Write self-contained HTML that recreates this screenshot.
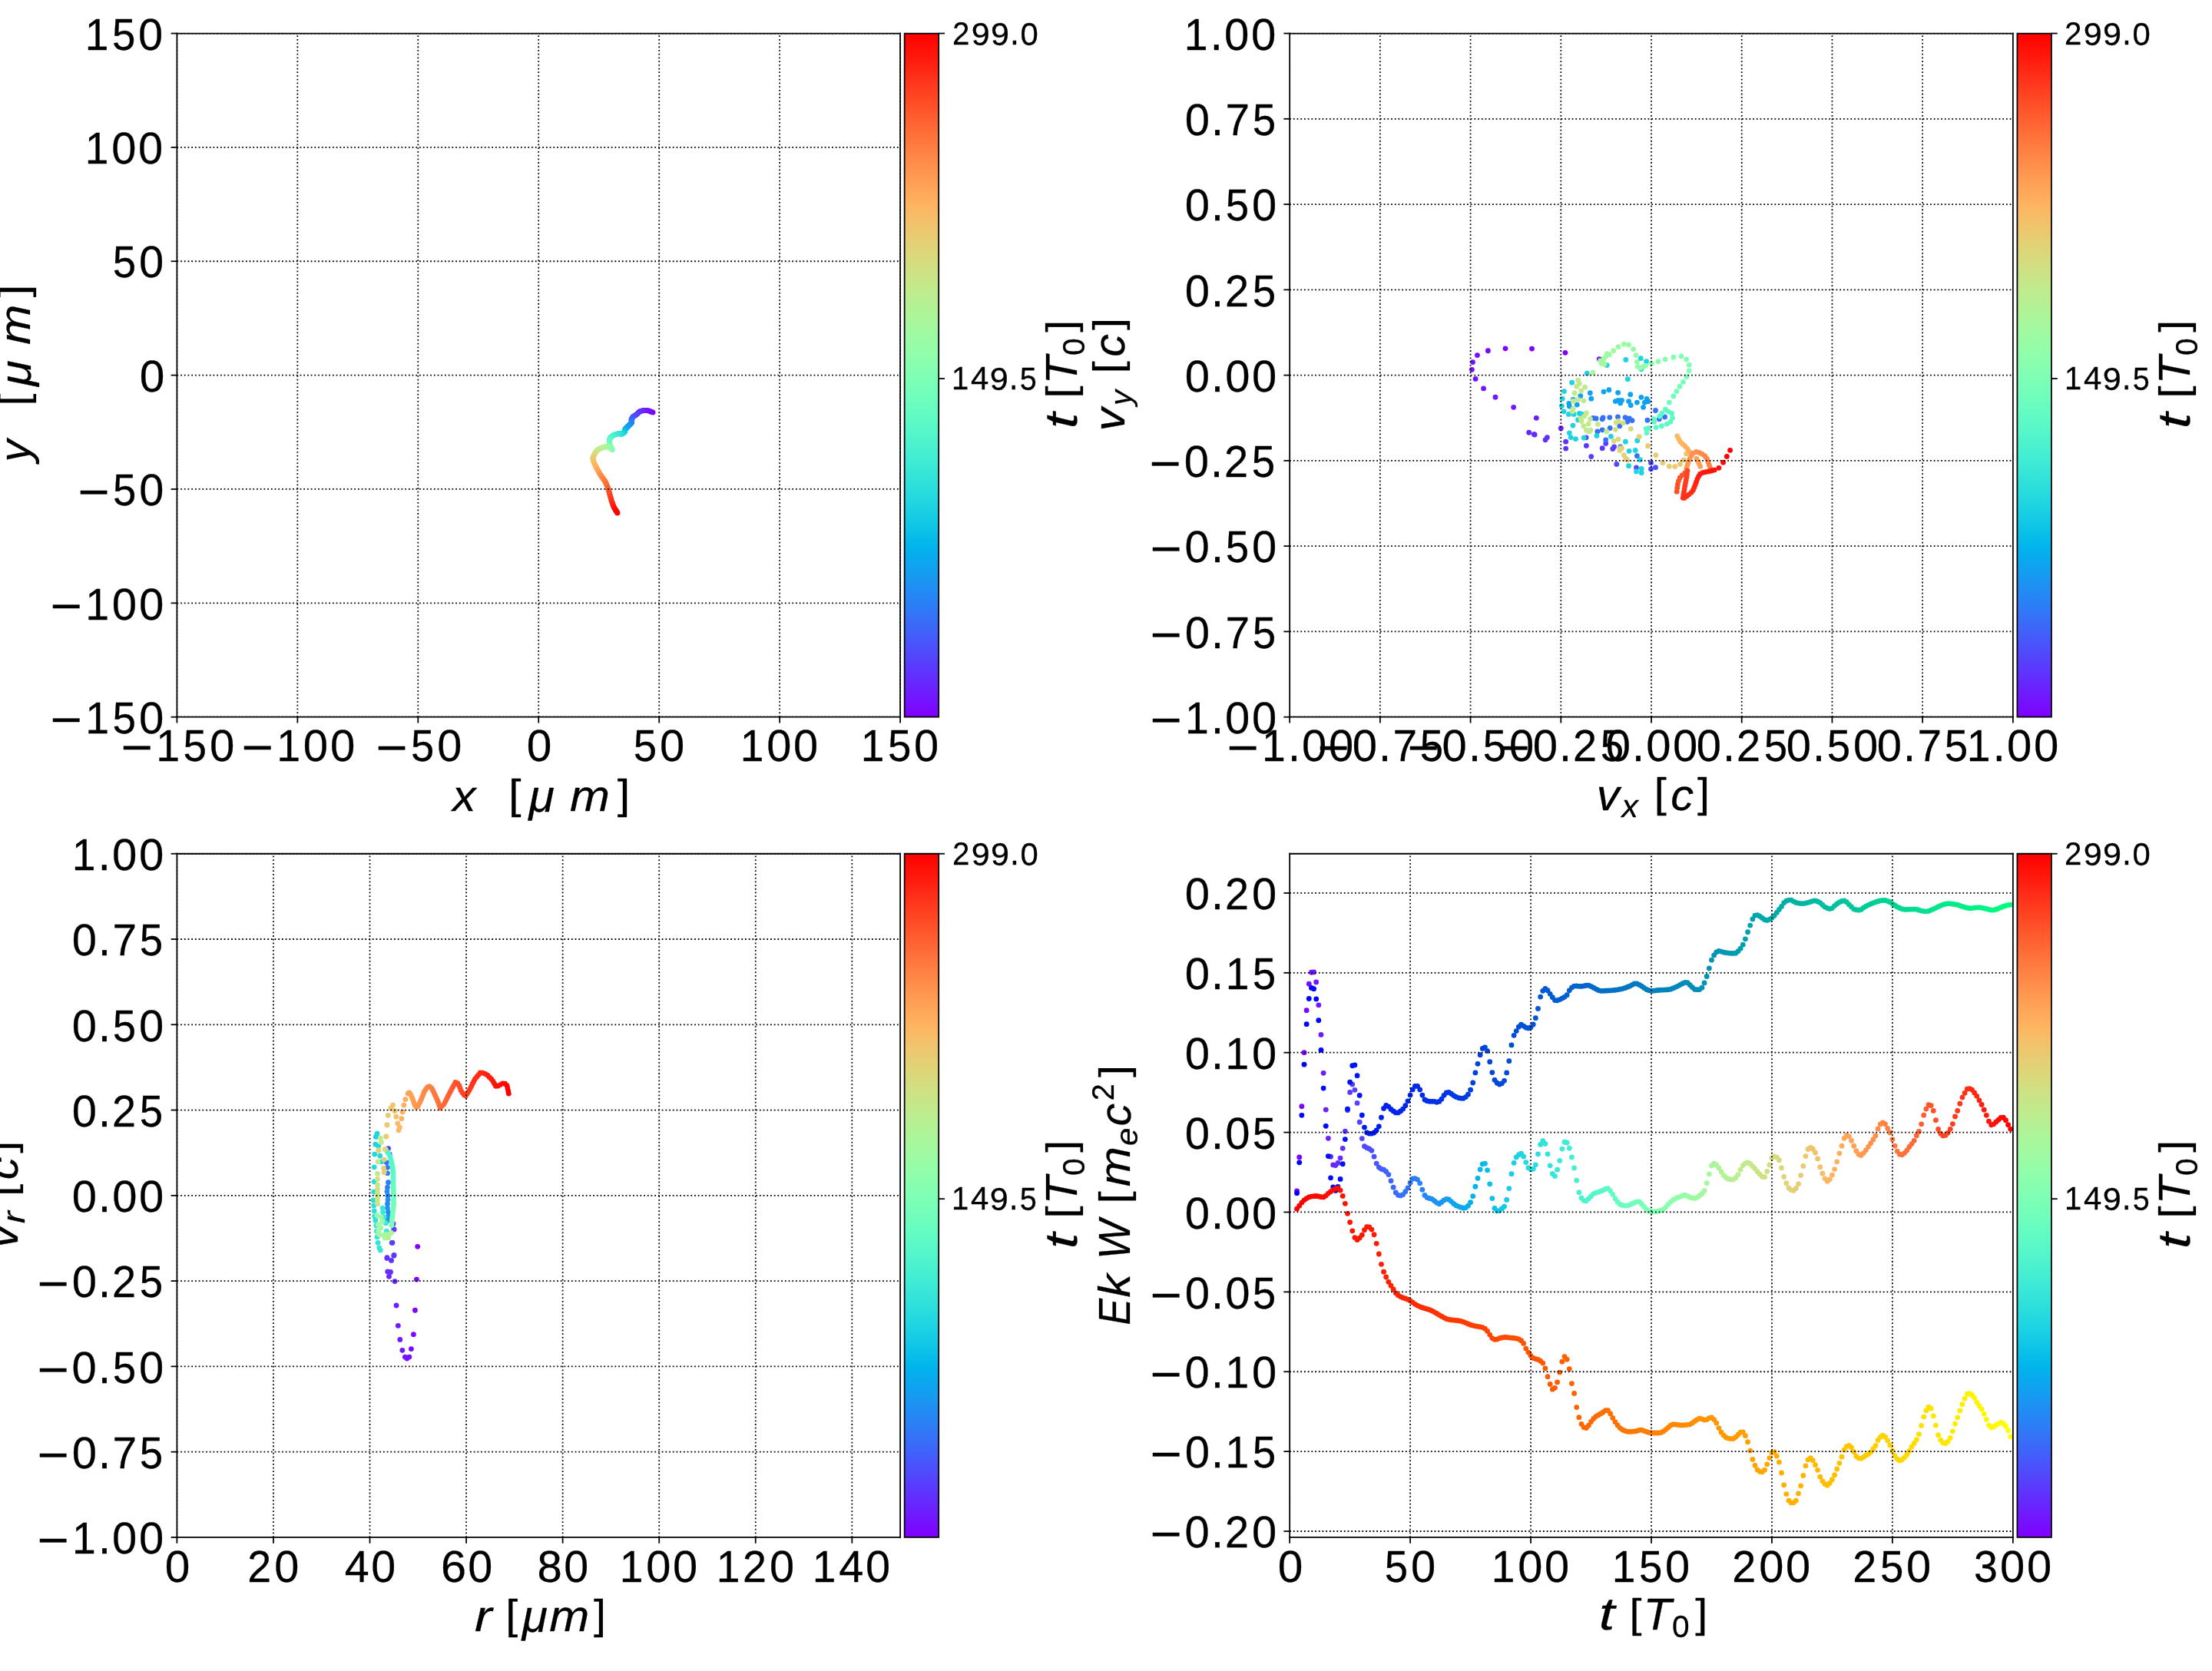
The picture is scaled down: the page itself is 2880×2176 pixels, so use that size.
<!DOCTYPE html>
<html><head><meta charset="utf-8"><title>plot</title><style>html,body{margin:0;padding:0;background:#fff;overflow:hidden}svg{display:block}</style></head><body>
<svg width="2880" height="2176" viewBox="0 0 1296 979.2">
<defs>
<style type="text/css">*{stroke-linejoin: round; stroke-linecap: butt}</style>
<linearGradient id="cbg" x1="0" y1="0" x2="0" y2="1"><stop offset="0" stop-color="#ff0000"/><stop offset="0.0312" stop-color="#ff160b"/><stop offset="0.0625" stop-color="#ff2f18"/><stop offset="0.0938" stop-color="#ff4724"/><stop offset="0.125" stop-color="#ff5f30"/><stop offset="0.1562" stop-color="#ff763d"/><stop offset="0.1875" stop-color="#ff8c49"/><stop offset="0.2188" stop-color="#ffa055"/><stop offset="0.25" stop-color="#ffb360"/><stop offset="0.2812" stop-color="#f0c46c"/><stop offset="0.3125" stop-color="#e0d377"/><stop offset="0.3438" stop-color="#d0e082"/><stop offset="0.375" stop-color="#c0eb8d"/><stop offset="0.4062" stop-color="#b0f397"/><stop offset="0.4375" stop-color="#a0faa1"/><stop offset="0.4688" stop-color="#90feab"/><stop offset="0.5" stop-color="#80ffb4"/><stop offset="0.5312" stop-color="#70febc"/><stop offset="0.5625" stop-color="#60fac5"/><stop offset="0.5938" stop-color="#50f4cc"/><stop offset="0.625" stop-color="#40ecd4"/><stop offset="0.6562" stop-color="#30e1da"/><stop offset="0.6875" stop-color="#20d5e1"/><stop offset="0.7188" stop-color="#10c6e6"/><stop offset="0.75" stop-color="#00b5eb"/><stop offset="0.7812" stop-color="#10a2f0"/><stop offset="0.8125" stop-color="#208ef4"/><stop offset="0.8438" stop-color="#3079f7"/><stop offset="0.875" stop-color="#4062fa"/><stop offset="0.9062" stop-color="#504afc"/><stop offset="0.9375" stop-color="#6032fe"/><stop offset="0.9688" stop-color="#7019ff"/><stop offset="1" stop-color="#8000ff"/></linearGradient></defs>
<g id="figure_1">
<g id="patch_1">
<path d="M 0 979.2 
L 1296 979.2 
L 1296 0 
L 0 0 
z
" style="fill: #ffffff"/>
</g>
<g id="axes_1">
<g id="patch_2">
<path d="M 103.68 420.165818 
L 527.443826 420.165818 
L 527.443826 19.584 
L 103.68 19.584 
z
" style="fill: #ffffff"/>
</g><g transform="scale(0.45)"><circle cx="850.1" cy="537.1" r="3.4" fill="#8000ff"/><circle cx="849.09" cy="536.69" r="3.4" fill="#8000ff"/><circle cx="848.07" cy="536.29" r="3.4" fill="#7e03ff"/><circle cx="847.06" cy="535.88" r="3.4" fill="#7c06ff"/><circle cx="846.05" cy="535.48" r="3.4" fill="#7a09ff"/><circle cx="845.03" cy="535.07" r="3.4" fill="#780dff"/><circle cx="844.02" cy="534.69" r="3.4" fill="#7610ff"/><circle cx="843.01" cy="534.63" r="3.4" fill="#7413ff"/><circle cx="841.99" cy="534.56" r="3.4" fill="#7216ff"/><circle cx="840.98" cy="534.49" r="3.4" fill="#7216ff"/><circle cx="839.96" cy="534.42" r="3.4" fill="#7019ff"/><circle cx="838.95" cy="534.36" r="3.4" fill="#6e1cff"/><circle cx="837.95" cy="534.34" r="3.4" fill="#6c1fff"/><circle cx="837.04" cy="534.61" r="3.4" fill="#6a22fe"/><circle cx="836.13" cy="534.88" r="3.4" fill="#6826fe"/><circle cx="835.22" cy="535.15" r="3.4" fill="#6629fe"/><circle cx="834.31" cy="535.42" r="3.4" fill="#6629fe"/><circle cx="833.39" cy="535.69" r="3.4" fill="#642cfe"/><circle cx="832.56" cy="536.05" r="3.4" fill="#622ffe"/><circle cx="831.97" cy="536.65" r="3.4" fill="#6032fe"/><circle cx="831.38" cy="537.26" r="3.4" fill="#5e35fe"/><circle cx="830.78" cy="537.87" r="3.4" fill="#5c38fd"/><circle cx="830.19" cy="538.48" r="3.4" fill="#5a3bfd"/><circle cx="829.6" cy="539.09" r="3.4" fill="#5a3bfd"/><circle cx="828.94" cy="539.66" r="3.4" fill="#583efd"/><circle cx="828.13" cy="540.17" r="3.4" fill="#5641fd"/><circle cx="827.32" cy="540.68" r="3.4" fill="#5444fd"/><circle cx="826.51" cy="541.18" r="3.4" fill="#5247fc"/><circle cx="825.7" cy="541.69" r="3.4" fill="#504afc"/><circle cx="824.89" cy="542.2" r="3.4" fill="#4e4dfc"/><circle cx="824.29" cy="542.66" r="3.4" fill="#4c50fc"/><circle cx="824.02" cy="543.07" r="3.4" fill="#4c50fc"/><circle cx="823.75" cy="543.47" r="3.4" fill="#4a53fb"/><circle cx="823.48" cy="543.88" r="3.4" fill="#4856fb"/><circle cx="823.21" cy="544.28" r="3.4" fill="#4659fb"/><circle cx="822.94" cy="544.69" r="3.4" fill="#445cfb"/><circle cx="822.67" cy="545.09" r="3.4" fill="#425ffa"/><circle cx="822.4" cy="545.5" r="3.4" fill="#4062fa"/><circle cx="822.13" cy="545.91" r="3.4" fill="#4062fa"/><circle cx="822.04" cy="546.35" r="3.4" fill="#3e65fa"/><circle cx="822.1" cy="546.82" r="3.4" fill="#3c68f9"/><circle cx="822.17" cy="547.29" r="3.4" fill="#396bf9"/><circle cx="822.24" cy="547.76" r="3.4" fill="#386df9"/><circle cx="822.31" cy="548.24" r="3.4" fill="#3670f8"/><circle cx="822.37" cy="548.71" r="3.4" fill="#3473f8"/><circle cx="822.44" cy="549.18" r="3.4" fill="#3473f8"/><circle cx="822.51" cy="549.66" r="3.4" fill="#3176f8"/><circle cx="822.58" cy="550.13" r="3.4" fill="#3079f7"/><circle cx="822.34" cy="550.55" r="3.4" fill="#2e7bf7"/><circle cx="821.94" cy="550.95" r="3.4" fill="#2c7ef7"/><circle cx="821.53" cy="551.35" r="3.4" fill="#2981f6"/><circle cx="821.12" cy="551.74" r="3.4" fill="#2884f6"/><circle cx="820.72" cy="552.14" r="3.4" fill="#2686f5"/><circle cx="820.31" cy="552.54" r="3.4" fill="#2686f5"/><circle cx="819.91" cy="552.94" r="3.4" fill="#2489f5"/><circle cx="819.5" cy="553.33" r="3.4" fill="#218cf4"/><circle cx="819.1" cy="553.73" r="3.4" fill="#208ef4"/><circle cx="818.69" cy="554.13" r="3.4" fill="#1e91f3"/><circle cx="818.29" cy="554.52" r="3.4" fill="#1c93f3"/><circle cx="817.88" cy="554.92" r="3.4" fill="#1996f3"/><circle cx="817.56" cy="555.24" r="3.4" fill="#1996f3"/><circle cx="817.25" cy="555.55" r="3.4" fill="#1898f2"/><circle cx="816.95" cy="555.85" r="3.4" fill="#169bf2"/><circle cx="816.64" cy="556.16" r="3.4" fill="#149df1"/><circle cx="816.34" cy="556.46" r="3.4" fill="#11a0f1"/><circle cx="816.04" cy="556.76" r="3.4" fill="#10a2f0"/><circle cx="815.73" cy="557.07" r="3.4" fill="#0ea5ef"/><circle cx="815.43" cy="557.37" r="3.4" fill="#0ca7ef"/><circle cx="815.12" cy="557.68" r="3.4" fill="#0ca7ef"/><circle cx="814.82" cy="557.98" r="3.4" fill="#09a9ee"/><circle cx="814.52" cy="558.28" r="3.4" fill="#08acee"/><circle cx="814.21" cy="558.59" r="3.4" fill="#06aeed"/><circle cx="814.1" cy="558.94" r="3.4" fill="#04b0ed"/><circle cx="814" cy="559.3" r="3.4" fill="#01b3ec"/><circle cx="813.9" cy="559.65" r="3.4" fill="#00b5eb"/><circle cx="813.8" cy="560" r="3.4" fill="#00b5eb"/><circle cx="813.7" cy="560.36" r="3.4" fill="#02b7eb"/><circle cx="813.6" cy="560.71" r="3.4" fill="#04b9ea"/><circle cx="813.49" cy="561.07" r="3.4" fill="#07bbea"/><circle cx="813.39" cy="561.42" r="3.4" fill="#08bee9"/><circle cx="813.29" cy="561.78" r="3.4" fill="#0ac0e8"/><circle cx="813.19" cy="562.13" r="3.4" fill="#0dc2e8"/><circle cx="813.09" cy="562.49" r="3.4" fill="#0dc2e8"/><circle cx="812.96" cy="562.82" r="3.4" fill="#0fc4e7"/><circle cx="812.66" cy="563.03" r="3.4" fill="#10c6e6"/><circle cx="812.36" cy="563.23" r="3.4" fill="#12c8e6"/><circle cx="812.05" cy="563.43" r="3.4" fill="#14cae5"/><circle cx="811.75" cy="563.64" r="3.4" fill="#17cbe4"/><circle cx="811.44" cy="563.84" r="3.4" fill="#18cde4"/><circle cx="811.14" cy="564.04" r="3.4" fill="#1acfe3"/><circle cx="810.84" cy="564.24" r="3.4" fill="#1acfe3"/><circle cx="810.53" cy="564.45" r="3.4" fill="#1dd1e2"/><circle cx="810.23" cy="564.65" r="3.4" fill="#1fd3e1"/><circle cx="809.92" cy="564.85" r="3.4" fill="#20d5e1"/><circle cx="809.62" cy="565.05" r="3.4" fill="#22d6e0"/><circle cx="809.27" cy="565.18" r="3.4" fill="#24d8df"/><circle cx="808.79" cy="565.11" r="3.4" fill="#27dade"/><circle cx="808.32" cy="565.05" r="3.4" fill="#27dade"/><circle cx="807.85" cy="564.98" r="3.4" fill="#28dbde"/><circle cx="807.38" cy="564.91" r="3.4" fill="#2adddd"/><circle cx="806.9" cy="564.84" r="3.4" fill="#2ddedc"/><circle cx="806.43" cy="564.78" r="3.4" fill="#2fe0db"/><circle cx="805.96" cy="564.71" r="3.4" fill="#30e1da"/><circle cx="805.48" cy="564.64" r="3.4" fill="#32e3da"/><circle cx="804.93" cy="564.68" r="3.4" fill="#34e4d9"/><circle cx="804.25" cy="564.88" r="3.4" fill="#34e4d9"/><circle cx="803.58" cy="565.09" r="3.4" fill="#37e6d8"/><circle cx="802.9" cy="565.29" r="3.4" fill="#38e7d7"/><circle cx="802.23" cy="565.49" r="3.4" fill="#3ae8d6"/><circle cx="801.55" cy="565.69" r="3.4" fill="#3dead5"/><circle cx="800.88" cy="565.9" r="3.4" fill="#3febd5"/><circle cx="800.2" cy="566.1" r="3.4" fill="#40ecd4"/><circle cx="799.52" cy="566.3" r="3.4" fill="#40ecd4"/><circle cx="798.92" cy="566.61" r="3.4" fill="#42edd3"/><circle cx="798.4" cy="567.02" r="3.4" fill="#44eed2"/><circle cx="797.87" cy="567.42" r="3.4" fill="#46efd1"/><circle cx="797.34" cy="567.83" r="3.4" fill="#48f1d0"/><circle cx="796.81" cy="568.23" r="3.4" fill="#4af2cf"/><circle cx="796.28" cy="568.64" r="3.4" fill="#4df3ce"/><circle cx="795.75" cy="569.04" r="3.4" fill="#4df3ce"/><circle cx="795.22" cy="569.45" r="3.4" fill="#4ef3cd"/><circle cx="794.69" cy="569.85" r="3.4" fill="#50f4cc"/><circle cx="794.41" cy="570.3" r="3.4" fill="#52f5cb"/><circle cx="794.28" cy="570.78" r="3.4" fill="#54f6cb"/><circle cx="794.14" cy="571.25" r="3.4" fill="#56f7ca"/><circle cx="794.01" cy="571.72" r="3.4" fill="#58f8c9"/><circle cx="793.87" cy="572.19" r="3.4" fill="#5af8c8"/><circle cx="793.74" cy="572.67" r="3.4" fill="#5af8c8"/><circle cx="793.6" cy="573.14" r="3.4" fill="#5df9c7"/><circle cx="793.47" cy="573.61" r="3.4" fill="#5efac6"/><circle cx="793.33" cy="574.09" r="3.4" fill="#60fac5"/><circle cx="793.35" cy="574.66" r="3.4" fill="#62fbc4"/><circle cx="793.42" cy="575.27" r="3.4" fill="#64fbc3"/><circle cx="793.49" cy="575.88" r="3.4" fill="#66fcc2"/><circle cx="793.55" cy="576.49" r="3.4" fill="#66fcc2"/><circle cx="793.62" cy="577.09" r="3.4" fill="#68fcc1"/><circle cx="793.69" cy="577.7" r="3.4" fill="#6afdc0"/><circle cx="793.76" cy="578.31" r="3.4" fill="#6dfdbf"/><circle cx="793.82" cy="578.92" r="3.4" fill="#6efebe"/><circle cx="793.89" cy="579.53" r="3.4" fill="#70febc"/><circle cx="794.24" cy="580.22" r="3.4" fill="#72febb"/><circle cx="794.63" cy="580.93" r="3.4" fill="#72febb"/><circle cx="795.02" cy="581.64" r="3.4" fill="#74feba"/><circle cx="795.41" cy="582.35" r="3.4" fill="#76ffb9"/><circle cx="795.8" cy="583.06" r="3.4" fill="#78ffb8"/><circle cx="796.18" cy="583.77" r="3.4" fill="#7affb7"/><circle cx="796.59" cy="584.38" r="3.4" fill="#7dffb6"/><circle cx="796.99" cy="584.99" r="3.4" fill="#7effb5"/><circle cx="797.4" cy="585.6" r="3.4" fill="#80ffb4"/><circle cx="797.01" cy="585.26" r="3.4" fill="#80ffb4"/><circle cx="796.61" cy="584.92" r="3.4" fill="#82ffb3"/><circle cx="796.22" cy="584.59" r="3.4" fill="#84ffb2"/><circle cx="795.82" cy="584.25" r="3.4" fill="#86ffb0"/><circle cx="795.43" cy="583.91" r="3.4" fill="#88ffaf"/><circle cx="795.04" cy="583.57" r="3.4" fill="#8bfeae"/><circle cx="794.64" cy="583.24" r="3.4" fill="#8cfead"/><circle cx="794.25" cy="582.9" r="3.4" fill="#8cfead"/><circle cx="793.85" cy="582.58" r="3.4" fill="#8efeac"/><circle cx="793.45" cy="582.45" r="3.4" fill="#90feab"/><circle cx="793.04" cy="582.31" r="3.4" fill="#92fda9"/><circle cx="792.64" cy="582.18" r="3.4" fill="#94fda8"/><circle cx="792.23" cy="582.04" r="3.4" fill="#96fca7"/><circle cx="791.82" cy="581.91" r="3.4" fill="#99fca6"/><circle cx="791.42" cy="581.77" r="3.4" fill="#9bfba5"/><circle cx="791.01" cy="581.64" r="3.4" fill="#9bfba5"/><circle cx="790.61" cy="581.5" r="3.4" fill="#9cfba4"/><circle cx="790.15" cy="581.44" r="3.4" fill="#9efaa2"/><circle cx="789.55" cy="581.59" r="3.4" fill="#a0faa1"/><circle cx="788.94" cy="581.74" r="3.4" fill="#a2f9a0"/><circle cx="788.33" cy="581.89" r="3.4" fill="#a4f89f"/><circle cx="787.72" cy="582.04" r="3.4" fill="#a6f89d"/><circle cx="787.11" cy="582.2" r="3.4" fill="#a6f89d"/><circle cx="786.51" cy="582.35" r="3.4" fill="#a8f79c"/><circle cx="785.9" cy="582.5" r="3.4" fill="#abf69b"/><circle cx="785.29" cy="582.65" r="3.4" fill="#acf59a"/><circle cx="784.68" cy="582.8" r="3.4" fill="#aef498"/><circle cx="784.07" cy="582.96" r="3.4" fill="#b0f397"/><circle cx="783.46" cy="583.11" r="3.4" fill="#b2f396"/><circle cx="782.86" cy="583.34" r="3.4" fill="#b2f396"/><circle cx="782.25" cy="583.67" r="3.4" fill="#b4f295"/><circle cx="781.64" cy="584.01" r="3.4" fill="#b6f193"/><circle cx="781.03" cy="584.35" r="3.4" fill="#b9ef92"/><circle cx="780.42" cy="584.69" r="3.4" fill="#bbee91"/><circle cx="779.82" cy="585.02" r="3.4" fill="#bced8f"/><circle cx="779.21" cy="585.36" r="3.4" fill="#beec8e"/><circle cx="778.6" cy="585.7" r="3.4" fill="#c0eb8d"/><circle cx="777.99" cy="586.04" r="3.4" fill="#c0eb8d"/><circle cx="777.49" cy="586.48" r="3.4" fill="#c2ea8c"/><circle cx="777.08" cy="587.02" r="3.4" fill="#c4e88a"/><circle cx="776.68" cy="587.56" r="3.4" fill="#c6e789"/><circle cx="776.27" cy="588.1" r="3.4" fill="#c8e688"/><circle cx="775.87" cy="588.64" r="3.4" fill="#cbe486"/><circle cx="775.46" cy="589.18" r="3.4" fill="#cce385"/><circle cx="775.06" cy="589.72" r="3.4" fill="#cce385"/><circle cx="774.65" cy="590.26" r="3.4" fill="#cee184"/><circle cx="774.25" cy="590.81" r="3.4" fill="#d0e082"/><circle cx="773.97" cy="591.32" r="3.4" fill="#d2de81"/><circle cx="773.77" cy="591.82" r="3.4" fill="#d4dd80"/><circle cx="773.56" cy="592.32" r="3.4" fill="#d6db7e"/><circle cx="773.36" cy="592.81" r="3.4" fill="#d9da7d"/><circle cx="773.16" cy="593.31" r="3.4" fill="#dbd87b"/><circle cx="772.96" cy="593.81" r="3.4" fill="#dbd87b"/><circle cx="772.75" cy="594.31" r="3.4" fill="#dcd67a"/><circle cx="772.55" cy="594.81" r="3.4" fill="#ded579"/><circle cx="772.35" cy="595.31" r="3.4" fill="#e0d377"/><circle cx="772.15" cy="595.8" r="3.4" fill="#e2d176"/><circle cx="771.94" cy="596.3" r="3.4" fill="#e4cf74"/><circle cx="771.74" cy="596.8" r="3.4" fill="#e6cd73"/><circle cx="771.86" cy="597.44" r="3.4" fill="#e6cd73"/><circle cx="772.06" cy="598.12" r="3.4" fill="#e8cb72"/><circle cx="772.27" cy="598.79" r="3.4" fill="#ebca70"/><circle cx="772.47" cy="599.47" r="3.4" fill="#ecc86f"/><circle cx="772.67" cy="600.14" r="3.4" fill="#eec66d"/><circle cx="772.88" cy="600.82" r="3.4" fill="#f0c46c"/><circle cx="773.08" cy="601.49" r="3.4" fill="#f2c26b"/><circle cx="773.28" cy="602.17" r="3.4" fill="#f2c26b"/><circle cx="773.48" cy="602.85" r="3.4" fill="#f4c069"/><circle cx="773.87" cy="603.65" r="3.4" fill="#f6be68"/><circle cx="774.28" cy="604.46" r="3.4" fill="#f9bb66"/><circle cx="774.68" cy="605.27" r="3.4" fill="#fbb965"/><circle cx="775.09" cy="606.08" r="3.4" fill="#fcb763"/><circle cx="775.49" cy="606.89" r="3.4" fill="#feb562"/><circle cx="775.9" cy="607.7" r="3.4" fill="#ffb360"/><circle cx="776.31" cy="608.51" r="3.4" fill="#ffb360"/><circle cx="776.71" cy="609.32" r="3.4" fill="#ffb05f"/><circle cx="777.12" cy="610.13" r="3.4" fill="#ffae5e"/><circle cx="777.52" cy="610.84" r="3.4" fill="#ffac5c"/><circle cx="777.93" cy="611.55" r="3.4" fill="#ffa95b"/><circle cx="778.33" cy="612.26" r="3.4" fill="#ffa759"/><circle cx="778.74" cy="612.97" r="3.4" fill="#ffa558"/><circle cx="779.14" cy="613.68" r="3.4" fill="#ffa558"/><circle cx="779.55" cy="614.39" r="3.4" fill="#ffa256"/><circle cx="779.95" cy="615.09" r="3.4" fill="#ffa055"/><circle cx="780.36" cy="615.8" r="3.4" fill="#ff9d53"/><circle cx="780.76" cy="616.51" r="3.4" fill="#ff9b52"/><circle cx="781.17" cy="617.22" r="3.4" fill="#ff9850"/><circle cx="781.58" cy="617.93" r="3.4" fill="#ff964f"/><circle cx="782" cy="618.64" r="3.4" fill="#ff964f"/><circle cx="782.51" cy="619.35" r="3.4" fill="#ff934d"/><circle cx="783.01" cy="620.06" r="3.4" fill="#ff914c"/><circle cx="783.52" cy="620.77" r="3.4" fill="#ff8e4a"/><circle cx="784.03" cy="621.48" r="3.4" fill="#ff8c49"/><circle cx="784.54" cy="622.19" r="3.4" fill="#ff8947"/><circle cx="785.04" cy="622.9" r="3.4" fill="#ff8646"/><circle cx="785.55" cy="623.61" r="3.4" fill="#ff8444"/><circle cx="786.06" cy="624.32" r="3.4" fill="#ff8444"/><circle cx="786.56" cy="625.03" r="3.4" fill="#ff8143"/><circle cx="787.07" cy="625.74" r="3.4" fill="#ff7e41"/><circle cx="787.58" cy="626.45" r="3.4" fill="#ff7b40"/><circle cx="788.05" cy="627.24" r="3.4" fill="#ff793e"/><circle cx="788.45" cy="628.17" r="3.4" fill="#ff763d"/><circle cx="788.86" cy="629.11" r="3.4" fill="#ff733b"/><circle cx="789.26" cy="630.04" r="3.4" fill="#ff733b"/><circle cx="789.67" cy="630.98" r="3.4" fill="#ff703a"/><circle cx="790.07" cy="631.91" r="3.4" fill="#ff6d38"/><circle cx="790.48" cy="632.84" r="3.4" fill="#ff6b37"/><circle cx="790.88" cy="633.78" r="3.4" fill="#ff6835"/><circle cx="791.29" cy="634.71" r="3.4" fill="#ff6533"/><circle cx="791.63" cy="635.65" r="3.4" fill="#ff6232"/><circle cx="791.9" cy="636.6" r="3.4" fill="#ff5f30"/><circle cx="792.17" cy="637.55" r="3.4" fill="#ff5f30"/><circle cx="792.44" cy="638.49" r="3.4" fill="#ff5c2f"/><circle cx="792.71" cy="639.44" r="3.4" fill="#ff592d"/><circle cx="792.98" cy="640.38" r="3.4" fill="#ff562c"/><circle cx="793.25" cy="641.33" r="3.4" fill="#ff532a"/><circle cx="793.52" cy="642.28" r="3.4" fill="#ff5029"/><circle cx="793.79" cy="643.22" r="3.4" fill="#ff4d27"/><circle cx="794.06" cy="644.17" r="3.4" fill="#ff4d27"/><circle cx="794.31" cy="645.11" r="3.4" fill="#ff4a26"/><circle cx="794.57" cy="646.06" r="3.4" fill="#ff4724"/><circle cx="794.83" cy="647.01" r="3.4" fill="#ff4422"/><circle cx="795.09" cy="647.95" r="3.4" fill="#ff4121"/><circle cx="795.35" cy="648.9" r="3.4" fill="#ff3e1f"/><circle cx="795.61" cy="649.84" r="3.4" fill="#ff3b1e"/><circle cx="795.87" cy="650.79" r="3.4" fill="#ff3b1e"/><circle cx="796.13" cy="651.74" r="3.4" fill="#ff381c"/><circle cx="796.44" cy="652.68" r="3.4" fill="#ff351b"/><circle cx="796.78" cy="653.63" r="3.4" fill="#ff3219"/><circle cx="797.12" cy="654.57" r="3.4" fill="#ff2f18"/><circle cx="797.46" cy="655.52" r="3.4" fill="#ff2c16"/><circle cx="797.79" cy="656.46" r="3.4" fill="#ff2914"/><circle cx="798.13" cy="657.41" r="3.4" fill="#ff2613"/><circle cx="798.47" cy="658.36" r="3.4" fill="#ff2613"/><circle cx="798.81" cy="659.3" r="3.4" fill="#ff2211"/><circle cx="799.15" cy="660.25" r="3.4" fill="#ff1f10"/><circle cx="799.54" cy="660.95" r="3.4" fill="#ff1c0e"/><circle cx="799.95" cy="661.6" r="3.4" fill="#ff190d"/><circle cx="800.35" cy="662.25" r="3.4" fill="#ff160b"/><circle cx="800.76" cy="662.9" r="3.4" fill="#ff1309"/><circle cx="801.16" cy="663.55" r="3.4" fill="#ff1309"/><circle cx="801.57" cy="664.2" r="3.4" fill="#ff1008"/><circle cx="801.97" cy="664.85" r="3.4" fill="#ff0d06"/><circle cx="802.38" cy="665.5" r="3.4" fill="#ff0905"/><circle cx="802.78" cy="666.15" r="3.4" fill="#ff0603"/><circle cx="803.19" cy="666.8" r="3.4" fill="#ff0302"/><circle cx="803.59" cy="667.45" r="3.4" fill="#ff0000"/><circle cx="804" cy="668.1" r="3.4" fill="#ff0000"/></g>
<g id="matplotlib.axis_1">
<g id="xtick_1">
<g id="line2d_1">
<path d="M 103.68 420.165818 
L 103.68 19.584 
" clip-path="url(#pd6aecbfa7d)" style="fill: none; stroke-dasharray: 0.8,1.32; stroke-dashoffset: 0; stroke: #000000; stroke-width: 0.8"/>
</g>
<g id="line2d_2">
<defs>
<path id="m1504cfccaf" d="M 0 0 
L 0 3.5 
" style="stroke: #000000; stroke-width: 0.8"/>
</defs>
<g>
<use xlink:href="#m1504cfccaf" x="103.68" y="420.165818" style="stroke: #000000; stroke-width: 0.8"/>
</g>
</g>
</g>
<g id="xtick_2">
<g id="line2d_3">
<path d="M 174.307304 420.165818 
L 174.307304 19.584 
" clip-path="url(#pd6aecbfa7d)" style="fill: none; stroke-dasharray: 0.8,1.32; stroke-dashoffset: 0; stroke: #000000; stroke-width: 0.8"/>
</g>
<g id="line2d_4">
<g>
<use xlink:href="#m1504cfccaf" x="174.307304" y="420.165818" style="stroke: #000000; stroke-width: 0.8"/>
</g>
</g>
</g>
<g id="xtick_3">
<g id="line2d_5">
<path d="M 244.934609 420.165818 
L 244.934609 19.584 
" clip-path="url(#pd6aecbfa7d)" style="fill: none; stroke-dasharray: 0.8,1.32; stroke-dashoffset: 0; stroke: #000000; stroke-width: 0.8"/>
</g>
<g id="line2d_6">
<g>
<use xlink:href="#m1504cfccaf" x="244.934609" y="420.165818" style="stroke: #000000; stroke-width: 0.8"/>
</g>
</g>
</g>
<g id="xtick_4">
<g id="line2d_7">
<path d="M 315.561913 420.165818 
L 315.561913 19.584 
" clip-path="url(#pd6aecbfa7d)" style="fill: none; stroke-dasharray: 0.8,1.32; stroke-dashoffset: 0; stroke: #000000; stroke-width: 0.8"/>
</g>
<g id="line2d_8">
<g>
<use xlink:href="#m1504cfccaf" x="315.561913" y="420.165818" style="stroke: #000000; stroke-width: 0.8"/>
</g>
</g>
</g>
<g id="xtick_5">
<g id="line2d_9">
<path d="M 386.189217 420.165818 
L 386.189217 19.584 
" clip-path="url(#pd6aecbfa7d)" style="fill: none; stroke-dasharray: 0.8,1.32; stroke-dashoffset: 0; stroke: #000000; stroke-width: 0.8"/>
</g>
<g id="line2d_10">
<g>
<use xlink:href="#m1504cfccaf" x="386.189217" y="420.165818" style="stroke: #000000; stroke-width: 0.8"/>
</g>
</g>
</g>
<g id="xtick_6">
<g id="line2d_11">
<path d="M 456.816522 420.165818 
L 456.816522 19.584 
" clip-path="url(#pd6aecbfa7d)" style="fill: none; stroke-dasharray: 0.8,1.32; stroke-dashoffset: 0; stroke: #000000; stroke-width: 0.8"/>
</g>
<g id="line2d_12">
<g>
<use xlink:href="#m1504cfccaf" x="456.816522" y="420.165818" style="stroke: #000000; stroke-width: 0.8"/>
</g>
</g>
</g>
<g id="xtick_7">
<g id="line2d_13">
<path d="M 527.443826 420.165818 
L 527.443826 19.584 
" clip-path="url(#pd6aecbfa7d)" style="fill: none; stroke-dasharray: 0.8,1.32; stroke-dashoffset: 0; stroke: #000000; stroke-width: 0.8"/>
</g>
<g id="line2d_14">
<g>
<use xlink:href="#m1504cfccaf" x="527.443826" y="420.165818" style="stroke: #000000; stroke-width: 0.8"/>
</g>
</g>
</g>
</g>
<g id="matplotlib.axis_2">
<g id="ytick_1">
<g id="line2d_15">
<path d="M 103.68 420.165818 
L 527.443826 420.165818 
" clip-path="url(#pd6aecbfa7d)" style="fill: none; stroke-dasharray: 0.8,1.32; stroke-dashoffset: 0; stroke: #000000; stroke-width: 0.8"/>
</g>
<g id="line2d_16">
<defs>
<path id="m5d545ce8f8" d="M 0 0 
L -3.5 0 
" style="stroke: #000000; stroke-width: 0.8"/>
</defs>
<g>
<use xlink:href="#m5d545ce8f8" x="103.68" y="420.165818" style="stroke: #000000; stroke-width: 0.8"/>
</g>
</g>
</g>
<g id="ytick_2">
<g id="line2d_17">
<path d="M 103.68 353.402182 
L 527.443826 353.402182 
" clip-path="url(#pd6aecbfa7d)" style="fill: none; stroke-dasharray: 0.8,1.32; stroke-dashoffset: 0; stroke: #000000; stroke-width: 0.8"/>
</g>
<g id="line2d_18">
<g>
<use xlink:href="#m5d545ce8f8" x="103.68" y="353.402182" style="stroke: #000000; stroke-width: 0.8"/>
</g>
</g>
</g>
<g id="ytick_3">
<g id="line2d_19">
<path d="M 103.68 286.638545 
L 527.443826 286.638545 
" clip-path="url(#pd6aecbfa7d)" style="fill: none; stroke-dasharray: 0.8,1.32; stroke-dashoffset: 0; stroke: #000000; stroke-width: 0.8"/>
</g>
<g id="line2d_20">
<g>
<use xlink:href="#m5d545ce8f8" x="103.68" y="286.638545" style="stroke: #000000; stroke-width: 0.8"/>
</g>
</g>
</g>
<g id="ytick_4">
<g id="line2d_21">
<path d="M 103.68 219.874909 
L 527.443826 219.874909 
" clip-path="url(#pd6aecbfa7d)" style="fill: none; stroke-dasharray: 0.8,1.32; stroke-dashoffset: 0; stroke: #000000; stroke-width: 0.8"/>
</g>
<g id="line2d_22">
<g>
<use xlink:href="#m5d545ce8f8" x="103.68" y="219.874909" style="stroke: #000000; stroke-width: 0.8"/>
</g>
</g>
</g>
<g id="ytick_5">
<g id="line2d_23">
<path d="M 103.68 153.111273 
L 527.443826 153.111273 
" clip-path="url(#pd6aecbfa7d)" style="fill: none; stroke-dasharray: 0.8,1.32; stroke-dashoffset: 0; stroke: #000000; stroke-width: 0.8"/>
</g>
<g id="line2d_24">
<g>
<use xlink:href="#m5d545ce8f8" x="103.68" y="153.111273" style="stroke: #000000; stroke-width: 0.8"/>
</g>
</g>
</g>
<g id="ytick_6">
<g id="line2d_25">
<path d="M 103.68 86.347636 
L 527.443826 86.347636 
" clip-path="url(#pd6aecbfa7d)" style="fill: none; stroke-dasharray: 0.8,1.32; stroke-dashoffset: 0; stroke: #000000; stroke-width: 0.8"/>
</g>
<g id="line2d_26">
<g>
<use xlink:href="#m5d545ce8f8" x="103.68" y="86.347636" style="stroke: #000000; stroke-width: 0.8"/>
</g>
</g>
</g>
<g id="ytick_7">
<g id="line2d_27">
<path d="M 103.68 19.584 
L 527.443826 19.584 
" clip-path="url(#pd6aecbfa7d)" style="fill: none; stroke-dasharray: 0.8,1.32; stroke-dashoffset: 0; stroke: #000000; stroke-width: 0.8"/>
</g>
<g id="line2d_28">
<g>
<use xlink:href="#m5d545ce8f8" x="103.68" y="19.584" style="stroke: #000000; stroke-width: 0.8"/>
</g>
</g>
</g>
</g>
<g id="patch_3">
<path d="M 103.68 420.165818 
L 103.68 19.584 
" style="fill: none; stroke: #000000; stroke-width: 0.8; stroke-linejoin: miter; stroke-linecap: square"/>
</g>
<g id="patch_4">
<path d="M 527.443826 420.165818 
L 527.443826 19.584 
" style="fill: none; stroke: #000000; stroke-width: 0.8; stroke-linejoin: miter; stroke-linecap: square"/>
</g>
<g id="patch_5">
<path d="M 103.68 420.165818 
L 527.443826 420.165818 
" style="fill: none; stroke: #000000; stroke-width: 0.8; stroke-linejoin: miter; stroke-linecap: square"/>
</g>
<g id="patch_6">
<path d="M 103.68 19.584 
L 527.443826 19.584 
" style="fill: none; stroke: #000000; stroke-width: 0.8; stroke-linejoin: miter; stroke-linecap: square"/>
</g>
</g>
<g id="axes_2">
<g id="patch_7">
<path d="M 755.624348 420.165818 
L 1179.388174 420.165818 
L 1179.388174 19.584 
L 755.624348 19.584 
z
" style="fill: #ffffff"/>
</g><g transform="scale(0.45)"><circle cx="2037.92" cy="459.29" r="3.4" fill="#8000ff"/><circle cx="1994.52" cy="454.05" r="3.4" fill="#8000ff"/><circle cx="1959.98" cy="453.87" r="3.4" fill="#7e03ff"/><circle cx="1937.38" cy="456.76" r="3.4" fill="#7c06ff"/><circle cx="1923.45" cy="462.55" r="3.4" fill="#7a09ff"/><circle cx="1917.49" cy="471.59" r="3.4" fill="#780dff"/><circle cx="1916.4" cy="481.36" r="3.4" fill="#7610ff"/><circle cx="1921.1" cy="493.47" r="3.4" fill="#7610ff"/><circle cx="1931.59" cy="505.95" r="3.4" fill="#7413ff"/><circle cx="1946.96" cy="517.16" r="3.4" fill="#7216ff"/><circle cx="1970.65" cy="530.36" r="3.4" fill="#7019ff"/><circle cx="2000.31" cy="544.29" r="3.4" fill="#6e1cff"/><circle cx="2032.31" cy="557.67" r="3.4" fill="#6c1fff"/><circle cx="2082.22" cy="467.61" r="3.4" fill="#6c1fff"/><circle cx="1990.72" cy="563.27" r="3.4" fill="#6826fe"/><circle cx="1997.23" cy="565.62" r="3.4" fill="#6629fe"/><circle cx="1998.14" cy="565.99" r="3.4" fill="#642cfe"/><circle cx="2012.06" cy="572.86" r="3.4" fill="#642cfe"/><circle cx="2014.41" cy="569.6" r="3.4" fill="#622ffe"/><circle cx="2038.64" cy="575.21" r="3.4" fill="#6032fe"/><circle cx="2038.64" cy="584.07" r="3.4" fill="#6032fe"/><circle cx="2065.41" cy="580.45" r="3.4" fill="#5e35fe"/><circle cx="2065.05" cy="569.78" r="3.4" fill="#5c38fd"/><circle cx="2071.74" cy="594.56" r="3.4" fill="#5a3bfd"/><circle cx="2086.2" cy="583.71" r="3.4" fill="#5a3bfd"/><circle cx="2090.72" cy="577.38" r="3.4" fill="#583efd"/><circle cx="2099.76" cy="584.61" r="3.4" fill="#5641fd"/><circle cx="2101.57" cy="581.9" r="3.4" fill="#5641fd"/><circle cx="2104.83" cy="604.5" r="3.4" fill="#4e4dfc"/><circle cx="2130.51" cy="609.02" r="3.4" fill="#4e4dfc"/><circle cx="2149.49" cy="602.69" r="3.4" fill="#4e4dfc"/><circle cx="2149.49" cy="610.83" r="3.4" fill="#4e4dfc"/><circle cx="2155.46" cy="608.66" r="3.4" fill="#4e4dfc"/><circle cx="2074.45" cy="544.29" r="3.4" fill="#3473f8"/><circle cx="2078.07" cy="545.01" r="3.4" fill="#3473f8"/><circle cx="2086.2" cy="545.73" r="3.4" fill="#3473f8"/><circle cx="2087.11" cy="543.92" r="3.4" fill="#3473f8"/><circle cx="2095.79" cy="543.56" r="3.4" fill="#3473f8"/><circle cx="2106.46" cy="543.02" r="3.4" fill="#3473f8"/><circle cx="2116.04" cy="543.56" r="3.4" fill="#3473f8"/><circle cx="2118.75" cy="549.35" r="3.4" fill="#3473f8"/><circle cx="2121.46" cy="544.83" r="3.4" fill="#3473f8"/><circle cx="2125.08" cy="547.54" r="3.4" fill="#3473f8"/><circle cx="2108.81" cy="554.77" r="3.4" fill="#3473f8"/><circle cx="2096.15" cy="557.49" r="3.4" fill="#3473f8"/><circle cx="2086.2" cy="559.84" r="3.4" fill="#3473f8"/><circle cx="2079.87" cy="562.01" r="3.4" fill="#3473f8"/><circle cx="2090.72" cy="572.86" r="3.4" fill="#3473f8"/><circle cx="2144.97" cy="547.18" r="3.4" fill="#3473f8"/><circle cx="2160.34" cy="545.73" r="3.4" fill="#3473f8"/><circle cx="2167.58" cy="543.02" r="3.4" fill="#3473f8"/><circle cx="2155.46" cy="534.52" r="3.4" fill="#3473f8"/><circle cx="2131.41" cy="593.65" r="3.4" fill="#3473f8"/><circle cx="2109.71" cy="581.9" r="3.4" fill="#3473f8"/><circle cx="2103.38" cy="522.59" r="3.4" fill="#10a2f0"/><circle cx="2107" cy="521.32" r="3.4" fill="#10a2f0"/><circle cx="2109.71" cy="524.94" r="3.4" fill="#10a2f0"/><circle cx="2111.52" cy="521.32" r="3.4" fill="#10a2f0"/><circle cx="2120.56" cy="522.59" r="3.4" fill="#10a2f0"/><circle cx="2123.27" cy="527.65" r="3.4" fill="#10a2f0"/><circle cx="2131.41" cy="524.03" r="3.4" fill="#10a2f0"/><circle cx="2136.84" cy="517.34" r="3.4" fill="#10a2f0"/><circle cx="2139.55" cy="530.36" r="3.4" fill="#10a2f0"/><circle cx="2141.36" cy="524.03" r="3.4" fill="#10a2f0"/><circle cx="2144.07" cy="519.51" r="3.4" fill="#10a2f0"/><circle cx="2145.88" cy="522.77" r="3.4" fill="#10a2f0"/><circle cx="2122.73" cy="513.73" r="3.4" fill="#10a2f0"/><circle cx="2106.64" cy="511.37" r="3.4" fill="#10a2f0"/><circle cx="2094.88" cy="507.76" r="3.4" fill="#10a2f0"/><circle cx="2088.01" cy="510.11" r="3.4" fill="#10a2f0"/><circle cx="2070.29" cy="511.74" r="3.4" fill="#10a2f0"/><circle cx="2071.74" cy="519.15" r="3.4" fill="#10a2f0"/><circle cx="2057.81" cy="515.53" r="3.4" fill="#10a2f0"/><circle cx="2053.29" cy="527.11" r="3.4" fill="#10a2f0"/><circle cx="2048.23" cy="520.42" r="3.4" fill="#10a2f0"/><circle cx="2042.8" cy="525.3" r="3.4" fill="#10a2f0"/><circle cx="2043.35" cy="529.1" r="3.4" fill="#10a2f0"/><circle cx="2036.47" cy="509.57" r="3.4" fill="#1fd3e1"/><circle cx="2034.12" cy="519.15" r="3.4" fill="#1fd3e1"/><circle cx="2033.4" cy="528.55" r="3.4" fill="#1fd3e1"/><circle cx="2036.11" cy="535.79" r="3.4" fill="#1fd3e1"/><circle cx="2042.44" cy="539.4" r="3.4" fill="#1fd3e1"/><circle cx="2049.13" cy="539.4" r="3.4" fill="#1fd3e1"/><circle cx="2056.37" cy="538.5" r="3.4" fill="#1fd3e1"/><circle cx="2059.62" cy="539.4" r="3.4" fill="#1fd3e1"/><circle cx="2046.6" cy="498.17" r="3.4" fill="#1fd3e1"/><circle cx="2066.31" cy="486.06" r="3.4" fill="#1fd3e1"/><circle cx="2116.76" cy="468.52" r="3.4" fill="#1fd3e1"/><circle cx="2136.29" cy="466.71" r="3.4" fill="#1fd3e1"/><circle cx="2143.53" cy="470.69" r="3.4" fill="#1fd3e1"/><circle cx="2119.29" cy="493.65" r="3.4" fill="#1fd3e1"/><circle cx="2092.17" cy="475.57" r="3.4" fill="#1fd3e1"/><circle cx="2136.84" cy="480.63" r="3.4" fill="#1fd3e1"/><circle cx="2047.87" cy="554.05" r="3.4" fill="#1fd3e1"/><circle cx="2043.35" cy="563.82" r="3.4" fill="#1fd3e1"/><circle cx="2045.15" cy="569.6" r="3.4" fill="#1fd3e1"/><circle cx="2051.48" cy="571.59" r="3.4" fill="#1fd3e1"/><circle cx="2062.33" cy="570.14" r="3.4" fill="#1fd3e1"/><circle cx="2078.97" cy="567.43" r="3.4" fill="#1fd3e1"/><circle cx="2097.41" cy="568.34" r="3.4" fill="#1fd3e1"/><circle cx="2116.4" cy="575.21" r="3.4" fill="#1fd3e1"/><circle cx="2121.1" cy="587.32" r="3.4" fill="#1fd3e1"/><circle cx="2129.24" cy="586.42" r="3.4" fill="#1fd3e1"/><circle cx="2131.77" cy="573.76" r="3.4" fill="#1fd3e1"/><circle cx="2135.39" cy="598.72" r="3.4" fill="#1fd3e1"/><circle cx="2120.56" cy="606.67" r="3.4" fill="#1fd3e1"/><circle cx="2130.51" cy="613.91" r="3.4" fill="#1fd3e1"/><circle cx="2137.2" cy="610.29" r="3.4" fill="#1fd3e1"/><circle cx="2137.2" cy="615.71" r="3.4" fill="#1fd3e1"/><circle cx="2054.56" cy="546.64" r="3.4" fill="#1fd3e1"/><circle cx="2143.16" cy="558.39" r="3.4" fill="#5df9c7"/><circle cx="2144.07" cy="563.82" r="3.4" fill="#5df9c7"/><circle cx="2146.78" cy="557.49" r="3.4" fill="#5df9c7"/><circle cx="2153.11" cy="545.73" r="3.4" fill="#5df9c7"/><circle cx="2153.65" cy="549.35" r="3.4" fill="#5df9c7"/><circle cx="2156.18" cy="556.58" r="3.4" fill="#5df9c7"/><circle cx="2163.42" cy="554.77" r="3.4" fill="#5df9c7"/><circle cx="2170.29" cy="552.06" r="3.4" fill="#5df9c7"/><circle cx="2174.81" cy="549.35" r="3.4" fill="#5df9c7"/><circle cx="2177.52" cy="544.29" r="3.4" fill="#5df9c7"/><circle cx="2176.62" cy="538.5" r="3.4" fill="#5df9c7"/><circle cx="2172.1" cy="535.79" r="3.4" fill="#5df9c7"/><circle cx="2168.48" cy="533.07" r="3.4" fill="#5df9c7"/><circle cx="2163.96" cy="538.14" r="3.4" fill="#5df9c7"/><circle cx="2160.89" cy="542.12" r="3.4" fill="#5df9c7"/><circle cx="2173.36" cy="524.03" r="3.4" fill="#70febc"/><circle cx="2178.79" cy="515.9" r="3.4" fill="#72febb"/><circle cx="2182.95" cy="509.57" r="3.4" fill="#74feba"/><circle cx="2186.93" cy="503.24" r="3.4" fill="#76ffb9"/><circle cx="2191.45" cy="497.45" r="3.4" fill="#78ffb8"/><circle cx="2195.97" cy="490.58" r="3.4" fill="#7affb7"/><circle cx="2199.22" cy="482.8" r="3.4" fill="#7dffb6"/><circle cx="2199.22" cy="475.21" r="3.4" fill="#7effb5"/><circle cx="2195.61" cy="467.97" r="3.4" fill="#80ffb4"/><circle cx="2188.92" cy="464" r="3.4" fill="#82ffb3"/><circle cx="2178.79" cy="465.26" r="3.4" fill="#84ffb2"/><circle cx="2168.12" cy="467.97" r="3.4" fill="#86ffb0"/><circle cx="2158.9" cy="470.69" r="3.4" fill="#88ffaf"/><circle cx="2150.4" cy="473.4" r="3.4" fill="#8bfeae"/><circle cx="2142.62" cy="476.11" r="3.4" fill="#8efeac"/><circle cx="2139.55" cy="477.38" r="3.4" fill="#90feab"/><circle cx="2135.93" cy="479.19" r="3.4" fill="#92fda9"/><circle cx="2132.31" cy="477.38" r="3.4" fill="#92fda9"/><circle cx="2131.41" cy="471.23" r="3.4" fill="#94fda8"/><circle cx="2130.14" cy="462.55" r="3.4" fill="#96fca7"/><circle cx="2126.53" cy="454.77" r="3.4" fill="#96fca7"/><circle cx="2120.56" cy="448.99" r="3.4" fill="#99fca6"/><circle cx="2114.23" cy="448.08" r="3.4" fill="#9bfba5"/><circle cx="2107" cy="451.7" r="3.4" fill="#9bfba5"/><circle cx="2100.67" cy="456.76" r="3.4" fill="#9cfba4"/><circle cx="2095.24" cy="461.65" r="3.4" fill="#9efaa2"/><circle cx="2092.53" cy="460.74" r="3.4" fill="#9efaa2"/><circle cx="2090.72" cy="464.36" r="3.4" fill="#a0faa1"/><circle cx="2088.01" cy="467.07" r="3.4" fill="#a2f9a0"/><circle cx="2085.3" cy="473.4" r="3.4" fill="#a2f9a0"/><circle cx="2083.49" cy="469.78" r="3.4" fill="#a4f89f"/><circle cx="2087.11" cy="470.69" r="3.4" fill="#a6f89d"/><circle cx="2088.92" cy="474.3" r="3.4" fill="#a6f89d"/><circle cx="2073.91" cy="485.15" r="3.4" fill="#a8f79c"/><circle cx="2054.56" cy="495.1" r="3.4" fill="#c2ea8c"/><circle cx="2056.37" cy="499.62" r="3.4" fill="#c2ea8c"/><circle cx="2052.75" cy="503.24" r="3.4" fill="#c2ea8c"/><circle cx="2063.6" cy="504.14" r="3.4" fill="#c2ea8c"/><circle cx="2058.72" cy="508.66" r="3.4" fill="#c2ea8c"/><circle cx="2050.04" cy="511.92" r="3.4" fill="#c2ea8c"/><circle cx="2061.79" cy="521.86" r="3.4" fill="#c2ea8c"/><circle cx="2054.56" cy="520.42" r="3.4" fill="#c2ea8c"/><circle cx="2048.23" cy="522.22" r="3.4" fill="#c2ea8c"/><circle cx="2048.23" cy="532.17" r="3.4" fill="#c2ea8c"/><circle cx="2047.32" cy="535.79" r="3.4" fill="#c2ea8c"/><circle cx="2065.41" cy="537.96" r="3.4" fill="#c2ea8c"/><circle cx="2062.69" cy="542.12" r="3.4" fill="#c2ea8c"/><circle cx="2058.17" cy="544.83" r="3.4" fill="#c2ea8c"/><circle cx="2059.08" cy="548.44" r="3.4" fill="#c2ea8c"/><circle cx="2070.47" cy="545.73" r="3.4" fill="#c2ea8c"/><circle cx="2068.12" cy="552.06" r="3.4" fill="#c2ea8c"/><circle cx="2061.79" cy="554.77" r="3.4" fill="#c2ea8c"/><circle cx="2065.41" cy="560.2" r="3.4" fill="#c2ea8c"/><circle cx="2069.02" cy="562.01" r="3.4" fill="#c2ea8c"/><circle cx="2070.83" cy="560.2" r="3.4" fill="#c2ea8c"/><circle cx="2080.42" cy="552.42" r="3.4" fill="#c2ea8c"/><circle cx="2091.63" cy="562.01" r="3.4" fill="#c2ea8c"/><circle cx="2104.29" cy="550.25" r="3.4" fill="#d0e082"/><circle cx="2107" cy="548.44" r="3.4" fill="#d2de81"/><circle cx="2113.33" cy="550.8" r="3.4" fill="#d4dd80"/><circle cx="2103.38" cy="559.29" r="3.4" fill="#d6db7e"/><circle cx="2123.27" cy="558.39" r="3.4" fill="#d6db7e"/><circle cx="2107" cy="571.95" r="3.4" fill="#d9da7d"/><circle cx="2101.21" cy="574.3" r="3.4" fill="#dbd87b"/><circle cx="2109.71" cy="583.71" r="3.4" fill="#dcd67a"/><circle cx="2111.52" cy="583.71" r="3.4" fill="#dcd67a"/><circle cx="2108.81" cy="586.42" r="3.4" fill="#ded579"/><circle cx="2114.23" cy="592.75" r="3.4" fill="#e0d377"/><circle cx="2116.94" cy="597.27" r="3.4" fill="#e2d176"/><circle cx="2118.75" cy="599.08" r="3.4" fill="#e2d176"/><circle cx="2134.12" cy="568.7" r="3.4" fill="#e4cf74"/><circle cx="2145.52" cy="580.63" r="3.4" fill="#e6cd73"/><circle cx="2155.82" cy="592.75" r="3.4" fill="#e6cd73"/><circle cx="2164.86" cy="602.69" r="3.4" fill="#e8cb72"/><circle cx="2173.36" cy="607.22" r="3.4" fill="#ebca70"/><circle cx="2180.78" cy="607.58" r="3.4" fill="#ecc86f"/><circle cx="2187.47" cy="604.5" r="3.4" fill="#ecc86f"/><circle cx="2192.35" cy="599.08" r="3.4" fill="#eec66d"/><circle cx="2195.61" cy="590.94" r="3.4" fill="#f0c46c"/><circle cx="2183.76" cy="567.78" r="3.4" fill="#f9bb66"/><circle cx="2185.65" cy="571.55" r="3.4" fill="#fbb965"/><circle cx="2187.64" cy="575.27" r="3.4" fill="#fcb763"/><circle cx="2190.66" cy="578.15" r="3.4" fill="#feb562"/><circle cx="2193.81" cy="580.96" r="3.4" fill="#ffb360"/><circle cx="2196.64" cy="584.05" r="3.4" fill="#ffb05f"/><circle cx="2199.02" cy="587.53" r="3.4" fill="#ffae5e"/><circle cx="2208.9" cy="597.1" r="3.4" fill="#ffa558"/><circle cx="2210.58" cy="600.46" r="3.4" fill="#ffa256"/><circle cx="2212.16" cy="603.85" r="3.4" fill="#ffa055"/><circle cx="2213.69" cy="607.28" r="3.4" fill="#ffa055"/><circle cx="2195.73" cy="609.67" r="3.4" fill="#ff9b52"/><circle cx="2197.01" cy="605.53" r="3.4" fill="#ff9850"/><circle cx="2198.33" cy="601.4" r="3.4" fill="#ff9850"/><circle cx="2200" cy="597.39" r="3.4" fill="#ff964f"/><circle cx="2201.98" cy="593.57" r="3.4" fill="#ff934d"/><circle cx="2204.58" cy="590.1" r="3.4" fill="#ff914c"/><circle cx="2208.57" cy="588.48" r="3.4" fill="#ff914c"/><circle cx="2212.55" cy="589.49" r="3.4" fill="#ff8e4a"/><circle cx="2216.4" cy="591.47" r="3.4" fill="#ff8c49"/><circle cx="2219.95" cy="593.9" r="3.4" fill="#ff8947"/><circle cx="2222.47" cy="597.43" r="3.4" fill="#ff8646"/><circle cx="2223.93" cy="601.5" r="3.4" fill="#ff8646"/><circle cx="2225.37" cy="605.59" r="3.4" fill="#ff8444"/><circle cx="2226.85" cy="609.67" r="3.4" fill="#ff8143"/><circle cx="2196.93" cy="612.66" r="3.4" fill="#ff592d"/><circle cx="2193.66" cy="615.93" r="3.4" fill="#ff562c"/><circle cx="2190.08" cy="618.85" r="3.4" fill="#ff562c"/><circle cx="2187.19" cy="622.26" r="3.4" fill="#ff532a"/><circle cx="2185.42" cy="626.53" r="3.4" fill="#ff532a"/><circle cx="2184.39" cy="631.02" r="3.4" fill="#ff5029"/><circle cx="2183.68" cy="635.59" r="3.4" fill="#ff5029"/><circle cx="2183.17" cy="640.19" r="3.4" fill="#ff4d27"/><circle cx="2196.93" cy="613.86" r="3.4" fill="#ff4724"/><circle cx="2196.42" cy="617.7" r="3.4" fill="#ff4422"/><circle cx="2195.9" cy="621.55" r="3.4" fill="#ff4121"/><circle cx="2195.23" cy="625.37" r="3.4" fill="#ff4121"/><circle cx="2194.47" cy="629.17" r="3.4" fill="#ff3e1f"/><circle cx="2193.74" cy="632.98" r="3.4" fill="#ff3b1e"/><circle cx="2193.11" cy="636.81" r="3.4" fill="#ff3b1e"/><circle cx="2192.47" cy="640.63" r="3.4" fill="#ff381c"/><circle cx="2191.83" cy="644.46" r="3.4" fill="#ff351b"/><circle cx="2191.19" cy="648.29" r="3.4" fill="#ff351b"/><circle cx="2192.89" cy="648.4" r="3.4" fill="#ff3219"/><circle cx="2196.07" cy="646.18" r="3.4" fill="#ff2f18"/><circle cx="2199.12" cy="643.78" r="3.4" fill="#ff2f18"/><circle cx="2202.12" cy="641.33" r="3.4" fill="#ff2c16"/><circle cx="2204.33" cy="638.28" r="3.4" fill="#ff2914"/><circle cx="2205.86" cy="634.71" r="3.4" fill="#ff2914"/><circle cx="2207.33" cy="631.12" r="3.4" fill="#ff2613"/><circle cx="2208.56" cy="627.44" r="3.4" fill="#ff2211"/><circle cx="2209.91" cy="623.81" r="3.4" fill="#ff2211"/><circle cx="2211.64" cy="620.34" r="3.4" fill="#ff1f10"/><circle cx="2213.66" cy="617.16" r="3.4" fill="#ff1c0e"/><circle cx="2217.13" cy="615.43" r="3.4" fill="#ff1c0e"/><circle cx="2220.89" cy="614.6" r="3.4" fill="#ff190d"/><circle cx="2224.71" cy="613.95" r="3.4" fill="#ff160b"/><circle cx="2228.47" cy="613.01" r="3.4" fill="#ff160b"/><circle cx="2232.24" cy="612.06" r="3.4" fill="#ff1309"/><circle cx="2237.92" cy="609.37" r="3.4" fill="#ff1008"/><circle cx="2243.56" cy="602.2" r="3.4" fill="#ff0905"/><circle cx="2248.31" cy="594.4" r="3.4" fill="#ff0302"/><circle cx="2252.59" cy="586.33" r="3.4" fill="#ff0000"/></g>
<g id="matplotlib.axis_3">
<g id="xtick_8">
<g id="line2d_29">
<path d="M 755.624348 420.165818 
L 755.624348 19.584 
" clip-path="url(#p91a6668fea)" style="fill: none; stroke-dasharray: 0.8,1.32; stroke-dashoffset: 0; stroke: #000000; stroke-width: 0.8"/>
</g>
<g id="line2d_30">
<g>
<use xlink:href="#m1504cfccaf" x="755.624348" y="420.165818" style="stroke: #000000; stroke-width: 0.8"/>
</g>
</g>
</g>
<g id="xtick_9">
<g id="line2d_31">
<path d="M 808.594826 420.165818 
L 808.594826 19.584 
" clip-path="url(#p91a6668fea)" style="fill: none; stroke-dasharray: 0.8,1.32; stroke-dashoffset: 0; stroke: #000000; stroke-width: 0.8"/>
</g>
<g id="line2d_32">
<g>
<use xlink:href="#m1504cfccaf" x="808.594826" y="420.165818" style="stroke: #000000; stroke-width: 0.8"/>
</g>
</g>
</g>
<g id="xtick_10">
<g id="line2d_33">
<path d="M 861.565304 420.165818 
L 861.565304 19.584 
" clip-path="url(#p91a6668fea)" style="fill: none; stroke-dasharray: 0.8,1.32; stroke-dashoffset: 0; stroke: #000000; stroke-width: 0.8"/>
</g>
<g id="line2d_34">
<g>
<use xlink:href="#m1504cfccaf" x="861.565304" y="420.165818" style="stroke: #000000; stroke-width: 0.8"/>
</g>
</g>
</g>
<g id="xtick_11">
<g id="line2d_35">
<path d="M 914.535783 420.165818 
L 914.535783 19.584 
" clip-path="url(#p91a6668fea)" style="fill: none; stroke-dasharray: 0.8,1.32; stroke-dashoffset: 0; stroke: #000000; stroke-width: 0.8"/>
</g>
<g id="line2d_36">
<g>
<use xlink:href="#m1504cfccaf" x="914.535783" y="420.165818" style="stroke: #000000; stroke-width: 0.8"/>
</g>
</g>
</g>
<g id="xtick_12">
<g id="line2d_37">
<path d="M 967.506261 420.165818 
L 967.506261 19.584 
" clip-path="url(#p91a6668fea)" style="fill: none; stroke-dasharray: 0.8,1.32; stroke-dashoffset: 0; stroke: #000000; stroke-width: 0.8"/>
</g>
<g id="line2d_38">
<g>
<use xlink:href="#m1504cfccaf" x="967.506261" y="420.165818" style="stroke: #000000; stroke-width: 0.8"/>
</g>
</g>
</g>
<g id="xtick_13">
<g id="line2d_39">
<path d="M 1020.476739 420.165818 
L 1020.476739 19.584 
" clip-path="url(#p91a6668fea)" style="fill: none; stroke-dasharray: 0.8,1.32; stroke-dashoffset: 0; stroke: #000000; stroke-width: 0.8"/>
</g>
<g id="line2d_40">
<g>
<use xlink:href="#m1504cfccaf" x="1020.476739" y="420.165818" style="stroke: #000000; stroke-width: 0.8"/>
</g>
</g>
</g>
<g id="xtick_14">
<g id="line2d_41">
<path d="M 1073.447217 420.165818 
L 1073.447217 19.584 
" clip-path="url(#p91a6668fea)" style="fill: none; stroke-dasharray: 0.8,1.32; stroke-dashoffset: 0; stroke: #000000; stroke-width: 0.8"/>
</g>
<g id="line2d_42">
<g>
<use xlink:href="#m1504cfccaf" x="1073.447217" y="420.165818" style="stroke: #000000; stroke-width: 0.8"/>
</g>
</g>
</g>
<g id="xtick_15">
<g id="line2d_43">
<path d="M 1126.417696 420.165818 
L 1126.417696 19.584 
" clip-path="url(#p91a6668fea)" style="fill: none; stroke-dasharray: 0.8,1.32; stroke-dashoffset: 0; stroke: #000000; stroke-width: 0.8"/>
</g>
<g id="line2d_44">
<g>
<use xlink:href="#m1504cfccaf" x="1126.417696" y="420.165818" style="stroke: #000000; stroke-width: 0.8"/>
</g>
</g>
</g>
<g id="xtick_16">
<g id="line2d_45">
<path d="M 1179.388174 420.165818 
L 1179.388174 19.584 
" clip-path="url(#p91a6668fea)" style="fill: none; stroke-dasharray: 0.8,1.32; stroke-dashoffset: 0; stroke: #000000; stroke-width: 0.8"/>
</g>
<g id="line2d_46">
<g>
<use xlink:href="#m1504cfccaf" x="1179.388174" y="420.165818" style="stroke: #000000; stroke-width: 0.8"/>
</g>
</g>
</g>
</g>
<g id="matplotlib.axis_4">
<g id="ytick_8">
<g id="line2d_47">
<path d="M 755.624348 420.165818 
L 1179.388174 420.165818 
" clip-path="url(#p91a6668fea)" style="fill: none; stroke-dasharray: 0.8,1.32; stroke-dashoffset: 0; stroke: #000000; stroke-width: 0.8"/>
</g>
<g id="line2d_48">
<g>
<use xlink:href="#m5d545ce8f8" x="755.624348" y="420.165818" style="stroke: #000000; stroke-width: 0.8"/>
</g>
</g>
</g>
<g id="ytick_9">
<g id="line2d_49">
<path d="M 755.624348 370.093091 
L 1179.388174 370.093091 
" clip-path="url(#p91a6668fea)" style="fill: none; stroke-dasharray: 0.8,1.32; stroke-dashoffset: 0; stroke: #000000; stroke-width: 0.8"/>
</g>
<g id="line2d_50">
<g>
<use xlink:href="#m5d545ce8f8" x="755.624348" y="370.093091" style="stroke: #000000; stroke-width: 0.8"/>
</g>
</g>
</g>
<g id="ytick_10">
<g id="line2d_51">
<path d="M 755.624348 320.020364 
L 1179.388174 320.020364 
" clip-path="url(#p91a6668fea)" style="fill: none; stroke-dasharray: 0.8,1.32; stroke-dashoffset: 0; stroke: #000000; stroke-width: 0.8"/>
</g>
<g id="line2d_52">
<g>
<use xlink:href="#m5d545ce8f8" x="755.624348" y="320.020364" style="stroke: #000000; stroke-width: 0.8"/>
</g>
</g>
</g>
<g id="ytick_11">
<g id="line2d_53">
<path d="M 755.624348 269.947636 
L 1179.388174 269.947636 
" clip-path="url(#p91a6668fea)" style="fill: none; stroke-dasharray: 0.8,1.32; stroke-dashoffset: 0; stroke: #000000; stroke-width: 0.8"/>
</g>
<g id="line2d_54">
<g>
<use xlink:href="#m5d545ce8f8" x="755.624348" y="269.947636" style="stroke: #000000; stroke-width: 0.8"/>
</g>
</g>
</g>
<g id="ytick_12">
<g id="line2d_55">
<path d="M 755.624348 219.874909 
L 1179.388174 219.874909 
" clip-path="url(#p91a6668fea)" style="fill: none; stroke-dasharray: 0.8,1.32; stroke-dashoffset: 0; stroke: #000000; stroke-width: 0.8"/>
</g>
<g id="line2d_56">
<g>
<use xlink:href="#m5d545ce8f8" x="755.624348" y="219.874909" style="stroke: #000000; stroke-width: 0.8"/>
</g>
</g>
</g>
<g id="ytick_13">
<g id="line2d_57">
<path d="M 755.624348 169.802182 
L 1179.388174 169.802182 
" clip-path="url(#p91a6668fea)" style="fill: none; stroke-dasharray: 0.8,1.32; stroke-dashoffset: 0; stroke: #000000; stroke-width: 0.8"/>
</g>
<g id="line2d_58">
<g>
<use xlink:href="#m5d545ce8f8" x="755.624348" y="169.802182" style="stroke: #000000; stroke-width: 0.8"/>
</g>
</g>
</g>
<g id="ytick_14">
<g id="line2d_59">
<path d="M 755.624348 119.729455 
L 1179.388174 119.729455 
" clip-path="url(#p91a6668fea)" style="fill: none; stroke-dasharray: 0.8,1.32; stroke-dashoffset: 0; stroke: #000000; stroke-width: 0.8"/>
</g>
<g id="line2d_60">
<g>
<use xlink:href="#m5d545ce8f8" x="755.624348" y="119.729455" style="stroke: #000000; stroke-width: 0.8"/>
</g>
</g>
</g>
<g id="ytick_15">
<g id="line2d_61">
<path d="M 755.624348 69.656727 
L 1179.388174 69.656727 
" clip-path="url(#p91a6668fea)" style="fill: none; stroke-dasharray: 0.8,1.32; stroke-dashoffset: 0; stroke: #000000; stroke-width: 0.8"/>
</g>
<g id="line2d_62">
<g>
<use xlink:href="#m5d545ce8f8" x="755.624348" y="69.656727" style="stroke: #000000; stroke-width: 0.8"/>
</g>
</g>
</g>
<g id="ytick_16">
<g id="line2d_63">
<path d="M 755.624348 19.584 
L 1179.388174 19.584 
" clip-path="url(#p91a6668fea)" style="fill: none; stroke-dasharray: 0.8,1.32; stroke-dashoffset: 0; stroke: #000000; stroke-width: 0.8"/>
</g>
<g id="line2d_64">
<g>
<use xlink:href="#m5d545ce8f8" x="755.624348" y="19.584" style="stroke: #000000; stroke-width: 0.8"/>
</g>
</g>
</g>
</g>
<g id="patch_8">
<path d="M 755.624348 420.165818 
L 755.624348 19.584 
" style="fill: none; stroke: #000000; stroke-width: 0.8; stroke-linejoin: miter; stroke-linecap: square"/>
</g>
<g id="patch_9">
<path d="M 1179.388174 420.165818 
L 1179.388174 19.584 
" style="fill: none; stroke: #000000; stroke-width: 0.8; stroke-linejoin: miter; stroke-linecap: square"/>
</g>
<g id="patch_10">
<path d="M 755.624348 420.165818 
L 1179.388174 420.165818 
" style="fill: none; stroke: #000000; stroke-width: 0.8; stroke-linejoin: miter; stroke-linecap: square"/>
</g>
<g id="patch_11">
<path d="M 755.624348 19.584 
L 1179.388174 19.584 
" style="fill: none; stroke: #000000; stroke-width: 0.8; stroke-linejoin: miter; stroke-linecap: square"/>
</g>
</g>
<g id="axes_3">
<g id="patch_12">
<path d="M 103.68 900.864 
L 527.443826 900.864 
L 527.443826 500.282182 
L 103.68 500.282182 
z
" style="fill: #ffffff"/>
</g><g transform="scale(0.45)"><circle cx="543.69" cy="1623.33" r="3.4" fill="#8000ff"/><circle cx="542.43" cy="1666.05" r="3.4" fill="#8000ff"/><circle cx="540.42" cy="1706.27" r="3.4" fill="#7e03ff"/><circle cx="538.41" cy="1737.68" r="3.4" fill="#7c06ff"/><circle cx="535.4" cy="1756.53" r="3.4" fill="#7a09ff"/><circle cx="532.88" cy="1767.08" r="3.4" fill="#780dff"/><circle cx="529.87" cy="1769.1" r="3.4" fill="#7610ff"/><circle cx="527.35" cy="1767.08" r="3.4" fill="#7413ff"/><circle cx="523.84" cy="1758.29" r="3.4" fill="#7216ff"/><circle cx="520.82" cy="1744.47" r="3.4" fill="#7019ff"/><circle cx="518.31" cy="1726.37" r="3.4" fill="#6e1cff"/><circle cx="516.04" cy="1699.98" r="3.4" fill="#6c1fff"/><circle cx="514.03" cy="1668.57" r="3.4" fill="#6a22fe"/><circle cx="506.49" cy="1662.28" r="3.4" fill="#6826fe"/><circle cx="504.73" cy="1656" r="3.4" fill="#642cfe"/><circle cx="508.5" cy="1656.5" r="3.4" fill="#622ffe"/><circle cx="509.51" cy="1641.42" r="3.4" fill="#6032fe"/><circle cx="503.98" cy="1638.41" r="3.4" fill="#5e35fe"/><circle cx="505.55" cy="1495.55" r="3.4" fill="#5e35fe"/><circle cx="507.16" cy="1503.09" r="3.4" fill="#5e35fe"/><circle cx="510.94" cy="1618.35" r="3.4" fill="#5e35fe"/><circle cx="513.09" cy="1601.12" r="3.4" fill="#5e35fe"/><circle cx="512.01" cy="1593.58" r="3.4" fill="#5e35fe"/><circle cx="513.09" cy="1634.51" r="3.4" fill="#5e35fe"/><circle cx="503.93" cy="1637.74" r="3.4" fill="#5e35fe"/><circle cx="512.78" cy="1635.14" r="3.4" fill="#5a3bfd"/><circle cx="510.26" cy="1618.3" r="3.4" fill="#583efd"/><circle cx="512.78" cy="1600.71" r="3.4" fill="#5641fd"/><circle cx="511.52" cy="1593.67" r="3.4" fill="#5247fc"/><circle cx="503.39" cy="1513.86" r="3.4" fill="#3473f8"/><circle cx="504.47" cy="1520.33" r="3.4" fill="#3176f8"/><circle cx="504.47" cy="1527.87" r="3.4" fill="#3079f7"/><circle cx="505.55" cy="1539.72" r="3.4" fill="#2e7bf7"/><circle cx="504.47" cy="1546.18" r="3.4" fill="#2c7ef7"/><circle cx="505.01" cy="1556.95" r="3.4" fill="#2981f6"/><circle cx="504.47" cy="1567.72" r="3.4" fill="#2884f6"/><circle cx="505.55" cy="1578.5" r="3.4" fill="#2686f5"/><circle cx="505.01" cy="1589.27" r="3.4" fill="#2489f5"/><circle cx="502.32" cy="1592.5" r="3.4" fill="#218cf4"/><circle cx="503.93" cy="1551.57" r="3.4" fill="#208ef4"/><circle cx="505.01" cy="1562.34" r="3.4" fill="#1e91f3"/><circle cx="504.47" cy="1573.11" r="3.4" fill="#1c93f3"/><circle cx="505.55" cy="1583.88" r="3.4" fill="#1996f3"/><circle cx="491.01" cy="1476.16" r="3.4" fill="#1fd3e1"/><circle cx="489.39" cy="1480.47" r="3.4" fill="#1fd3e1"/><circle cx="488.85" cy="1490.16" r="3.4" fill="#20d5e1"/><circle cx="492.62" cy="1492.32" r="3.4" fill="#22d6e0"/><circle cx="487.77" cy="1503.09" r="3.4" fill="#22d6e0"/><circle cx="494.78" cy="1505.24" r="3.4" fill="#24d8df"/><circle cx="496.93" cy="1512.78" r="3.4" fill="#27dade"/><circle cx="487.24" cy="1519.79" r="3.4" fill="#27dade"/><circle cx="487.24" cy="1538.64" r="3.4" fill="#28dbde"/><circle cx="486.7" cy="1552.1" r="3.4" fill="#28dbde"/><circle cx="486.16" cy="1562.88" r="3.4" fill="#2adddd"/><circle cx="486.7" cy="1569.88" r="3.4" fill="#2ddedc"/><circle cx="487.24" cy="1576.88" r="3.4" fill="#2ddedc"/><circle cx="487.77" cy="1583.88" r="3.4" fill="#2fe0db"/><circle cx="488.85" cy="1589.27" r="3.4" fill="#2fe0db"/><circle cx="489.93" cy="1595.73" r="3.4" fill="#30e1da"/><circle cx="490.47" cy="1603.27" r="3.4" fill="#32e3da"/><circle cx="491.01" cy="1610.81" r="3.4" fill="#32e3da"/><circle cx="492.08" cy="1618.35" r="3.4" fill="#34e4d9"/><circle cx="493.7" cy="1624.82" r="3.4" fill="#37e6d8"/><circle cx="495.32" cy="1628.05" r="3.4" fill="#37e6d8"/><circle cx="498.01" cy="1573.11" r="3.4" fill="#38e7d7"/><circle cx="498.55" cy="1578.5" r="3.4" fill="#38e7d7"/><circle cx="500.16" cy="1584.96" r="3.4" fill="#3ae8d6"/><circle cx="502.32" cy="1592.5" r="3.4" fill="#3dead5"/><circle cx="503.39" cy="1603.27" r="3.4" fill="#3dead5"/><circle cx="502.32" cy="1496.63" r="3.4" fill="#4df3ce"/><circle cx="504.17" cy="1499.59" r="3.4" fill="#4ef3cd"/><circle cx="506.02" cy="1502.55" r="3.4" fill="#50f4cc"/><circle cx="507.78" cy="1505.55" r="3.4" fill="#52f5cb"/><circle cx="508.63" cy="1508.93" r="3.4" fill="#52f5cb"/><circle cx="509.47" cy="1512.32" r="3.4" fill="#54f6cb"/><circle cx="510.32" cy="1515.71" r="3.4" fill="#56f7ca"/><circle cx="510.87" cy="1519.15" r="3.4" fill="#58f8c9"/><circle cx="511.38" cy="1522.61" r="3.4" fill="#5af8c8"/><circle cx="511.9" cy="1526.06" r="3.4" fill="#5df9c7"/><circle cx="512.01" cy="1529.54" r="3.4" fill="#5efac6"/><circle cx="512.01" cy="1533.03" r="3.4" fill="#60fac5"/><circle cx="512.01" cy="1536.52" r="3.4" fill="#60fac5"/><circle cx="512.01" cy="1540.02" r="3.4" fill="#62fbc4"/><circle cx="512.03" cy="1543.51" r="3.4" fill="#64fbc3"/><circle cx="512.17" cy="1546.99" r="3.4" fill="#66fcc2"/><circle cx="512.3" cy="1550.48" r="3.4" fill="#68fcc1"/><circle cx="512.44" cy="1553.97" r="3.4" fill="#6afdc0"/><circle cx="512.55" cy="1557.46" r="3.4" fill="#6dfdbf"/><circle cx="512.55" cy="1560.95" r="3.4" fill="#6efebe"/><circle cx="512.55" cy="1564.44" r="3.4" fill="#70febc"/><circle cx="512.53" cy="1567.93" r="3.4" fill="#70febc"/><circle cx="512.18" cy="1571.41" r="3.4" fill="#72febb"/><circle cx="511.84" cy="1574.88" r="3.4" fill="#74feba"/><circle cx="511.49" cy="1578.36" r="3.4" fill="#76ffb9"/><circle cx="511.1" cy="1581.83" r="3.4" fill="#78ffb8"/><circle cx="510.72" cy="1585.3" r="3.4" fill="#7affb7"/><circle cx="510.36" cy="1588.77" r="3.4" fill="#7dffb6"/><circle cx="510.11" cy="1592.25" r="3.4" fill="#7effb5"/><circle cx="509.86" cy="1595.73" r="3.4" fill="#80ffb4"/><circle cx="491.01" cy="1582.81" r="3.4" fill="#94fda8"/><circle cx="496.39" cy="1584.96" r="3.4" fill="#96fca7"/><circle cx="497.47" cy="1591.42" r="3.4" fill="#99fca6"/><circle cx="492.08" cy="1594.65" r="3.4" fill="#9cfba4"/><circle cx="495.85" cy="1598.96" r="3.4" fill="#9efaa2"/><circle cx="492.62" cy="1603.27" r="3.4" fill="#a0faa1"/><circle cx="493.7" cy="1607.58" r="3.4" fill="#a2f9a0"/><circle cx="499.09" cy="1608.66" r="3.4" fill="#a6f89d"/><circle cx="501.24" cy="1611.89" r="3.4" fill="#a8f79c"/><circle cx="502.32" cy="1607.58" r="3.4" fill="#abf69b"/><circle cx="506.63" cy="1607.58" r="3.4" fill="#aef498"/><circle cx="509.32" cy="1605.43" r="3.4" fill="#b0f397"/><circle cx="505.55" cy="1611.89" r="3.4" fill="#b2f396"/><circle cx="495.32" cy="1482.08" r="3.4" fill="#bced8f"/><circle cx="496.39" cy="1487.47" r="3.4" fill="#beec8e"/><circle cx="492.62" cy="1498.24" r="3.4" fill="#c0eb8d"/><circle cx="492.08" cy="1512.78" r="3.4" fill="#c2ea8c"/><circle cx="491.54" cy="1528.4" r="3.4" fill="#c4e88a"/><circle cx="491.54" cy="1542.95" r="3.4" fill="#c6e789"/><circle cx="491.54" cy="1553.72" r="3.4" fill="#c8e688"/><circle cx="491.54" cy="1562.34" r="3.4" fill="#cbe486"/><circle cx="491.54" cy="1567.72" r="3.4" fill="#cce385"/><circle cx="491.54" cy="1535.41" r="3.4" fill="#cee184"/><circle cx="491.54" cy="1548.33" r="3.4" fill="#d0e082"/><circle cx="491.54" cy="1558.03" r="3.4" fill="#d0e082"/><circle cx="503.93" cy="1464.85" r="3.4" fill="#d6db7e"/><circle cx="502.86" cy="1479.93" r="3.4" fill="#dbd87b"/><circle cx="501.24" cy="1496.63" r="3.4" fill="#dcd67a"/><circle cx="493.16" cy="1497.7" r="3.4" fill="#e0d377"/><circle cx="500.16" cy="1510.09" r="3.4" fill="#e4cf74"/><circle cx="502.72" cy="1480.08" r="3.4" fill="#e6cd73"/><circle cx="499.62" cy="1521.4" r="3.4" fill="#e8cb72"/><circle cx="503.98" cy="1465" r="3.4" fill="#e8cb72"/><circle cx="500.16" cy="1526.79" r="3.4" fill="#ebca70"/><circle cx="505.24" cy="1452.43" r="3.4" fill="#ebca70"/><circle cx="509.01" cy="1442.88" r="3.4" fill="#eec66d"/><circle cx="511.52" cy="1439.11" r="3.4" fill="#f0c46c"/><circle cx="514.03" cy="1446.65" r="3.4" fill="#f2c26b"/><circle cx="515.79" cy="1454.19" r="3.4" fill="#f4c069"/><circle cx="517.8" cy="1462.99" r="3.4" fill="#f9bb66"/><circle cx="520.32" cy="1468.01" r="3.4" fill="#fbb965"/><circle cx="519.06" cy="1471.78" r="3.4" fill="#fcb763"/><circle cx="522.83" cy="1456.71" r="3.4" fill="#ffb360"/><circle cx="524.09" cy="1447.91" r="3.4" fill="#ffb05f"/><circle cx="525.85" cy="1439.11" r="3.4" fill="#ffae5e"/><circle cx="527.86" cy="1431.57" r="3.4" fill="#ffac5c"/><circle cx="531.12" cy="1424.03" r="3.4" fill="#ffa759"/><circle cx="532.88" cy="1422.78" r="3.4" fill="#ffa558"/><circle cx="534.86" cy="1425.74" r="3.4" fill="#ffa256"/><circle cx="536.36" cy="1428.95" r="3.4" fill="#ffa055"/><circle cx="537.68" cy="1432.25" r="3.4" fill="#ffa055"/><circle cx="538.84" cy="1435.62" r="3.4" fill="#ff9d53"/><circle cx="539.96" cy="1438.99" r="3.4" fill="#ff9b52"/><circle cx="541.91" cy="1441.86" r="3.4" fill="#ff9850"/><circle cx="543.88" cy="1441" r="3.4" fill="#ff964f"/><circle cx="545.47" cy="1437.81" r="3.4" fill="#ff934d"/><circle cx="547.06" cy="1434.63" r="3.4" fill="#ff934d"/><circle cx="548.54" cy="1431.39" r="3.4" fill="#ff914c"/><circle cx="549.86" cy="1428.09" r="3.4" fill="#ff8e4a"/><circle cx="551.18" cy="1424.79" r="3.4" fill="#ff8c49"/><circle cx="552.5" cy="1421.48" r="3.4" fill="#ff8947"/><circle cx="554.39" cy="1418.51" r="3.4" fill="#ff8646"/><circle cx="556.61" cy="1415.73" r="3.4" fill="#ff8646"/><circle cx="559.11" cy="1414.71" r="3.4" fill="#ff8444"/><circle cx="561.94" cy="1416.8" r="3.4" fill="#ff8143"/><circle cx="563.53" cy="1419.98" r="3.4" fill="#ff7e41"/><circle cx="565.12" cy="1423.17" r="3.4" fill="#ff7b40"/><circle cx="566.61" cy="1426.4" r="3.4" fill="#ff793e"/><circle cx="568.05" cy="1429.65" r="3.4" fill="#ff793e"/><circle cx="569.5" cy="1432.9" r="3.4" fill="#ff763d"/><circle cx="570.86" cy="1436.19" r="3.4" fill="#ff733b"/><circle cx="571.99" cy="1439.56" r="3.4" fill="#ff703a"/><circle cx="573.14" cy="1442.84" r="3.4" fill="#ff6d38"/><circle cx="575.65" cy="1440.32" r="3.4" fill="#ff6b37"/><circle cx="578.15" cy="1437.8" r="3.4" fill="#ff6b37"/><circle cx="579.74" cy="1434.61" r="3.4" fill="#ff6835"/><circle cx="581.33" cy="1431.43" r="3.4" fill="#ff6533"/><circle cx="582.92" cy="1428.25" r="3.4" fill="#ff6232"/><circle cx="584.52" cy="1425.06" r="3.4" fill="#ff5f30"/><circle cx="586.14" cy="1421.9" r="3.4" fill="#ff5c2f"/><circle cx="587.84" cy="1418.77" r="3.4" fill="#ff5c2f"/><circle cx="589.55" cy="1415.65" r="3.4" fill="#ff592d"/><circle cx="591.25" cy="1412.53" r="3.4" fill="#ff562c"/><circle cx="592.95" cy="1409.4" r="3.4" fill="#ff532a"/><circle cx="595.74" cy="1410.65" r="3.4" fill="#ff5029"/><circle cx="597.7" cy="1413.41" r="3.4" fill="#ff4d27"/><circle cx="598.95" cy="1416.74" r="3.4" fill="#ff4d27"/><circle cx="600.2" cy="1420.07" r="3.4" fill="#ff4a26"/><circle cx="602" cy="1423.09" r="3.4" fill="#ff4724"/><circle cx="604.22" cy="1425.87" r="3.4" fill="#ff4422"/><circle cx="606.37" cy="1426.9" r="3.4" fill="#ff4121"/><circle cx="608.34" cy="1423.94" r="3.4" fill="#ff3e1f"/><circle cx="610.32" cy="1420.98" r="3.4" fill="#ff3e1f"/><circle cx="612" cy="1417.85" r="3.4" fill="#ff3b1e"/><circle cx="613.59" cy="1414.67" r="3.4" fill="#ff381c"/><circle cx="615.18" cy="1411.48" r="3.4" fill="#ff351b"/><circle cx="616.77" cy="1408.3" r="3.4" fill="#ff3219"/><circle cx="618.38" cy="1405.13" r="3.4" fill="#ff2f18"/><circle cx="620.7" cy="1402.43" r="3.4" fill="#ff2f18"/><circle cx="623.01" cy="1399.72" r="3.4" fill="#ff2c16"/><circle cx="625.33" cy="1397.02" r="3.4" fill="#ff2914"/><circle cx="628.45" cy="1397.25" r="3.4" fill="#ff2613"/><circle cx="631.83" cy="1398.37" r="3.4" fill="#ff2211"/><circle cx="634.75" cy="1400.24" r="3.4" fill="#ff1f10"/><circle cx="637.26" cy="1402.76" r="3.4" fill="#ff1f10"/><circle cx="639.78" cy="1405.27" r="3.4" fill="#ff1c0e"/><circle cx="641.9" cy="1408.1" r="3.4" fill="#ff190d"/><circle cx="643.66" cy="1411.18" r="3.4" fill="#ff160b"/><circle cx="645.43" cy="1414.27" r="3.4" fill="#ff1309"/><circle cx="648.17" cy="1414.14" r="3.4" fill="#ff1008"/><circle cx="651.35" cy="1412.55" r="3.4" fill="#ff1008"/><circle cx="654.53" cy="1410.96" r="3.4" fill="#ff0d06"/><circle cx="657.6" cy="1411.26" r="3.4" fill="#ff0905"/><circle cx="660.02" cy="1413.61" r="3.4" fill="#ff0603"/><circle cx="660.88" cy="1417.06" r="3.4" fill="#ff0302"/><circle cx="661.61" cy="1420.54" r="3.4" fill="#ff0000"/><circle cx="662.31" cy="1424.03" r="3.4" fill="#ff0000"/></g>
<g id="matplotlib.axis_5">
<g id="xtick_17">
<g id="line2d_65">
<path d="M 103.68 900.864 
L 103.68 500.282182 
" clip-path="url(#pbb51925d36)" style="fill: none; stroke-dasharray: 0.8,1.32; stroke-dashoffset: 0; stroke: #000000; stroke-width: 0.8"/>
</g>
<g id="line2d_66">
<g>
<use xlink:href="#m1504cfccaf" x="103.68" y="900.864" style="stroke: #000000; stroke-width: 0.8"/>
</g>
</g>
</g>
<g id="xtick_18">
<g id="line2d_67">
<path d="M 160.181843 900.864 
L 160.181843 500.282182 
" clip-path="url(#pbb51925d36)" style="fill: none; stroke-dasharray: 0.8,1.32; stroke-dashoffset: 0; stroke: #000000; stroke-width: 0.8"/>
</g>
<g id="line2d_68">
<g>
<use xlink:href="#m1504cfccaf" x="160.181843" y="900.864" style="stroke: #000000; stroke-width: 0.8"/>
</g>
</g>
</g>
<g id="xtick_19">
<g id="line2d_69">
<path d="M 216.683687 900.864 
L 216.683687 500.282182 
" clip-path="url(#pbb51925d36)" style="fill: none; stroke-dasharray: 0.8,1.32; stroke-dashoffset: 0; stroke: #000000; stroke-width: 0.8"/>
</g>
<g id="line2d_70">
<g>
<use xlink:href="#m1504cfccaf" x="216.683687" y="900.864" style="stroke: #000000; stroke-width: 0.8"/>
</g>
</g>
</g>
<g id="xtick_20">
<g id="line2d_71">
<path d="M 273.18553 900.864 
L 273.18553 500.282182 
" clip-path="url(#pbb51925d36)" style="fill: none; stroke-dasharray: 0.8,1.32; stroke-dashoffset: 0; stroke: #000000; stroke-width: 0.8"/>
</g>
<g id="line2d_72">
<g>
<use xlink:href="#m1504cfccaf" x="273.18553" y="900.864" style="stroke: #000000; stroke-width: 0.8"/>
</g>
</g>
</g>
<g id="xtick_21">
<g id="line2d_73">
<path d="M 329.687374 900.864 
L 329.687374 500.282182 
" clip-path="url(#pbb51925d36)" style="fill: none; stroke-dasharray: 0.8,1.32; stroke-dashoffset: 0; stroke: #000000; stroke-width: 0.8"/>
</g>
<g id="line2d_74">
<g>
<use xlink:href="#m1504cfccaf" x="329.687374" y="900.864" style="stroke: #000000; stroke-width: 0.8"/>
</g>
</g>
</g>
<g id="xtick_22">
<g id="line2d_75">
<path d="M 386.189217 900.864 
L 386.189217 500.282182 
" clip-path="url(#pbb51925d36)" style="fill: none; stroke-dasharray: 0.8,1.32; stroke-dashoffset: 0; stroke: #000000; stroke-width: 0.8"/>
</g>
<g id="line2d_76">
<g>
<use xlink:href="#m1504cfccaf" x="386.189217" y="900.864" style="stroke: #000000; stroke-width: 0.8"/>
</g>
</g>
</g>
<g id="xtick_23">
<g id="line2d_77">
<path d="M 442.691061 900.864 
L 442.691061 500.282182 
" clip-path="url(#pbb51925d36)" style="fill: none; stroke-dasharray: 0.8,1.32; stroke-dashoffset: 0; stroke: #000000; stroke-width: 0.8"/>
</g>
<g id="line2d_78">
<g>
<use xlink:href="#m1504cfccaf" x="442.691061" y="900.864" style="stroke: #000000; stroke-width: 0.8"/>
</g>
</g>
</g>
<g id="xtick_24">
<g id="line2d_79">
<path d="M 499.192904 900.864 
L 499.192904 500.282182 
" clip-path="url(#pbb51925d36)" style="fill: none; stroke-dasharray: 0.8,1.32; stroke-dashoffset: 0; stroke: #000000; stroke-width: 0.8"/>
</g>
<g id="line2d_80">
<g>
<use xlink:href="#m1504cfccaf" x="499.192904" y="900.864" style="stroke: #000000; stroke-width: 0.8"/>
</g>
</g>
</g>
</g>
<g id="matplotlib.axis_6">
<g id="ytick_17">
<g id="line2d_81">
<path d="M 103.68 900.864 
L 527.443826 900.864 
" clip-path="url(#pbb51925d36)" style="fill: none; stroke-dasharray: 0.8,1.32; stroke-dashoffset: 0; stroke: #000000; stroke-width: 0.8"/>
</g>
<g id="line2d_82">
<g>
<use xlink:href="#m5d545ce8f8" x="103.68" y="900.864" style="stroke: #000000; stroke-width: 0.8"/>
</g>
</g>
</g>
<g id="ytick_18">
<g id="line2d_83">
<path d="M 103.68 850.791273 
L 527.443826 850.791273 
" clip-path="url(#pbb51925d36)" style="fill: none; stroke-dasharray: 0.8,1.32; stroke-dashoffset: 0; stroke: #000000; stroke-width: 0.8"/>
</g>
<g id="line2d_84">
<g>
<use xlink:href="#m5d545ce8f8" x="103.68" y="850.791273" style="stroke: #000000; stroke-width: 0.8"/>
</g>
</g>
</g>
<g id="ytick_19">
<g id="line2d_85">
<path d="M 103.68 800.718545 
L 527.443826 800.718545 
" clip-path="url(#pbb51925d36)" style="fill: none; stroke-dasharray: 0.8,1.32; stroke-dashoffset: 0; stroke: #000000; stroke-width: 0.8"/>
</g>
<g id="line2d_86">
<g>
<use xlink:href="#m5d545ce8f8" x="103.68" y="800.718545" style="stroke: #000000; stroke-width: 0.8"/>
</g>
</g>
</g>
<g id="ytick_20">
<g id="line2d_87">
<path d="M 103.68 750.645818 
L 527.443826 750.645818 
" clip-path="url(#pbb51925d36)" style="fill: none; stroke-dasharray: 0.8,1.32; stroke-dashoffset: 0; stroke: #000000; stroke-width: 0.8"/>
</g>
<g id="line2d_88">
<g>
<use xlink:href="#m5d545ce8f8" x="103.68" y="750.645818" style="stroke: #000000; stroke-width: 0.8"/>
</g>
</g>
</g>
<g id="ytick_21">
<g id="line2d_89">
<path d="M 103.68 700.573091 
L 527.443826 700.573091 
" clip-path="url(#pbb51925d36)" style="fill: none; stroke-dasharray: 0.8,1.32; stroke-dashoffset: 0; stroke: #000000; stroke-width: 0.8"/>
</g>
<g id="line2d_90">
<g>
<use xlink:href="#m5d545ce8f8" x="103.68" y="700.573091" style="stroke: #000000; stroke-width: 0.8"/>
</g>
</g>
</g>
<g id="ytick_22">
<g id="line2d_91">
<path d="M 103.68 650.500364 
L 527.443826 650.500364 
" clip-path="url(#pbb51925d36)" style="fill: none; stroke-dasharray: 0.8,1.32; stroke-dashoffset: 0; stroke: #000000; stroke-width: 0.8"/>
</g>
<g id="line2d_92">
<g>
<use xlink:href="#m5d545ce8f8" x="103.68" y="650.500364" style="stroke: #000000; stroke-width: 0.8"/>
</g>
</g>
</g>
<g id="ytick_23">
<g id="line2d_93">
<path d="M 103.68 600.427636 
L 527.443826 600.427636 
" clip-path="url(#pbb51925d36)" style="fill: none; stroke-dasharray: 0.8,1.32; stroke-dashoffset: 0; stroke: #000000; stroke-width: 0.8"/>
</g>
<g id="line2d_94">
<g>
<use xlink:href="#m5d545ce8f8" x="103.68" y="600.427636" style="stroke: #000000; stroke-width: 0.8"/>
</g>
</g>
</g>
<g id="ytick_24">
<g id="line2d_95">
<path d="M 103.68 550.354909 
L 527.443826 550.354909 
" clip-path="url(#pbb51925d36)" style="fill: none; stroke-dasharray: 0.8,1.32; stroke-dashoffset: 0; stroke: #000000; stroke-width: 0.8"/>
</g>
<g id="line2d_96">
<g>
<use xlink:href="#m5d545ce8f8" x="103.68" y="550.354909" style="stroke: #000000; stroke-width: 0.8"/>
</g>
</g>
</g>
<g id="ytick_25">
<g id="line2d_97">
<path d="M 103.68 500.282182 
L 527.443826 500.282182 
" clip-path="url(#pbb51925d36)" style="fill: none; stroke-dasharray: 0.8,1.32; stroke-dashoffset: 0; stroke: #000000; stroke-width: 0.8"/>
</g>
<g id="line2d_98">
<g>
<use xlink:href="#m5d545ce8f8" x="103.68" y="500.282182" style="stroke: #000000; stroke-width: 0.8"/>
</g>
</g>
</g>
</g>
<g id="patch_13">
<path d="M 103.68 900.864 
L 103.68 500.282182 
" style="fill: none; stroke: #000000; stroke-width: 0.8; stroke-linejoin: miter; stroke-linecap: square"/>
</g>
<g id="patch_14">
<path d="M 527.443826 900.864 
L 527.443826 500.282182 
" style="fill: none; stroke: #000000; stroke-width: 0.8; stroke-linejoin: miter; stroke-linecap: square"/>
</g>
<g id="patch_15">
<path d="M 103.68 900.864 
L 527.443826 900.864 
" style="fill: none; stroke: #000000; stroke-width: 0.8; stroke-linejoin: miter; stroke-linecap: square"/>
</g>
<g id="patch_16">
<path d="M 103.68 500.282182 
L 527.443826 500.282182 
" style="fill: none; stroke: #000000; stroke-width: 0.8; stroke-linejoin: miter; stroke-linecap: square"/>
</g>
</g>
<g id="axes_4">
<g id="patch_17">
<path d="M 755.624348 900.864 
L 1179.388174 900.864 
L 1179.388174 500.282182 
L 755.624348 500.282182 
z
" style="fill: #ffffff"/>
</g><g transform="scale(0.45)"><circle cx="1688.58" cy="1550.79" r="3.4" fill="#8000ff"/><circle cx="1691.72" cy="1506.89" r="3.4" fill="#8000ff"/><circle cx="1694.86" cy="1440.71" r="3.4" fill="#7e03ff"/><circle cx="1698" cy="1370.64" r="3.4" fill="#7c06ff"/><circle cx="1701.14" cy="1315.65" r="3.4" fill="#7a09ff"/><circle cx="1704.28" cy="1281.17" r="3.4" fill="#780dff"/><circle cx="1707.42" cy="1266.25" r="3.4" fill="#7610ff"/><circle cx="1710.56" cy="1265.91" r="3.4" fill="#7413ff"/><circle cx="1713.69" cy="1278.88" r="3.4" fill="#7216ff"/><circle cx="1716.83" cy="1308.8" r="3.4" fill="#7216ff"/><circle cx="1719.97" cy="1347.45" r="3.4" fill="#7019ff"/><circle cx="1723.11" cy="1397.31" r="3.4" fill="#6e1cff"/><circle cx="1726.25" cy="1445.09" r="3.4" fill="#6c1fff"/><circle cx="1729.39" cy="1482.28" r="3.4" fill="#6a22fe"/><circle cx="1732.53" cy="1506.18" r="3.4" fill="#6826fe"/><circle cx="1735.67" cy="1516.9" r="3.4" fill="#6629fe"/><circle cx="1738.81" cy="1517.54" r="3.4" fill="#6629fe"/><circle cx="1741.95" cy="1514.49" r="3.4" fill="#642cfe"/><circle cx="1745.08" cy="1508.05" r="3.4" fill="#622ffe"/><circle cx="1748.22" cy="1495.37" r="3.4" fill="#6032fe"/><circle cx="1751.36" cy="1473.14" r="3.4" fill="#5e35fe"/><circle cx="1754.5" cy="1445.72" r="3.4" fill="#5c38fd"/><circle cx="1757.64" cy="1422.45" r="3.4" fill="#5a3bfd"/><circle cx="1760.78" cy="1412.08" r="3.4" fill="#5a3bfd"/><circle cx="1763.92" cy="1419.33" r="3.4" fill="#583efd"/><circle cx="1767.06" cy="1436.4" r="3.4" fill="#5641fd"/><circle cx="1770.2" cy="1461.24" r="3.4" fill="#5444fd"/><circle cx="1773.33" cy="1482.56" r="3.4" fill="#5247fc"/><circle cx="1776.47" cy="1492.72" r="3.4" fill="#504afc"/><circle cx="1779.61" cy="1494.71" r="3.4" fill="#4e4dfc"/><circle cx="1782.75" cy="1496" r="3.4" fill="#4c50fc"/><circle cx="1785.89" cy="1498.28" r="3.4" fill="#4c50fc"/><circle cx="1789.03" cy="1506.18" r="3.4" fill="#4a53fb"/><circle cx="1792.17" cy="1515.12" r="3.4" fill="#4856fb"/><circle cx="1795.31" cy="1520.07" r="3.4" fill="#4659fb"/><circle cx="1798.45" cy="1522.3" r="3.4" fill="#445cfb"/><circle cx="1801.59" cy="1523.27" r="3.4" fill="#425ffa"/><circle cx="1804.72" cy="1525.61" r="3.4" fill="#4062fa"/><circle cx="1807.86" cy="1529.53" r="3.4" fill="#4062fa"/><circle cx="1811" cy="1537.72" r="3.4" fill="#3e65fa"/><circle cx="1814.14" cy="1546.15" r="3.4" fill="#3c68f9"/><circle cx="1817.28" cy="1552.92" r="3.4" fill="#396bf9"/><circle cx="1820.42" cy="1556.3" r="3.4" fill="#386df9"/><circle cx="1823.56" cy="1556.93" r="3.4" fill="#3670f8"/><circle cx="1826.7" cy="1555.62" r="3.4" fill="#3473f8"/><circle cx="1829.84" cy="1551.68" r="3.4" fill="#3473f8"/><circle cx="1832.98" cy="1546.9" r="3.4" fill="#3176f8"/><circle cx="1836.11" cy="1540.25" r="3.4" fill="#3079f7"/><circle cx="1839.25" cy="1534.99" r="3.4" fill="#2e7bf7"/><circle cx="1842.39" cy="1534.54" r="3.4" fill="#2c7ef7"/><circle cx="1845.53" cy="1536.09" r="3.4" fill="#2981f6"/><circle cx="1848.67" cy="1540.87" r="3.4" fill="#2884f6"/><circle cx="1851.81" cy="1549.18" r="3.4" fill="#2686f5"/><circle cx="1854.95" cy="1556.46" r="3.4" fill="#2686f5"/><circle cx="1858.09" cy="1559.57" r="3.4" fill="#2489f5"/><circle cx="1861.23" cy="1560.48" r="3.4" fill="#218cf4"/><circle cx="1864.37" cy="1561.37" r="3.4" fill="#208ef4"/><circle cx="1867.5" cy="1563.74" r="3.4" fill="#1e91f3"/><circle cx="1870.64" cy="1566.21" r="3.4" fill="#1c93f3"/><circle cx="1873.78" cy="1567.65" r="3.4" fill="#1996f3"/><circle cx="1876.92" cy="1565.48" r="3.4" fill="#1996f3"/><circle cx="1880.06" cy="1562.94" r="3.4" fill="#1898f2"/><circle cx="1883.2" cy="1561.44" r="3.4" fill="#169bf2"/><circle cx="1886.34" cy="1562" r="3.4" fill="#149df1"/><circle cx="1889.48" cy="1564.59" r="3.4" fill="#11a0f1"/><circle cx="1892.62" cy="1567.39" r="3.4" fill="#10a2f0"/><circle cx="1895.76" cy="1569.71" r="3.4" fill="#0ea5ef"/><circle cx="1898.89" cy="1571.08" r="3.4" fill="#0ca7ef"/><circle cx="1902.03" cy="1572.14" r="3.4" fill="#0ca7ef"/><circle cx="1905.17" cy="1573.14" r="3.4" fill="#09a9ee"/><circle cx="1908.31" cy="1572.67" r="3.4" fill="#08acee"/><circle cx="1911.45" cy="1570.22" r="3.4" fill="#06aeed"/><circle cx="1914.59" cy="1565.72" r="3.4" fill="#04b0ed"/><circle cx="1917.73" cy="1557.7" r="3.4" fill="#01b3ec"/><circle cx="1920.87" cy="1545.24" r="3.4" fill="#00b5eb"/><circle cx="1924.01" cy="1534.28" r="3.4" fill="#00b5eb"/><circle cx="1927.15" cy="1522.98" r="3.4" fill="#02b7eb"/><circle cx="1930.28" cy="1515.86" r="3.4" fill="#04b9ea"/><circle cx="1933.42" cy="1515.13" r="3.4" fill="#07bbea"/><circle cx="1936.56" cy="1523.8" r="3.4" fill="#08bee9"/><circle cx="1939.7" cy="1541.84" r="3.4" fill="#0ac0e8"/><circle cx="1942.84" cy="1560.56" r="3.4" fill="#0dc2e8"/><circle cx="1945.98" cy="1573.35" r="3.4" fill="#0dc2e8"/><circle cx="1949.12" cy="1576.85" r="3.4" fill="#0fc4e7"/><circle cx="1952.26" cy="1576.56" r="3.4" fill="#10c6e6"/><circle cx="1955.4" cy="1573.95" r="3.4" fill="#12c8e6"/><circle cx="1958.54" cy="1571.21" r="3.4" fill="#14cae5"/><circle cx="1961.67" cy="1562.41" r="3.4" fill="#17cbe4"/><circle cx="1964.81" cy="1547.61" r="3.4" fill="#18cde4"/><circle cx="1967.95" cy="1528.67" r="3.4" fill="#1acfe3"/><circle cx="1971.09" cy="1514.35" r="3.4" fill="#1acfe3"/><circle cx="1974.23" cy="1506.99" r="3.4" fill="#1dd1e2"/><circle cx="1977.37" cy="1503.69" r="3.4" fill="#1fd3e1"/><circle cx="1980.51" cy="1502.23" r="3.4" fill="#20d5e1"/><circle cx="1983.65" cy="1506.06" r="3.4" fill="#22d6e0"/><circle cx="1986.79" cy="1513.56" r="3.4" fill="#24d8df"/><circle cx="1989.93" cy="1520.67" r="3.4" fill="#27dade"/><circle cx="1993.06" cy="1522.96" r="3.4" fill="#27dade"/><circle cx="1996.2" cy="1522.34" r="3.4" fill="#28dbde"/><circle cx="1999.34" cy="1516.86" r="3.4" fill="#2adddd"/><circle cx="2002.48" cy="1502.85" r="3.4" fill="#2ddedc"/><circle cx="2005.62" cy="1490.46" r="3.4" fill="#2fe0db"/><circle cx="2008.76" cy="1485.67" r="3.4" fill="#30e1da"/><circle cx="2011.9" cy="1489.49" r="3.4" fill="#32e3da"/><circle cx="2015.04" cy="1502.85" r="3.4" fill="#34e4d9"/><circle cx="2018.18" cy="1517.86" r="3.4" fill="#34e4d9"/><circle cx="2021.32" cy="1528.48" r="3.4" fill="#37e6d8"/><circle cx="2024.45" cy="1531.62" r="3.4" fill="#38e7d7"/><circle cx="2027.59" cy="1523.21" r="3.4" fill="#3ae8d6"/><circle cx="2030.73" cy="1511.44" r="3.4" fill="#3dead5"/><circle cx="2033.87" cy="1496.07" r="3.4" fill="#3febd5"/><circle cx="2037.01" cy="1487.26" r="3.4" fill="#40ecd4"/><circle cx="2040.15" cy="1487.98" r="3.4" fill="#40ecd4"/><circle cx="2043.29" cy="1495.18" r="3.4" fill="#42edd3"/><circle cx="2046.43" cy="1506.95" r="3.4" fill="#44eed2"/><circle cx="2049.57" cy="1520.93" r="3.4" fill="#46efd1"/><circle cx="2052.71" cy="1537.13" r="3.4" fill="#48f1d0"/><circle cx="2055.84" cy="1552.68" r="3.4" fill="#4af2cf"/><circle cx="2058.98" cy="1559.99" r="3.4" fill="#4df3ce"/><circle cx="2062.12" cy="1563.37" r="3.4" fill="#4df3ce"/><circle cx="2065.26" cy="1563.78" r="3.4" fill="#4ef3cd"/><circle cx="2068.4" cy="1560.95" r="3.4" fill="#50f4cc"/><circle cx="2071.54" cy="1557.68" r="3.4" fill="#52f5cb"/><circle cx="2074.68" cy="1554.59" r="3.4" fill="#54f6cb"/><circle cx="2077.82" cy="1553.34" r="3.4" fill="#56f7ca"/><circle cx="2080.96" cy="1552.42" r="3.4" fill="#58f8c9"/><circle cx="2084.1" cy="1551.22" r="3.4" fill="#5af8c8"/><circle cx="2087.23" cy="1549.88" r="3.4" fill="#5af8c8"/><circle cx="2090.37" cy="1548.1" r="3.4" fill="#5df9c7"/><circle cx="2093.51" cy="1547.58" r="3.4" fill="#5efac6"/><circle cx="2096.65" cy="1550.91" r="3.4" fill="#60fac5"/><circle cx="2099.79" cy="1555.41" r="3.4" fill="#62fbc4"/><circle cx="2102.93" cy="1560.78" r="3.4" fill="#64fbc3"/><circle cx="2106.07" cy="1564.96" r="3.4" fill="#66fcc2"/><circle cx="2109.21" cy="1568.28" r="3.4" fill="#66fcc2"/><circle cx="2112.35" cy="1569.44" r="3.4" fill="#68fcc1"/><circle cx="2115.49" cy="1570.03" r="3.4" fill="#6afdc0"/><circle cx="2118.62" cy="1570.1" r="3.4" fill="#6dfdbf"/><circle cx="2121.76" cy="1569.09" r="3.4" fill="#6efebe"/><circle cx="2124.9" cy="1567.52" r="3.4" fill="#70febc"/><circle cx="2128.04" cy="1566.2" r="3.4" fill="#72febb"/><circle cx="2131.18" cy="1564.96" r="3.4" fill="#72febb"/><circle cx="2134.32" cy="1564.81" r="3.4" fill="#74feba"/><circle cx="2137.46" cy="1568" r="3.4" fill="#76ffb9"/><circle cx="2140.6" cy="1571.48" r="3.4" fill="#78ffb8"/><circle cx="2143.74" cy="1574.88" r="3.4" fill="#7affb7"/><circle cx="2146.87" cy="1576.71" r="3.4" fill="#7dffb6"/><circle cx="2150.01" cy="1577.74" r="3.4" fill="#7effb5"/><circle cx="2153.15" cy="1577.8" r="3.4" fill="#80ffb4"/><circle cx="2156.29" cy="1577.52" r="3.4" fill="#80ffb4"/><circle cx="2159.43" cy="1577.07" r="3.4" fill="#82ffb3"/><circle cx="2162.57" cy="1576.18" r="3.4" fill="#84ffb2"/><circle cx="2165.71" cy="1574.78" r="3.4" fill="#86ffb0"/><circle cx="2168.85" cy="1571.87" r="3.4" fill="#88ffaf"/><circle cx="2171.99" cy="1568.28" r="3.4" fill="#8bfeae"/><circle cx="2175.13" cy="1565.34" r="3.4" fill="#8cfead"/><circle cx="2178.26" cy="1562.68" r="3.4" fill="#8cfead"/><circle cx="2181.4" cy="1560.82" r="3.4" fill="#8efeac"/><circle cx="2184.54" cy="1559.47" r="3.4" fill="#90feab"/><circle cx="2187.68" cy="1558.29" r="3.4" fill="#92fda9"/><circle cx="2190.82" cy="1557" r="3.4" fill="#94fda8"/><circle cx="2193.96" cy="1556.26" r="3.4" fill="#96fca7"/><circle cx="2197.1" cy="1557.5" r="3.4" fill="#99fca6"/><circle cx="2200.24" cy="1559.36" r="3.4" fill="#9bfba5"/><circle cx="2203.38" cy="1560.11" r="3.4" fill="#9bfba5"/><circle cx="2206.52" cy="1560.39" r="3.4" fill="#9cfba4"/><circle cx="2209.65" cy="1559.18" r="3.4" fill="#9efaa2"/><circle cx="2212.79" cy="1556.92" r="3.4" fill="#a0faa1"/><circle cx="2215.93" cy="1554.5" r="3.4" fill="#a2f9a0"/><circle cx="2219.07" cy="1550.74" r="3.4" fill="#a4f89f"/><circle cx="2222.21" cy="1540.67" r="3.4" fill="#a6f89d"/><circle cx="2225.35" cy="1528.82" r="3.4" fill="#a6f89d"/><circle cx="2228.49" cy="1517.93" r="3.4" fill="#a8f79c"/><circle cx="2231.63" cy="1514.9" r="3.4" fill="#abf69b"/><circle cx="2234.77" cy="1517.07" r="3.4" fill="#acf59a"/><circle cx="2237.91" cy="1520.93" r="3.4" fill="#aef498"/><circle cx="2241.04" cy="1525.82" r="3.4" fill="#b0f397"/><circle cx="2244.18" cy="1530.57" r="3.4" fill="#b2f396"/><circle cx="2247.32" cy="1533.53" r="3.4" fill="#b2f396"/><circle cx="2250.46" cy="1535.26" r="3.4" fill="#b4f295"/><circle cx="2253.6" cy="1535.88" r="3.4" fill="#b6f193"/><circle cx="2256.74" cy="1536.07" r="3.4" fill="#b9ef92"/><circle cx="2259.88" cy="1533.72" r="3.4" fill="#bbee91"/><circle cx="2263.02" cy="1529.53" r="3.4" fill="#bced8f"/><circle cx="2266.16" cy="1523.21" r="3.4" fill="#beec8e"/><circle cx="2269.3" cy="1517.56" r="3.4" fill="#c0eb8d"/><circle cx="2272.43" cy="1514.9" r="3.4" fill="#c0eb8d"/><circle cx="2275.57" cy="1513.86" r="3.4" fill="#c2ea8c"/><circle cx="2278.71" cy="1515.49" r="3.4" fill="#c4e88a"/><circle cx="2281.85" cy="1518.75" r="3.4" fill="#c6e789"/><circle cx="2284.99" cy="1522" r="3.4" fill="#c8e688"/><circle cx="2288.13" cy="1525.63" r="3.4" fill="#cbe486"/><circle cx="2291.27" cy="1529.06" r="3.4" fill="#cce385"/><circle cx="2294.41" cy="1532.43" r="3.4" fill="#cce385"/><circle cx="2297.55" cy="1532.66" r="3.4" fill="#cee184"/><circle cx="2300.69" cy="1525.39" r="3.4" fill="#d0e082"/><circle cx="2303.82" cy="1516.81" r="3.4" fill="#d2de81"/><circle cx="2306.96" cy="1508.27" r="3.4" fill="#d4dd80"/><circle cx="2310.1" cy="1505.79" r="3.4" fill="#d6db7e"/><circle cx="2313.24" cy="1507.06" r="3.4" fill="#d9da7d"/><circle cx="2316.38" cy="1510.75" r="3.4" fill="#dbd87b"/><circle cx="2319.52" cy="1520.93" r="3.4" fill="#dbd87b"/><circle cx="2322.66" cy="1532.49" r="3.4" fill="#dcd67a"/><circle cx="2325.8" cy="1540.67" r="3.4" fill="#ded579"/><circle cx="2328.94" cy="1546.97" r="3.4" fill="#e0d377"/><circle cx="2332.08" cy="1549.59" r="3.4" fill="#e2d176"/><circle cx="2335.21" cy="1550.33" r="3.4" fill="#e4cf74"/><circle cx="2338.35" cy="1547.28" r="3.4" fill="#e6cd73"/><circle cx="2341.49" cy="1541.65" r="3.4" fill="#e6cd73"/><circle cx="2344.63" cy="1530.59" r="3.4" fill="#e8cb72"/><circle cx="2347.77" cy="1518.43" r="3.4" fill="#ebca70"/><circle cx="2350.91" cy="1505.55" r="3.4" fill="#ecc86f"/><circle cx="2354.05" cy="1496.48" r="3.4" fill="#eec66d"/><circle cx="2357.19" cy="1494.36" r="3.4" fill="#f0c46c"/><circle cx="2360.33" cy="1496.26" r="3.4" fill="#f2c26b"/><circle cx="2363.47" cy="1500.98" r="3.4" fill="#f2c26b"/><circle cx="2366.6" cy="1508.98" r="3.4" fill="#f4c069"/><circle cx="2369.74" cy="1519.68" r="3.4" fill="#f6be68"/><circle cx="2372.88" cy="1528.13" r="3.4" fill="#f9bb66"/><circle cx="2376.02" cy="1534.85" r="3.4" fill="#fbb965"/><circle cx="2379.16" cy="1538.33" r="3.4" fill="#fcb763"/><circle cx="2382.3" cy="1535.78" r="3.4" fill="#feb562"/><circle cx="2385.44" cy="1530.12" r="3.4" fill="#ffb360"/><circle cx="2388.58" cy="1522.59" r="3.4" fill="#ffb360"/><circle cx="2391.72" cy="1512.82" r="3.4" fill="#ffb05f"/><circle cx="2394.86" cy="1501.81" r="3.4" fill="#ffae5e"/><circle cx="2397.99" cy="1492.19" r="3.4" fill="#ffac5c"/><circle cx="2401.13" cy="1482.28" r="3.4" fill="#ffa95b"/><circle cx="2404.27" cy="1478.42" r="3.4" fill="#ffa759"/><circle cx="2407.41" cy="1479.9" r="3.4" fill="#ffa558"/><circle cx="2410.55" cy="1485.4" r="3.4" fill="#ffa558"/><circle cx="2413.69" cy="1492.26" r="3.4" fill="#ffa256"/><circle cx="2416.83" cy="1498.75" r="3.4" fill="#ffa055"/><circle cx="2419.97" cy="1503.24" r="3.4" fill="#ff9d53"/><circle cx="2423.11" cy="1504.5" r="3.4" fill="#ff9b52"/><circle cx="2426.25" cy="1501.56" r="3.4" fill="#ff9850"/><circle cx="2429.38" cy="1497.8" r="3.4" fill="#ff964f"/><circle cx="2432.52" cy="1493.33" r="3.4" fill="#ff964f"/><circle cx="2435.66" cy="1488.74" r="3.4" fill="#ff934d"/><circle cx="2438.8" cy="1484.02" r="3.4" fill="#ff914c"/><circle cx="2441.94" cy="1478.96" r="3.4" fill="#ff8e4a"/><circle cx="2445.08" cy="1470.03" r="3.4" fill="#ff8c49"/><circle cx="2448.22" cy="1463.89" r="3.4" fill="#ff8947"/><circle cx="2451.36" cy="1461.95" r="3.4" fill="#ff8646"/><circle cx="2454.5" cy="1463.75" r="3.4" fill="#ff8444"/><circle cx="2457.64" cy="1469.48" r="3.4" fill="#ff8444"/><circle cx="2460.77" cy="1475.02" r="3.4" fill="#ff8143"/><circle cx="2463.91" cy="1483.77" r="3.4" fill="#ff7e41"/><circle cx="2467.05" cy="1492.15" r="3.4" fill="#ff7b40"/><circle cx="2470.19" cy="1499.2" r="3.4" fill="#ff793e"/><circle cx="2473.33" cy="1503.14" r="3.4" fill="#ff763d"/><circle cx="2476.47" cy="1503.84" r="3.4" fill="#ff733b"/><circle cx="2479.61" cy="1501.62" r="3.4" fill="#ff733b"/><circle cx="2482.75" cy="1498.18" r="3.4" fill="#ff703a"/><circle cx="2485.89" cy="1493.51" r="3.4" fill="#ff6d38"/><circle cx="2489.02" cy="1489.56" r="3.4" fill="#ff6b37"/><circle cx="2492.16" cy="1485.29" r="3.4" fill="#ff6835"/><circle cx="2495.3" cy="1478.75" r="3.4" fill="#ff6533"/><circle cx="2498.44" cy="1473.45" r="3.4" fill="#ff6232"/><circle cx="2501.58" cy="1463.87" r="3.4" fill="#ff5f30"/><circle cx="2504.72" cy="1452.16" r="3.4" fill="#ff5f30"/><circle cx="2507.86" cy="1444.06" r="3.4" fill="#ff5c2f"/><circle cx="2511" cy="1438.73" r="3.4" fill="#ff592d"/><circle cx="2514.14" cy="1439.7" r="3.4" fill="#ff562c"/><circle cx="2517.28" cy="1446.43" r="3.4" fill="#ff532a"/><circle cx="2520.41" cy="1458.67" r="3.4" fill="#ff5029"/><circle cx="2523.55" cy="1470.48" r="3.4" fill="#ff4d27"/><circle cx="2526.69" cy="1476.26" r="3.4" fill="#ff4d27"/><circle cx="2529.83" cy="1479.11" r="3.4" fill="#ff4a26"/><circle cx="2532.97" cy="1478.41" r="3.4" fill="#ff4724"/><circle cx="2536.11" cy="1475.29" r="3.4" fill="#ff4422"/><circle cx="2539.25" cy="1470.37" r="3.4" fill="#ff4121"/><circle cx="2542.39" cy="1463.57" r="3.4" fill="#ff3e1f"/><circle cx="2545.53" cy="1453.88" r="3.4" fill="#ff3b1e"/><circle cx="2548.67" cy="1446.51" r="3.4" fill="#ff3b1e"/><circle cx="2551.8" cy="1437.26" r="3.4" fill="#ff381c"/><circle cx="2554.94" cy="1429.1" r="3.4" fill="#ff351b"/><circle cx="2558.08" cy="1423.43" r="3.4" fill="#ff3219"/><circle cx="2561.22" cy="1418.17" r="3.4" fill="#ff2f18"/><circle cx="2564.36" cy="1417.56" r="3.4" fill="#ff2c16"/><circle cx="2567.5" cy="1419.11" r="3.4" fill="#ff2914"/><circle cx="2570.64" cy="1422.98" r="3.4" fill="#ff2613"/><circle cx="2573.78" cy="1427.34" r="3.4" fill="#ff2613"/><circle cx="2576.92" cy="1432.86" r="3.4" fill="#ff2211"/><circle cx="2580.06" cy="1438.49" r="3.4" fill="#ff1f10"/><circle cx="2583.19" cy="1445.13" r="3.4" fill="#ff1c0e"/><circle cx="2586.33" cy="1452.35" r="3.4" fill="#ff190d"/><circle cx="2589.47" cy="1460.16" r="3.4" fill="#ff160b"/><circle cx="2592.61" cy="1464.82" r="3.4" fill="#ff1309"/><circle cx="2595.75" cy="1463.84" r="3.4" fill="#ff1309"/><circle cx="2598.89" cy="1460.88" r="3.4" fill="#ff1008"/><circle cx="2602.03" cy="1458.27" r="3.4" fill="#ff0d06"/><circle cx="2605.17" cy="1455.38" r="3.4" fill="#ff0905"/><circle cx="2608.31" cy="1455.27" r="3.4" fill="#ff0603"/><circle cx="2611.45" cy="1458.63" r="3.4" fill="#ff0302"/><circle cx="2614.58" cy="1464.72" r="3.4" fill="#ff0000"/><circle cx="2617.72" cy="1470.31" r="3.4" fill="#ff0000"/><circle cx="1688.58" cy="1553.64" r="3.4" fill="#0000ff"/><circle cx="1691.72" cy="1513.78" r="3.4" fill="#0000ff"/><circle cx="1694.86" cy="1452.37" r="3.4" fill="#0001fe"/><circle cx="1698" cy="1386.13" r="3.4" fill="#0002fe"/><circle cx="1701.14" cy="1333.69" r="3.4" fill="#0003fe"/><circle cx="1704.28" cy="1300.49" r="3.4" fill="#0004fd"/><circle cx="1707.42" cy="1286.42" r="3.4" fill="#0005fc"/><circle cx="1710.56" cy="1287.72" r="3.4" fill="#0006fc"/><circle cx="1713.69" cy="1300.88" r="3.4" fill="#0007fc"/><circle cx="1716.83" cy="1328.75" r="3.4" fill="#0007fc"/><circle cx="1719.97" cy="1367.39" r="3.4" fill="#0008fb"/><circle cx="1723.11" cy="1417.05" r="3.4" fill="#0009fa"/><circle cx="1726.25" cy="1466.29" r="3.4" fill="#000afa"/><circle cx="1729.39" cy="1505.55" r="3.4" fill="#000bfa"/><circle cx="1732.53" cy="1533.81" r="3.4" fill="#000cf9"/><circle cx="1735.67" cy="1545.95" r="3.4" fill="#000df8"/><circle cx="1738.81" cy="1550.38" r="3.4" fill="#000df8"/><circle cx="1741.95" cy="1545.46" r="3.4" fill="#000ef8"/><circle cx="1745.08" cy="1535.47" r="3.4" fill="#000ff8"/><circle cx="1748.22" cy="1515.73" r="3.4" fill="#0010f7"/><circle cx="1751.36" cy="1483.53" r="3.4" fill="#0011f6"/><circle cx="1754.5" cy="1444.06" r="3.4" fill="#0012f6"/><circle cx="1757.64" cy="1409.15" r="3.4" fill="#0013f6"/><circle cx="1760.78" cy="1387.75" r="3.4" fill="#0013f6"/><circle cx="1763.92" cy="1386.93" r="3.4" fill="#0014f5"/><circle cx="1767.06" cy="1400.67" r="3.4" fill="#0015f4"/><circle cx="1770.2" cy="1426.45" r="3.4" fill="#0016f4"/><circle cx="1773.33" cy="1452.26" r="3.4" fill="#0017f4"/><circle cx="1776.47" cy="1468.05" r="3.4" fill="#0018f3"/><circle cx="1779.61" cy="1474.79" r="3.4" fill="#0019f2"/><circle cx="1782.75" cy="1476.08" r="3.4" fill="#001af2"/><circle cx="1785.89" cy="1476.09" r="3.4" fill="#001af2"/><circle cx="1789.03" cy="1475.01" r="3.4" fill="#001bf2"/><circle cx="1792.17" cy="1471.89" r="3.4" fill="#001cf1"/><circle cx="1795.31" cy="1466.8" r="3.4" fill="#001df0"/><circle cx="1798.45" cy="1455.24" r="3.4" fill="#001ef0"/><circle cx="1801.59" cy="1443.45" r="3.4" fill="#001ff0"/><circle cx="1804.72" cy="1439.33" r="3.4" fill="#0020ef"/><circle cx="1807.86" cy="1441.07" r="3.4" fill="#0020ef"/><circle cx="1811" cy="1444.44" r="3.4" fill="#0021ee"/><circle cx="1814.14" cy="1446.91" r="3.4" fill="#0022ee"/><circle cx="1817.28" cy="1448.92" r="3.4" fill="#0023ee"/><circle cx="1820.42" cy="1448.95" r="3.4" fill="#0024ed"/><circle cx="1823.56" cy="1446.96" r="3.4" fill="#0025ec"/><circle cx="1826.7" cy="1444.06" r="3.4" fill="#0026ec"/><circle cx="1829.84" cy="1439.73" r="3.4" fill="#0026ec"/><circle cx="1832.98" cy="1433.87" r="3.4" fill="#0027ec"/><circle cx="1836.11" cy="1426.08" r="3.4" fill="#0028eb"/><circle cx="1839.25" cy="1418.92" r="3.4" fill="#0029eb"/><circle cx="1842.39" cy="1414.38" r="3.4" fill="#002aea"/><circle cx="1845.53" cy="1414.41" r="3.4" fill="#002bea"/><circle cx="1848.67" cy="1418.92" r="3.4" fill="#002ce9"/><circle cx="1851.81" cy="1426.12" r="3.4" fill="#002de8"/><circle cx="1854.95" cy="1432.01" r="3.4" fill="#002de8"/><circle cx="1858.09" cy="1433.63" r="3.4" fill="#002ee8"/><circle cx="1861.23" cy="1434.29" r="3.4" fill="#002fe8"/><circle cx="1864.37" cy="1434.29" r="3.4" fill="#0030e7"/><circle cx="1867.5" cy="1434.29" r="3.4" fill="#0031e6"/><circle cx="1870.64" cy="1435.37" r="3.4" fill="#0032e6"/><circle cx="1873.78" cy="1434.46" r="3.4" fill="#0033e6"/><circle cx="1876.92" cy="1431.25" r="3.4" fill="#0033e6"/><circle cx="1880.06" cy="1426.28" r="3.4" fill="#0034e5"/><circle cx="1883.2" cy="1422.97" r="3.4" fill="#0035e4"/><circle cx="1886.34" cy="1422.47" r="3.4" fill="#0036e4"/><circle cx="1889.48" cy="1424.24" r="3.4" fill="#0037e3"/><circle cx="1892.62" cy="1426.57" r="3.4" fill="#0038e3"/><circle cx="1895.76" cy="1428.4" r="3.4" fill="#0039e2"/><circle cx="1898.89" cy="1429.58" r="3.4" fill="#003ae2"/><circle cx="1902.03" cy="1430.14" r="3.4" fill="#003ae2"/><circle cx="1905.17" cy="1430.32" r="3.4" fill="#003be2"/><circle cx="1908.31" cy="1428.55" r="3.4" fill="#003ce1"/><circle cx="1911.45" cy="1425.2" r="3.4" fill="#003de0"/><circle cx="1914.59" cy="1419.16" r="3.4" fill="#003ee0"/><circle cx="1917.73" cy="1409.98" r="3.4" fill="#003fe0"/><circle cx="1920.87" cy="1396.89" r="3.4" fill="#0040df"/><circle cx="1924.01" cy="1385.36" r="3.4" fill="#0040df"/><circle cx="1927.15" cy="1373.68" r="3.4" fill="#0041de"/><circle cx="1930.28" cy="1365.4" r="3.4" fill="#0042de"/><circle cx="1933.42" cy="1363.78" r="3.4" fill="#0043de"/><circle cx="1936.56" cy="1368.61" r="3.4" fill="#0044dd"/><circle cx="1939.7" cy="1382.71" r="3.4" fill="#0045dc"/><circle cx="1942.84" cy="1396.59" r="3.4" fill="#0046dc"/><circle cx="1945.98" cy="1406.36" r="3.4" fill="#0046dc"/><circle cx="1949.12" cy="1410.25" r="3.4" fill="#0047dc"/><circle cx="1952.26" cy="1412.04" r="3.4" fill="#0048db"/><circle cx="1955.4" cy="1410.83" r="3.4" fill="#0049db"/><circle cx="1958.54" cy="1407.28" r="3.4" fill="#004ada"/><circle cx="1961.67" cy="1396.89" r="3.4" fill="#004bda"/><circle cx="1964.81" cy="1381.63" r="3.4" fill="#004cd9"/><circle cx="1967.95" cy="1360.95" r="3.4" fill="#004dd8"/><circle cx="1971.09" cy="1348.28" r="3.4" fill="#004dd8"/><circle cx="1974.23" cy="1342.53" r="3.4" fill="#004ed8"/><circle cx="1977.37" cy="1337.2" r="3.4" fill="#004fd8"/><circle cx="1980.51" cy="1334.15" r="3.4" fill="#0050d7"/><circle cx="1983.65" cy="1336.04" r="3.4" fill="#0051d6"/><circle cx="1986.79" cy="1338.19" r="3.4" fill="#0052d6"/><circle cx="1989.93" cy="1338.9" r="3.4" fill="#0053d6"/><circle cx="1993.06" cy="1337.75" r="3.4" fill="#0053d6"/><circle cx="1996.2" cy="1333.98" r="3.4" fill="#0054d5"/><circle cx="1999.34" cy="1325.65" r="3.4" fill="#0055d4"/><circle cx="2002.48" cy="1313.43" r="3.4" fill="#0056d4"/><circle cx="2005.62" cy="1298.06" r="3.4" fill="#0057d3"/><circle cx="2008.76" cy="1290.3" r="3.4" fill="#0058d3"/><circle cx="2011.9" cy="1287.44" r="3.4" fill="#0059d2"/><circle cx="2015.04" cy="1289.69" r="3.4" fill="#005ad2"/><circle cx="2018.18" cy="1294.29" r="3.4" fill="#005ad2"/><circle cx="2021.32" cy="1298.7" r="3.4" fill="#005bd2"/><circle cx="2024.45" cy="1302.53" r="3.4" fill="#005cd1"/><circle cx="2027.59" cy="1302.73" r="3.4" fill="#005dd0"/><circle cx="2030.73" cy="1301.53" r="3.4" fill="#005ed0"/><circle cx="2033.87" cy="1300.05" r="3.4" fill="#005fd0"/><circle cx="2037.01" cy="1298.28" r="3.4" fill="#0060cf"/><circle cx="2040.15" cy="1295.71" r="3.4" fill="#0060cf"/><circle cx="2043.29" cy="1289.84" r="3.4" fill="#0061ce"/><circle cx="2046.43" cy="1286.03" r="3.4" fill="#0062ce"/><circle cx="2049.57" cy="1284.08" r="3.4" fill="#0063ce"/><circle cx="2052.71" cy="1283.98" r="3.4" fill="#0064cd"/><circle cx="2055.84" cy="1284.36" r="3.4" fill="#0065cc"/><circle cx="2058.98" cy="1284.45" r="3.4" fill="#0066cc"/><circle cx="2062.12" cy="1283.91" r="3.4" fill="#0066cc"/><circle cx="2065.26" cy="1283.24" r="3.4" fill="#0067cc"/><circle cx="2068.4" cy="1283.14" r="3.4" fill="#0068cb"/><circle cx="2071.54" cy="1284.47" r="3.4" fill="#0069cb"/><circle cx="2074.68" cy="1286.16" r="3.4" fill="#006aca"/><circle cx="2077.82" cy="1287.79" r="3.4" fill="#006bca"/><circle cx="2080.96" cy="1289.45" r="3.4" fill="#006cc9"/><circle cx="2084.1" cy="1290.3" r="3.4" fill="#006dc8"/><circle cx="2087.23" cy="1290.28" r="3.4" fill="#006dc8"/><circle cx="2090.37" cy="1290.17" r="3.4" fill="#006ec8"/><circle cx="2093.51" cy="1290.01" r="3.4" fill="#006fc8"/><circle cx="2096.65" cy="1289.81" r="3.4" fill="#0070c7"/><circle cx="2099.79" cy="1289.59" r="3.4" fill="#0071c6"/><circle cx="2102.93" cy="1289.25" r="3.4" fill="#0072c6"/><circle cx="2106.07" cy="1288.78" r="3.4" fill="#0073c6"/><circle cx="2109.21" cy="1288.21" r="3.4" fill="#0073c6"/><circle cx="2112.35" cy="1287.54" r="3.4" fill="#0074c5"/><circle cx="2115.49" cy="1286.67" r="3.4" fill="#0075c4"/><circle cx="2118.62" cy="1285.45" r="3.4" fill="#0076c4"/><circle cx="2121.76" cy="1284.13" r="3.4" fill="#0077c3"/><circle cx="2124.9" cy="1282.57" r="3.4" fill="#0078c3"/><circle cx="2128.04" cy="1281.02" r="3.4" fill="#0079c2"/><circle cx="2131.18" cy="1280.99" r="3.4" fill="#0079c2"/><circle cx="2134.32" cy="1282.44" r="3.4" fill="#007ac2"/><circle cx="2137.46" cy="1284.23" r="3.4" fill="#007bc2"/><circle cx="2140.6" cy="1286.5" r="3.4" fill="#007cc1"/><circle cx="2143.74" cy="1288.52" r="3.4" fill="#007dc0"/><circle cx="2146.87" cy="1289.72" r="3.4" fill="#007ec0"/><circle cx="2150.01" cy="1290.31" r="3.4" fill="#007fc0"/><circle cx="2153.15" cy="1290.14" r="3.4" fill="#0080bf"/><circle cx="2156.29" cy="1289.76" r="3.4" fill="#0080bf"/><circle cx="2159.43" cy="1289.38" r="3.4" fill="#0081be"/><circle cx="2162.57" cy="1289.16" r="3.4" fill="#0082be"/><circle cx="2165.71" cy="1289.03" r="3.4" fill="#0083be"/><circle cx="2168.85" cy="1288.91" r="3.4" fill="#0084bd"/><circle cx="2171.99" cy="1288.7" r="3.4" fill="#0085bc"/><circle cx="2175.13" cy="1288.14" r="3.4" fill="#0086bc"/><circle cx="2178.26" cy="1286.96" r="3.4" fill="#0086bc"/><circle cx="2181.4" cy="1285.53" r="3.4" fill="#0087bc"/><circle cx="2184.54" cy="1284.03" r="3.4" fill="#0088bb"/><circle cx="2187.68" cy="1282.3" r="3.4" fill="#0089bb"/><circle cx="2190.82" cy="1280.77" r="3.4" fill="#008aba"/><circle cx="2193.96" cy="1279.35" r="3.4" fill="#008bba"/><circle cx="2197.1" cy="1279.67" r="3.4" fill="#008cb9"/><circle cx="2200.24" cy="1282.7" r="3.4" fill="#008db8"/><circle cx="2203.38" cy="1285.7" r="3.4" fill="#008db8"/><circle cx="2206.52" cy="1288.43" r="3.4" fill="#008eb8"/><circle cx="2209.65" cy="1288.65" r="3.4" fill="#008fb8"/><circle cx="2212.79" cy="1288.56" r="3.4" fill="#0090b7"/><circle cx="2215.93" cy="1286.21" r="3.4" fill="#0091b6"/><circle cx="2219.07" cy="1279.92" r="3.4" fill="#0092b6"/><circle cx="2222.21" cy="1271.51" r="3.4" fill="#0093b6"/><circle cx="2225.35" cy="1261.02" r="3.4" fill="#0093b6"/><circle cx="2228.49" cy="1250.22" r="3.4" fill="#0094b5"/><circle cx="2231.63" cy="1243.95" r="3.4" fill="#0095b4"/><circle cx="2234.77" cy="1239.81" r="3.4" fill="#0096b4"/><circle cx="2237.91" cy="1238.39" r="3.4" fill="#0097b3"/><circle cx="2241.04" cy="1239.07" r="3.4" fill="#0098b3"/><circle cx="2244.18" cy="1240.1" r="3.4" fill="#0099b2"/><circle cx="2247.32" cy="1240.72" r="3.4" fill="#0099b2"/><circle cx="2250.46" cy="1241.05" r="3.4" fill="#009ab2"/><circle cx="2253.6" cy="1241.3" r="3.4" fill="#009bb2"/><circle cx="2256.74" cy="1241.46" r="3.4" fill="#009cb1"/><circle cx="2259.88" cy="1241.15" r="3.4" fill="#009db0"/><circle cx="2263.02" cy="1238.65" r="3.4" fill="#009eb0"/><circle cx="2266.16" cy="1235.22" r="3.4" fill="#009fb0"/><circle cx="2269.3" cy="1230.21" r="3.4" fill="#00a0af"/><circle cx="2272.43" cy="1222.81" r="3.4" fill="#00a0af"/><circle cx="2275.57" cy="1213.76" r="3.4" fill="#00a1ae"/><circle cx="2278.71" cy="1205.1" r="3.4" fill="#00a2ae"/><circle cx="2281.85" cy="1196.95" r="3.4" fill="#00a3ae"/><circle cx="2284.99" cy="1192.21" r="3.4" fill="#00a4ad"/><circle cx="2288.13" cy="1191.62" r="3.4" fill="#00a5ac"/><circle cx="2291.27" cy="1193.26" r="3.4" fill="#00a6ac"/><circle cx="2294.41" cy="1195.4" r="3.4" fill="#00a6ac"/><circle cx="2297.55" cy="1197.67" r="3.4" fill="#00a7ac"/><circle cx="2300.69" cy="1198.44" r="3.4" fill="#00a8ab"/><circle cx="2303.82" cy="1197.33" r="3.4" fill="#00a9ab"/><circle cx="2306.96" cy="1195.36" r="3.4" fill="#00aaaa"/><circle cx="2310.1" cy="1192.44" r="3.4" fill="#00abaa"/><circle cx="2313.24" cy="1188.45" r="3.4" fill="#00aca9"/><circle cx="2316.38" cy="1184.52" r="3.4" fill="#00ada8"/><circle cx="2319.52" cy="1180.4" r="3.4" fill="#00ada8"/><circle cx="2322.66" cy="1175.65" r="3.4" fill="#00aea8"/><circle cx="2325.8" cy="1173.16" r="3.4" fill="#00afa8"/><circle cx="2328.94" cy="1172.09" r="3.4" fill="#00b0a7"/><circle cx="2332.08" cy="1172.11" r="3.4" fill="#00b1a6"/><circle cx="2335.21" cy="1173.84" r="3.4" fill="#00b2a6"/><circle cx="2338.35" cy="1175.42" r="3.4" fill="#00b3a6"/><circle cx="2341.49" cy="1176.1" r="3.4" fill="#00b3a6"/><circle cx="2344.63" cy="1176.57" r="3.4" fill="#00b4a5"/><circle cx="2347.77" cy="1176.61" r="3.4" fill="#00b5a4"/><circle cx="2350.91" cy="1176.09" r="3.4" fill="#00b6a4"/><circle cx="2354.05" cy="1175.35" r="3.4" fill="#00b7a3"/><circle cx="2357.19" cy="1174.43" r="3.4" fill="#00b8a3"/><circle cx="2360.33" cy="1173.32" r="3.4" fill="#00b9a2"/><circle cx="2363.47" cy="1172.96" r="3.4" fill="#00b9a2"/><circle cx="2366.6" cy="1173.95" r="3.4" fill="#00baa2"/><circle cx="2369.74" cy="1175.6" r="3.4" fill="#00bba2"/><circle cx="2372.88" cy="1178.41" r="3.4" fill="#00bca1"/><circle cx="2376.02" cy="1181.03" r="3.4" fill="#00bda0"/><circle cx="2379.16" cy="1182.53" r="3.4" fill="#00bea0"/><circle cx="2382.3" cy="1183.46" r="3.4" fill="#00bfa0"/><circle cx="2385.44" cy="1182.6" r="3.4" fill="#00c09f"/><circle cx="2388.58" cy="1179.57" r="3.4" fill="#00c09f"/><circle cx="2391.72" cy="1177" r="3.4" fill="#00c19e"/><circle cx="2394.86" cy="1174.78" r="3.4" fill="#00c29e"/><circle cx="2397.99" cy="1173.48" r="3.4" fill="#00c39e"/><circle cx="2401.13" cy="1172.92" r="3.4" fill="#00c49d"/><circle cx="2404.27" cy="1174.63" r="3.4" fill="#00c59c"/><circle cx="2407.41" cy="1177.88" r="3.4" fill="#00c69c"/><circle cx="2410.55" cy="1180.88" r="3.4" fill="#00c69c"/><circle cx="2413.69" cy="1183.78" r="3.4" fill="#00c79c"/><circle cx="2416.83" cy="1184.77" r="3.4" fill="#00c89b"/><circle cx="2419.97" cy="1185.17" r="3.4" fill="#00c99b"/><circle cx="2423.11" cy="1184.38" r="3.4" fill="#00ca9a"/><circle cx="2426.25" cy="1182.1" r="3.4" fill="#00cb9a"/><circle cx="2429.38" cy="1180.08" r="3.4" fill="#00cc99"/><circle cx="2432.52" cy="1178.55" r="3.4" fill="#00cc99"/><circle cx="2435.66" cy="1177.15" r="3.4" fill="#00cd98"/><circle cx="2438.8" cy="1175.88" r="3.4" fill="#00ce98"/><circle cx="2441.94" cy="1174.71" r="3.4" fill="#00cf98"/><circle cx="2445.08" cy="1173.76" r="3.4" fill="#00d097"/><circle cx="2448.22" cy="1172.94" r="3.4" fill="#00d196"/><circle cx="2451.36" cy="1172.37" r="3.4" fill="#00d296"/><circle cx="2454.5" cy="1172.48" r="3.4" fill="#00d396"/><circle cx="2457.64" cy="1173.33" r="3.4" fill="#00d396"/><circle cx="2460.77" cy="1174.67" r="3.4" fill="#00d495"/><circle cx="2463.91" cy="1176.85" r="3.4" fill="#00d594"/><circle cx="2467.05" cy="1178.92" r="3.4" fill="#00d694"/><circle cx="2470.19" cy="1180.92" r="3.4" fill="#00d793"/><circle cx="2473.33" cy="1182.39" r="3.4" fill="#00d893"/><circle cx="2476.47" cy="1183.63" r="3.4" fill="#00d992"/><circle cx="2479.61" cy="1184.33" r="3.4" fill="#00d992"/><circle cx="2482.75" cy="1184.31" r="3.4" fill="#00da92"/><circle cx="2485.89" cy="1184.19" r="3.4" fill="#00db92"/><circle cx="2489.02" cy="1184.04" r="3.4" fill="#00dc91"/><circle cx="2492.16" cy="1183.95" r="3.4" fill="#00dd90"/><circle cx="2495.3" cy="1184.18" r="3.4" fill="#00de90"/><circle cx="2498.44" cy="1185.2" r="3.4" fill="#00df90"/><circle cx="2501.58" cy="1186.07" r="3.4" fill="#00e08f"/><circle cx="2504.72" cy="1186.59" r="3.4" fill="#00e08f"/><circle cx="2507.86" cy="1186.84" r="3.4" fill="#00e18e"/><circle cx="2511" cy="1186.3" r="3.4" fill="#00e28e"/><circle cx="2514.14" cy="1185.1" r="3.4" fill="#00e38e"/><circle cx="2517.28" cy="1183.84" r="3.4" fill="#00e48d"/><circle cx="2520.41" cy="1182.29" r="3.4" fill="#00e58c"/><circle cx="2523.55" cy="1180.66" r="3.4" fill="#00e68c"/><circle cx="2526.69" cy="1179.34" r="3.4" fill="#00e68c"/><circle cx="2529.83" cy="1178.08" r="3.4" fill="#00e78c"/><circle cx="2532.97" cy="1177.04" r="3.4" fill="#00e88b"/><circle cx="2536.11" cy="1176.67" r="3.4" fill="#00e98b"/><circle cx="2539.25" cy="1176.82" r="3.4" fill="#00ea8a"/><circle cx="2542.39" cy="1177.18" r="3.4" fill="#00eb8a"/><circle cx="2545.53" cy="1177.65" r="3.4" fill="#00ec89"/><circle cx="2548.67" cy="1178.26" r="3.4" fill="#00ec89"/><circle cx="2551.8" cy="1179.31" r="3.4" fill="#00ed88"/><circle cx="2554.94" cy="1180.47" r="3.4" fill="#00ee88"/><circle cx="2558.08" cy="1181.36" r="3.4" fill="#00ef88"/><circle cx="2561.22" cy="1182.19" r="3.4" fill="#00f087"/><circle cx="2564.36" cy="1182.67" r="3.4" fill="#00f186"/><circle cx="2567.5" cy="1182.56" r="3.4" fill="#00f286"/><circle cx="2570.64" cy="1182.19" r="3.4" fill="#00f386"/><circle cx="2573.78" cy="1181.8" r="3.4" fill="#00f386"/><circle cx="2576.92" cy="1181.65" r="3.4" fill="#00f485"/><circle cx="2580.06" cy="1182.03" r="3.4" fill="#00f584"/><circle cx="2583.19" cy="1182.78" r="3.4" fill="#00f684"/><circle cx="2586.33" cy="1183.52" r="3.4" fill="#00f784"/><circle cx="2589.47" cy="1184.3" r="3.4" fill="#00f883"/><circle cx="2592.61" cy="1185.02" r="3.4" fill="#00f982"/><circle cx="2595.75" cy="1185.08" r="3.4" fill="#00f982"/><circle cx="2598.89" cy="1184.16" r="3.4" fill="#00fa82"/><circle cx="2602.03" cy="1182.91" r="3.4" fill="#00fb82"/><circle cx="2605.17" cy="1181.72" r="3.4" fill="#00fc81"/><circle cx="2608.31" cy="1180.41" r="3.4" fill="#00fd80"/><circle cx="2611.45" cy="1179.41" r="3.4" fill="#00fe80"/><circle cx="2614.58" cy="1178.65" r="3.4" fill="#00ff80"/><circle cx="2617.72" cy="1178.08" r="3.4" fill="#00ff80"/><circle cx="1688.58" cy="1574.14" r="3.4" fill="#ff0000"/><circle cx="1691.72" cy="1570.17" r="3.4" fill="#ff0000"/><circle cx="1694.86" cy="1566.1" r="3.4" fill="#ff0100"/><circle cx="1698" cy="1562.86" r="3.4" fill="#ff0200"/><circle cx="1701.14" cy="1560.58" r="3.4" fill="#ff0300"/><circle cx="1704.28" cy="1558.89" r="3.4" fill="#ff0400"/><circle cx="1707.42" cy="1558.1" r="3.4" fill="#ff0500"/><circle cx="1710.56" cy="1557.65" r="3.4" fill="#ff0600"/><circle cx="1713.69" cy="1557.5" r="3.4" fill="#ff0700"/><circle cx="1716.83" cy="1557.94" r="3.4" fill="#ff0700"/><circle cx="1719.97" cy="1558.63" r="3.4" fill="#ff0800"/><circle cx="1723.11" cy="1558.93" r="3.4" fill="#ff0900"/><circle cx="1726.25" cy="1557.03" r="3.4" fill="#ff0a00"/><circle cx="1729.39" cy="1554.03" r="3.4" fill="#ff0b00"/><circle cx="1732.53" cy="1551.71" r="3.4" fill="#ff0c00"/><circle cx="1735.67" cy="1549.58" r="3.4" fill="#ff0d00"/><circle cx="1738.81" cy="1548.06" r="3.4" fill="#ff0d00"/><circle cx="1741.95" cy="1547.12" r="3.4" fill="#ff0e00"/><circle cx="1745.08" cy="1550.04" r="3.4" fill="#ff0f00"/><circle cx="1748.22" cy="1557.41" r="3.4" fill="#ff1000"/><circle cx="1751.36" cy="1567.37" r="3.4" fill="#ff1100"/><circle cx="1754.5" cy="1580.35" r="3.4" fill="#ff1200"/><circle cx="1757.64" cy="1591.57" r="3.4" fill="#ff1300"/><circle cx="1760.78" cy="1602.79" r="3.4" fill="#ff1300"/><circle cx="1763.92" cy="1611.55" r="3.4" fill="#ff1400"/><circle cx="1767.06" cy="1614.59" r="3.4" fill="#ff1500"/><circle cx="1770.2" cy="1612.07" r="3.4" fill="#ff1600"/><circle cx="1773.33" cy="1608.19" r="3.4" fill="#ff1700"/><circle cx="1776.47" cy="1601.75" r="3.4" fill="#ff1800"/><circle cx="1779.61" cy="1597.65" r="3.4" fill="#ff1900"/><circle cx="1782.75" cy="1598.01" r="3.4" fill="#ff1a00"/><circle cx="1785.89" cy="1601.12" r="3.4" fill="#ff1a00"/><circle cx="1789.03" cy="1607.74" r="3.4" fill="#ff1b00"/><circle cx="1792.17" cy="1619.36" r="3.4" fill="#ff1c00"/><circle cx="1795.31" cy="1633.01" r="3.4" fill="#ff1d00"/><circle cx="1798.45" cy="1646.31" r="3.4" fill="#ff1e00"/><circle cx="1801.59" cy="1656.21" r="3.4" fill="#ff1f00"/><circle cx="1804.72" cy="1663.02" r="3.4" fill="#ff2000"/><circle cx="1807.86" cy="1669.34" r="3.4" fill="#ff2000"/><circle cx="1811" cy="1674.2" r="3.4" fill="#ff2100"/><circle cx="1814.14" cy="1678.97" r="3.4" fill="#ff2200"/><circle cx="1817.28" cy="1683.86" r="3.4" fill="#ff2300"/><circle cx="1820.42" cy="1686.72" r="3.4" fill="#ff2400"/><circle cx="1823.56" cy="1688.54" r="3.4" fill="#ff2500"/><circle cx="1826.7" cy="1689.88" r="3.4" fill="#ff2600"/><circle cx="1829.84" cy="1690.94" r="3.4" fill="#ff2600"/><circle cx="1832.98" cy="1692.22" r="3.4" fill="#ff2700"/><circle cx="1836.11" cy="1693.79" r="3.4" fill="#ff2800"/><circle cx="1839.25" cy="1696.03" r="3.4" fill="#ff2900"/><circle cx="1842.39" cy="1698.37" r="3.4" fill="#ff2a00"/><circle cx="1845.53" cy="1700.12" r="3.4" fill="#ff2b00"/><circle cx="1848.67" cy="1701.59" r="3.4" fill="#ff2c00"/><circle cx="1851.81" cy="1702.76" r="3.4" fill="#ff2d00"/><circle cx="1854.95" cy="1703.7" r="3.4" fill="#ff2d00"/><circle cx="1858.09" cy="1704.69" r="3.4" fill="#ff2e00"/><circle cx="1861.23" cy="1705.69" r="3.4" fill="#ff2f00"/><circle cx="1864.37" cy="1706.88" r="3.4" fill="#ff3000"/><circle cx="1867.5" cy="1708.54" r="3.4" fill="#ff3100"/><circle cx="1870.64" cy="1710.47" r="3.4" fill="#ff3200"/><circle cx="1873.78" cy="1712.33" r="3.4" fill="#ff3300"/><circle cx="1876.92" cy="1714.19" r="3.4" fill="#ff3300"/><circle cx="1880.06" cy="1715.83" r="3.4" fill="#ff3400"/><circle cx="1883.2" cy="1717.39" r="3.4" fill="#ff3500"/><circle cx="1886.34" cy="1718.36" r="3.4" fill="#ff3600"/><circle cx="1889.48" cy="1718.76" r="3.4" fill="#ff3700"/><circle cx="1892.62" cy="1719.06" r="3.4" fill="#ff3800"/><circle cx="1895.76" cy="1719.39" r="3.4" fill="#ff3900"/><circle cx="1898.89" cy="1719.73" r="3.4" fill="#ff3a00"/><circle cx="1902.03" cy="1720.32" r="3.4" fill="#ff3a00"/><circle cx="1905.17" cy="1721.41" r="3.4" fill="#ff3b00"/><circle cx="1908.31" cy="1722.62" r="3.4" fill="#ff3c00"/><circle cx="1911.45" cy="1724.02" r="3.4" fill="#ff3d00"/><circle cx="1914.59" cy="1725.27" r="3.4" fill="#ff3e00"/><circle cx="1917.73" cy="1726.11" r="3.4" fill="#ff3f00"/><circle cx="1920.87" cy="1726.78" r="3.4" fill="#ff4000"/><circle cx="1924.01" cy="1727.35" r="3.4" fill="#ff4000"/><circle cx="1927.15" cy="1727.81" r="3.4" fill="#ff4100"/><circle cx="1930.28" cy="1728.57" r="3.4" fill="#ff4200"/><circle cx="1933.42" cy="1730.14" r="3.4" fill="#ff4300"/><circle cx="1936.56" cy="1733.38" r="3.4" fill="#ff4400"/><circle cx="1939.7" cy="1738.11" r="3.4" fill="#ff4500"/><circle cx="1942.84" cy="1742.62" r="3.4" fill="#ff4600"/><circle cx="1945.98" cy="1744.29" r="3.4" fill="#ff4600"/><circle cx="1949.12" cy="1744.08" r="3.4" fill="#ff4700"/><circle cx="1952.26" cy="1742.7" r="3.4" fill="#ff4800"/><circle cx="1955.4" cy="1741.88" r="3.4" fill="#ff4900"/><circle cx="1958.54" cy="1741.38" r="3.4" fill="#ff4a00"/><circle cx="1961.67" cy="1741.48" r="3.4" fill="#ff4b00"/><circle cx="1964.81" cy="1741.82" r="3.4" fill="#ff4c00"/><circle cx="1967.95" cy="1742.14" r="3.4" fill="#ff4d00"/><circle cx="1971.09" cy="1742.45" r="3.4" fill="#ff4d00"/><circle cx="1974.23" cy="1742.91" r="3.4" fill="#ff4e00"/><circle cx="1977.37" cy="1743.87" r="3.4" fill="#ff4f00"/><circle cx="1980.51" cy="1745.73" r="3.4" fill="#ff5000"/><circle cx="1983.65" cy="1749.47" r="3.4" fill="#ff5100"/><circle cx="1986.79" cy="1756.12" r="3.4" fill="#ff5200"/><circle cx="1989.93" cy="1761.03" r="3.4" fill="#ff5300"/><circle cx="1993.06" cy="1765.46" r="3.4" fill="#ff5300"/><circle cx="1996.2" cy="1768.49" r="3.4" fill="#ff5400"/><circle cx="1999.34" cy="1769.55" r="3.4" fill="#ff5500"/><circle cx="2002.48" cy="1770.46" r="3.4" fill="#ff5600"/><circle cx="2005.62" cy="1772.15" r="3.4" fill="#ff5700"/><circle cx="2008.76" cy="1775.05" r="3.4" fill="#ff5800"/><circle cx="2011.9" cy="1781.83" r="3.4" fill="#ff5900"/><circle cx="2015.04" cy="1792.68" r="3.4" fill="#ff5a00"/><circle cx="2018.18" cy="1802.51" r="3.4" fill="#ff5a00"/><circle cx="2021.32" cy="1809.2" r="3.4" fill="#ff5b00"/><circle cx="2024.45" cy="1807.37" r="3.4" fill="#ff5c00"/><circle cx="2027.59" cy="1799.93" r="3.4" fill="#ff5d00"/><circle cx="2030.73" cy="1787.07" r="3.4" fill="#ff5e00"/><circle cx="2033.87" cy="1773.15" r="3.4" fill="#ff5f00"/><circle cx="2037.01" cy="1766.59" r="3.4" fill="#ff6000"/><circle cx="2040.15" cy="1770.21" r="3.4" fill="#ff6000"/><circle cx="2043.29" cy="1782.77" r="3.4" fill="#ff6100"/><circle cx="2046.43" cy="1801.62" r="3.4" fill="#ff6200"/><circle cx="2049.57" cy="1814.48" r="3.4" fill="#ff6300"/><circle cx="2052.71" cy="1832.57" r="3.4" fill="#ff6400"/><circle cx="2055.84" cy="1845.68" r="3.4" fill="#ff6500"/><circle cx="2058.98" cy="1854.29" r="3.4" fill="#ff6600"/><circle cx="2062.12" cy="1858.56" r="3.4" fill="#ff6600"/><circle cx="2065.26" cy="1859.5" r="3.4" fill="#ff6700"/><circle cx="2068.4" cy="1856.2" r="3.4" fill="#ff6800"/><circle cx="2071.54" cy="1851.5" r="3.4" fill="#ff6900"/><circle cx="2074.68" cy="1847.41" r="3.4" fill="#ff6a00"/><circle cx="2077.82" cy="1844.6" r="3.4" fill="#ff6b00"/><circle cx="2080.96" cy="1842.73" r="3.4" fill="#ff6c00"/><circle cx="2084.1" cy="1840.93" r="3.4" fill="#ff6d00"/><circle cx="2087.23" cy="1838.98" r="3.4" fill="#ff6d00"/><circle cx="2090.37" cy="1836.63" r="3.4" fill="#ff6e00"/><circle cx="2093.51" cy="1836.76" r="3.4" fill="#ff6f00"/><circle cx="2096.65" cy="1840.9" r="3.4" fill="#ff7000"/><circle cx="2099.79" cy="1846.51" r="3.4" fill="#ff7100"/><circle cx="2102.93" cy="1851.7" r="3.4" fill="#ff7200"/><circle cx="2106.07" cy="1855.96" r="3.4" fill="#ff7300"/><circle cx="2109.21" cy="1859.53" r="3.4" fill="#ff7300"/><circle cx="2112.35" cy="1861.77" r="3.4" fill="#ff7400"/><circle cx="2115.49" cy="1863.22" r="3.4" fill="#ff7500"/><circle cx="2118.62" cy="1864.18" r="3.4" fill="#ff7600"/><circle cx="2121.76" cy="1864.34" r="3.4" fill="#ff7700"/><circle cx="2124.9" cy="1864.19" r="3.4" fill="#ff7800"/><circle cx="2128.04" cy="1863.91" r="3.4" fill="#ff7900"/><circle cx="2131.18" cy="1863.4" r="3.4" fill="#ff7900"/><circle cx="2134.32" cy="1862.36" r="3.4" fill="#ff7a00"/><circle cx="2137.46" cy="1862.22" r="3.4" fill="#ff7b00"/><circle cx="2140.6" cy="1863.34" r="3.4" fill="#ff7c00"/><circle cx="2143.74" cy="1864.43" r="3.4" fill="#ff7d00"/><circle cx="2146.87" cy="1865.44" r="3.4" fill="#ff7e00"/><circle cx="2150.01" cy="1866.02" r="3.4" fill="#ff7f00"/><circle cx="2153.15" cy="1866.02" r="3.4" fill="#ff8000"/><circle cx="2156.29" cy="1866.02" r="3.4" fill="#ff8000"/><circle cx="2159.43" cy="1866.02" r="3.4" fill="#ff8100"/><circle cx="2162.57" cy="1865.54" r="3.4" fill="#ff8200"/><circle cx="2165.71" cy="1863.91" r="3.4" fill="#ff8300"/><circle cx="2168.85" cy="1861.54" r="3.4" fill="#ff8400"/><circle cx="2171.99" cy="1858.89" r="3.4" fill="#ff8500"/><circle cx="2175.13" cy="1856.21" r="3.4" fill="#ff8600"/><circle cx="2178.26" cy="1854.8" r="3.4" fill="#ff8600"/><circle cx="2181.4" cy="1855.01" r="3.4" fill="#ff8700"/><circle cx="2184.54" cy="1855.43" r="3.4" fill="#ff8800"/><circle cx="2187.68" cy="1855.78" r="3.4" fill="#ff8900"/><circle cx="2190.82" cy="1855.82" r="3.4" fill="#ff8a00"/><circle cx="2193.96" cy="1855.64" r="3.4" fill="#ff8b00"/><circle cx="2197.1" cy="1855.29" r="3.4" fill="#ff8c00"/><circle cx="2200.24" cy="1854.8" r="3.4" fill="#ff8d00"/><circle cx="2203.38" cy="1853.07" r="3.4" fill="#ff8d00"/><circle cx="2206.52" cy="1850.63" r="3.4" fill="#ff8e00"/><circle cx="2209.65" cy="1848.6" r="3.4" fill="#ff8f00"/><circle cx="2212.79" cy="1847.17" r="3.4" fill="#ff9000"/><circle cx="2215.93" cy="1847.79" r="3.4" fill="#ff9100"/><circle cx="2219.07" cy="1849.08" r="3.4" fill="#ff9200"/><circle cx="2222.21" cy="1848.56" r="3.4" fill="#ff9300"/><circle cx="2225.35" cy="1846.67" r="3.4" fill="#ff9300"/><circle cx="2228.49" cy="1845.97" r="3.4" fill="#ff9400"/><circle cx="2231.63" cy="1848.53" r="3.4" fill="#ff9500"/><circle cx="2234.77" cy="1853.06" r="3.4" fill="#ff9600"/><circle cx="2237.91" cy="1859.56" r="3.4" fill="#ff9700"/><circle cx="2241.04" cy="1865.17" r="3.4" fill="#ff9800"/><circle cx="2244.18" cy="1869.1" r="3.4" fill="#ff9900"/><circle cx="2247.32" cy="1871.92" r="3.4" fill="#ff9900"/><circle cx="2250.46" cy="1873.06" r="3.4" fill="#ff9a00"/><circle cx="2253.6" cy="1873.61" r="3.4" fill="#ff9b00"/><circle cx="2256.74" cy="1873.46" r="3.4" fill="#ff9c00"/><circle cx="2259.88" cy="1871.32" r="3.4" fill="#ff9d00"/><circle cx="2263.02" cy="1868.26" r="3.4" fill="#ff9e00"/><circle cx="2266.16" cy="1865.2" r="3.4" fill="#ff9f00"/><circle cx="2269.3" cy="1865" r="3.4" fill="#ffa000"/><circle cx="2272.43" cy="1869.69" r="3.4" fill="#ffa000"/><circle cx="2275.57" cy="1877.66" r="3.4" fill="#ffa100"/><circle cx="2278.71" cy="1889.08" r="3.4" fill="#ffa200"/><circle cx="2281.85" cy="1900.41" r="3.4" fill="#ffa300"/><circle cx="2284.99" cy="1908.24" r="3.4" fill="#ffa400"/><circle cx="2288.13" cy="1913.92" r="3.4" fill="#ffa500"/><circle cx="2291.27" cy="1916.28" r="3.4" fill="#ffa600"/><circle cx="2294.41" cy="1916.74" r="3.4" fill="#ffa600"/><circle cx="2297.55" cy="1914.22" r="3.4" fill="#ffa700"/><circle cx="2300.69" cy="1906.8" r="3.4" fill="#ffa800"/><circle cx="2303.82" cy="1898.61" r="3.4" fill="#ffa900"/><circle cx="2306.96" cy="1891.71" r="3.4" fill="#ffaa00"/><circle cx="2310.1" cy="1890.62" r="3.4" fill="#ffab00"/><circle cx="2313.24" cy="1896.14" r="3.4" fill="#ffac00"/><circle cx="2316.38" cy="1904.04" r="3.4" fill="#ffad00"/><circle cx="2319.52" cy="1917.96" r="3.4" fill="#ffad00"/><circle cx="2322.66" cy="1933.87" r="3.4" fill="#ffae00"/><circle cx="2325.8" cy="1945.6" r="3.4" fill="#ffaf00"/><circle cx="2328.94" cy="1954.11" r="3.4" fill="#ffb000"/><circle cx="2332.08" cy="1956.91" r="3.4" fill="#ffb100"/><circle cx="2335.21" cy="1956.73" r="3.4" fill="#ffb200"/><circle cx="2338.35" cy="1954.11" r="3.4" fill="#ffb300"/><circle cx="2341.49" cy="1944.85" r="3.4" fill="#ffb300"/><circle cx="2344.63" cy="1934.79" r="3.4" fill="#ffb400"/><circle cx="2347.77" cy="1921.49" r="3.4" fill="#ffb500"/><circle cx="2350.91" cy="1908.82" r="3.4" fill="#ffb600"/><circle cx="2354.05" cy="1900.8" r="3.4" fill="#ffb700"/><circle cx="2357.19" cy="1898.66" r="3.4" fill="#ffb800"/><circle cx="2360.33" cy="1901.65" r="3.4" fill="#ffb900"/><circle cx="2363.47" cy="1907.72" r="3.4" fill="#ffb900"/><circle cx="2366.6" cy="1914.3" r="3.4" fill="#ffba00"/><circle cx="2369.74" cy="1923.16" r="3.4" fill="#ffbb00"/><circle cx="2372.88" cy="1928.8" r="3.4" fill="#ffbc00"/><circle cx="2376.02" cy="1932.5" r="3.4" fill="#ffbd00"/><circle cx="2379.16" cy="1934.14" r="3.4" fill="#ffbe00"/><circle cx="2382.3" cy="1931.34" r="3.4" fill="#ffbf00"/><circle cx="2385.44" cy="1926.64" r="3.4" fill="#ffc000"/><circle cx="2388.58" cy="1920.66" r="3.4" fill="#ffc000"/><circle cx="2391.72" cy="1912.98" r="3.4" fill="#ffc100"/><circle cx="2394.86" cy="1905.29" r="3.4" fill="#ffc200"/><circle cx="2397.99" cy="1897.21" r="3.4" fill="#ffc300"/><circle cx="2401.13" cy="1888.25" r="3.4" fill="#ffc400"/><circle cx="2404.27" cy="1883.72" r="3.4" fill="#ffc500"/><circle cx="2407.41" cy="1882.33" r="3.4" fill="#ffc600"/><circle cx="2410.55" cy="1885.02" r="3.4" fill="#ffc600"/><circle cx="2413.69" cy="1890.76" r="3.4" fill="#ffc700"/><circle cx="2416.83" cy="1896.46" r="3.4" fill="#ffc800"/><circle cx="2419.97" cy="1898.87" r="3.4" fill="#ffc900"/><circle cx="2423.11" cy="1899.32" r="3.4" fill="#ffca00"/><circle cx="2426.25" cy="1897.38" r="3.4" fill="#ffcb00"/><circle cx="2429.38" cy="1895.17" r="3.4" fill="#ffcc00"/><circle cx="2432.52" cy="1893.48" r="3.4" fill="#ffcc00"/><circle cx="2435.66" cy="1890.99" r="3.4" fill="#ffcd00"/><circle cx="2438.8" cy="1887.01" r="3.4" fill="#ffce00"/><circle cx="2441.94" cy="1882.44" r="3.4" fill="#ffcf00"/><circle cx="2445.08" cy="1875.58" r="3.4" fill="#ffd000"/><circle cx="2448.22" cy="1871.28" r="3.4" fill="#ffd100"/><circle cx="2451.36" cy="1869.17" r="3.4" fill="#ffd200"/><circle cx="2454.5" cy="1871.15" r="3.4" fill="#ffd300"/><circle cx="2457.64" cy="1875.96" r="3.4" fill="#ffd300"/><circle cx="2460.77" cy="1881.88" r="3.4" fill="#ffd400"/><circle cx="2463.91" cy="1888.82" r="3.4" fill="#ffd500"/><circle cx="2467.05" cy="1895.74" r="3.4" fill="#ffd600"/><circle cx="2470.19" cy="1900.03" r="3.4" fill="#ffd700"/><circle cx="2473.33" cy="1901.94" r="3.4" fill="#ffd800"/><circle cx="2476.47" cy="1900.74" r="3.4" fill="#ffd900"/><circle cx="2479.61" cy="1897.8" r="3.4" fill="#ffd900"/><circle cx="2482.75" cy="1894.23" r="3.4" fill="#ffda00"/><circle cx="2485.89" cy="1889.5" r="3.4" fill="#ffdb00"/><circle cx="2489.02" cy="1883.96" r="3.4" fill="#ffdc00"/><circle cx="2492.16" cy="1879.48" r="3.4" fill="#ffdd00"/><circle cx="2495.3" cy="1874.7" r="3.4" fill="#ffde00"/><circle cx="2498.44" cy="1867.53" r="3.4" fill="#ffdf00"/><circle cx="2501.58" cy="1856.47" r="3.4" fill="#ffe000"/><circle cx="2504.72" cy="1845.04" r="3.4" fill="#ffe000"/><circle cx="2507.86" cy="1836.94" r="3.4" fill="#ffe100"/><circle cx="2511" cy="1832.22" r="3.4" fill="#ffe200"/><circle cx="2514.14" cy="1834.22" r="3.4" fill="#ffe300"/><circle cx="2517.28" cy="1843.79" r="3.4" fill="#ffe400"/><circle cx="2520.41" cy="1856.04" r="3.4" fill="#ffe500"/><circle cx="2523.55" cy="1868.72" r="3.4" fill="#ffe600"/><circle cx="2526.69" cy="1875.15" r="3.4" fill="#ffe600"/><circle cx="2529.83" cy="1878.96" r="3.4" fill="#ffe700"/><circle cx="2532.97" cy="1879.63" r="3.4" fill="#ffe800"/><circle cx="2536.11" cy="1877.13" r="3.4" fill="#ffe900"/><circle cx="2539.25" cy="1872.32" r="3.4" fill="#ffea00"/><circle cx="2542.39" cy="1863.86" r="3.4" fill="#ffeb00"/><circle cx="2545.53" cy="1854.05" r="3.4" fill="#ffec00"/><circle cx="2548.67" cy="1845.87" r="3.4" fill="#ffec00"/><circle cx="2551.8" cy="1836.97" r="3.4" fill="#ffed00"/><circle cx="2554.94" cy="1828.77" r="3.4" fill="#ffee00"/><circle cx="2558.08" cy="1821.35" r="3.4" fill="#ffef00"/><circle cx="2561.22" cy="1815.24" r="3.4" fill="#fff000"/><circle cx="2564.36" cy="1814.7" r="3.4" fill="#fff100"/><circle cx="2567.5" cy="1816.66" r="3.4" fill="#fff200"/><circle cx="2570.64" cy="1820.4" r="3.4" fill="#fff300"/><circle cx="2573.78" cy="1826.07" r="3.4" fill="#fff300"/><circle cx="2576.92" cy="1830.74" r="3.4" fill="#fff400"/><circle cx="2580.06" cy="1835.06" r="3.4" fill="#fff500"/><circle cx="2583.19" cy="1841.35" r="3.4" fill="#fff600"/><circle cx="2586.33" cy="1848.47" r="3.4" fill="#fff700"/><circle cx="2589.47" cy="1856.06" r="3.4" fill="#fff800"/><circle cx="2592.61" cy="1858.75" r="3.4" fill="#fff900"/><circle cx="2595.75" cy="1857.9" r="3.4" fill="#fff900"/><circle cx="2598.89" cy="1855.67" r="3.4" fill="#fffa00"/><circle cx="2602.03" cy="1853.81" r="3.4" fill="#fffb00"/><circle cx="2605.17" cy="1852.38" r="3.4" fill="#fffc00"/><circle cx="2608.31" cy="1853.68" r="3.4" fill="#fffd00"/><circle cx="2611.45" cy="1857.23" r="3.4" fill="#fffe00"/><circle cx="2614.58" cy="1862.67" r="3.4" fill="#ffff00"/><circle cx="2617.72" cy="1870.86" r="3.4" fill="#ffff00"/></g>
<g id="matplotlib.axis_7">
<g id="xtick_25">
<g id="line2d_99">
<path d="M 755.624348 900.864 
L 755.624348 500.282182 
" clip-path="url(#p9573fd72ad)" style="fill: none; stroke-dasharray: 0.8,1.32; stroke-dashoffset: 0; stroke: #000000; stroke-width: 0.8"/>
</g>
<g id="line2d_100">
<g>
<use xlink:href="#m1504cfccaf" x="755.624348" y="900.864" style="stroke: #000000; stroke-width: 0.8"/>
</g>
</g>
</g>
<g id="xtick_26">
<g id="line2d_101">
<path d="M 826.251652 900.864 
L 826.251652 500.282182 
" clip-path="url(#p9573fd72ad)" style="fill: none; stroke-dasharray: 0.8,1.32; stroke-dashoffset: 0; stroke: #000000; stroke-width: 0.8"/>
</g>
<g id="line2d_102">
<g>
<use xlink:href="#m1504cfccaf" x="826.251652" y="900.864" style="stroke: #000000; stroke-width: 0.8"/>
</g>
</g>
</g>
<g id="xtick_27">
<g id="line2d_103">
<path d="M 896.878957 900.864 
L 896.878957 500.282182 
" clip-path="url(#p9573fd72ad)" style="fill: none; stroke-dasharray: 0.8,1.32; stroke-dashoffset: 0; stroke: #000000; stroke-width: 0.8"/>
</g>
<g id="line2d_104">
<g>
<use xlink:href="#m1504cfccaf" x="896.878957" y="900.864" style="stroke: #000000; stroke-width: 0.8"/>
</g>
</g>
</g>
<g id="xtick_28">
<g id="line2d_105">
<path d="M 967.506261 900.864 
L 967.506261 500.282182 
" clip-path="url(#p9573fd72ad)" style="fill: none; stroke-dasharray: 0.8,1.32; stroke-dashoffset: 0; stroke: #000000; stroke-width: 0.8"/>
</g>
<g id="line2d_106">
<g>
<use xlink:href="#m1504cfccaf" x="967.506261" y="900.864" style="stroke: #000000; stroke-width: 0.8"/>
</g>
</g>
</g>
<g id="xtick_29">
<g id="line2d_107">
<path d="M 1038.133565 900.864 
L 1038.133565 500.282182 
" clip-path="url(#p9573fd72ad)" style="fill: none; stroke-dasharray: 0.8,1.32; stroke-dashoffset: 0; stroke: #000000; stroke-width: 0.8"/>
</g>
<g id="line2d_108">
<g>
<use xlink:href="#m1504cfccaf" x="1038.133565" y="900.864" style="stroke: #000000; stroke-width: 0.8"/>
</g>
</g>
</g>
<g id="xtick_30">
<g id="line2d_109">
<path d="M 1108.76087 900.864 
L 1108.76087 500.282182 
" clip-path="url(#p9573fd72ad)" style="fill: none; stroke-dasharray: 0.8,1.32; stroke-dashoffset: 0; stroke: #000000; stroke-width: 0.8"/>
</g>
<g id="line2d_110">
<g>
<use xlink:href="#m1504cfccaf" x="1108.76087" y="900.864" style="stroke: #000000; stroke-width: 0.8"/>
</g>
</g>
</g>
<g id="xtick_31">
<g id="line2d_111">
<path d="M 1179.388174 900.864 
L 1179.388174 500.282182 
" clip-path="url(#p9573fd72ad)" style="fill: none; stroke-dasharray: 0.8,1.32; stroke-dashoffset: 0; stroke: #000000; stroke-width: 0.8"/>
</g>
<g id="line2d_112">
<g>
<use xlink:href="#m1504cfccaf" x="1179.388174" y="900.864" style="stroke: #000000; stroke-width: 0.8"/>
</g>
</g>
</g>
</g>
<g id="matplotlib.axis_8">
<g id="ytick_26">
<g id="line2d_113">
<path d="M 755.624348 897.301901 
L 1179.388174 897.301901 
" clip-path="url(#p9573fd72ad)" style="fill: none; stroke-dasharray: 0.8,1.32; stroke-dashoffset: 0; stroke: #000000; stroke-width: 0.8"/>
</g>
<g id="line2d_114">
<g>
<use xlink:href="#m5d545ce8f8" x="755.624348" y="897.301901" style="stroke: #000000; stroke-width: 0.8"/>
</g>
</g>
</g>
<g id="ytick_27">
<g id="line2d_115">
<path d="M 755.624348 850.555202 
L 1179.388174 850.555202 
" clip-path="url(#p9573fd72ad)" style="fill: none; stroke-dasharray: 0.8,1.32; stroke-dashoffset: 0; stroke: #000000; stroke-width: 0.8"/>
</g>
<g id="line2d_116">
<g>
<use xlink:href="#m5d545ce8f8" x="755.624348" y="850.555202" style="stroke: #000000; stroke-width: 0.8"/>
</g>
</g>
</g>
<g id="ytick_28">
<g id="line2d_117">
<path d="M 755.624348 803.808502 
L 1179.388174 803.808502 
" clip-path="url(#p9573fd72ad)" style="fill: none; stroke-dasharray: 0.8,1.32; stroke-dashoffset: 0; stroke: #000000; stroke-width: 0.8"/>
</g>
<g id="line2d_118">
<g>
<use xlink:href="#m5d545ce8f8" x="755.624348" y="803.808502" style="stroke: #000000; stroke-width: 0.8"/>
</g>
</g>
</g>
<g id="ytick_29">
<g id="line2d_119">
<path d="M 755.624348 757.061803 
L 1179.388174 757.061803 
" clip-path="url(#p9573fd72ad)" style="fill: none; stroke-dasharray: 0.8,1.32; stroke-dashoffset: 0; stroke: #000000; stroke-width: 0.8"/>
</g>
<g id="line2d_120">
<g>
<use xlink:href="#m5d545ce8f8" x="755.624348" y="757.061803" style="stroke: #000000; stroke-width: 0.8"/>
</g>
</g>
</g>
<g id="ytick_30">
<g id="line2d_121">
<path d="M 755.624348 710.315103 
L 1179.388174 710.315103 
" clip-path="url(#p9573fd72ad)" style="fill: none; stroke-dasharray: 0.8,1.32; stroke-dashoffset: 0; stroke: #000000; stroke-width: 0.8"/>
</g>
<g id="line2d_122">
<g>
<use xlink:href="#m5d545ce8f8" x="755.624348" y="710.315103" style="stroke: #000000; stroke-width: 0.8"/>
</g>
</g>
</g>
<g id="ytick_31">
<g id="line2d_123">
<path d="M 755.624348 663.568404 
L 1179.388174 663.568404 
" clip-path="url(#p9573fd72ad)" style="fill: none; stroke-dasharray: 0.8,1.32; stroke-dashoffset: 0; stroke: #000000; stroke-width: 0.8"/>
</g>
<g id="line2d_124">
<g>
<use xlink:href="#m5d545ce8f8" x="755.624348" y="663.568404" style="stroke: #000000; stroke-width: 0.8"/>
</g>
</g>
</g>
<g id="ytick_32">
<g id="line2d_125">
<path d="M 755.624348 616.821704 
L 1179.388174 616.821704 
" clip-path="url(#p9573fd72ad)" style="fill: none; stroke-dasharray: 0.8,1.32; stroke-dashoffset: 0; stroke: #000000; stroke-width: 0.8"/>
</g>
<g id="line2d_126">
<g>
<use xlink:href="#m5d545ce8f8" x="755.624348" y="616.821704" style="stroke: #000000; stroke-width: 0.8"/>
</g>
</g>
</g>
<g id="ytick_33">
<g id="line2d_127">
<path d="M 755.624348 570.075004 
L 1179.388174 570.075004 
" clip-path="url(#p9573fd72ad)" style="fill: none; stroke-dasharray: 0.8,1.32; stroke-dashoffset: 0; stroke: #000000; stroke-width: 0.8"/>
</g>
<g id="line2d_128">
<g>
<use xlink:href="#m5d545ce8f8" x="755.624348" y="570.075004" style="stroke: #000000; stroke-width: 0.8"/>
</g>
</g>
</g>
<g id="ytick_34">
<g id="line2d_129">
<path d="M 755.624348 523.328305 
L 1179.388174 523.328305 
" clip-path="url(#p9573fd72ad)" style="fill: none; stroke-dasharray: 0.8,1.32; stroke-dashoffset: 0; stroke: #000000; stroke-width: 0.8"/>
</g>
<g id="line2d_130">
<g>
<use xlink:href="#m5d545ce8f8" x="755.624348" y="523.328305" style="stroke: #000000; stroke-width: 0.8"/>
</g>
</g>
</g>
</g>
<g id="patch_18">
<path d="M 755.624348 900.864 
L 755.624348 500.282182 
" style="fill: none; stroke: #000000; stroke-width: 0.8; stroke-linejoin: miter; stroke-linecap: square"/>
</g>
<g id="patch_19">
<path d="M 1179.388174 900.864 
L 1179.388174 500.282182 
" style="fill: none; stroke: #000000; stroke-width: 0.8; stroke-linejoin: miter; stroke-linecap: square"/>
</g>
<g id="patch_20">
<path d="M 755.624348 900.864 
L 1179.388174 900.864 
" style="fill: none; stroke: #000000; stroke-width: 0.8; stroke-linejoin: miter; stroke-linecap: square"/>
</g>
<g id="patch_21">
<path d="M 755.624348 500.282182 
L 1179.388174 500.282182 
" style="fill: none; stroke: #000000; stroke-width: 0.8; stroke-linejoin: miter; stroke-linecap: square"/>
</g>
</g>
<g id="axes_5">
<g id="patch_22">
<path d="M 529.951304 420.165818 
L 549.980395 420.165818 
L 549.980395 19.584 
L 529.951304 19.584 
z
" style="fill: #ffffff"/>
</g>
<rect x="529.9513" y="19.584" width="20.0291" height="400.5818" fill="url(#cbg)"/>
<g id="matplotlib.axis_9"/>
<g id="matplotlib.axis_10">
<g id="ytick_35">
<g id="line2d_131">
<defs>
<path id="m33c4ce201d" d="M 0 0 
L 3.5 0 
" style="stroke: #000000; stroke-width: 0.8"/>
</defs>
<g>
<use xlink:href="#m33c4ce201d" x="549.980395" y="221.836556" style="stroke: #000000; stroke-width: 0.8"/>
</g>
</g>
</g>
<g id="ytick_36">
<g id="line2d_132">
<g>
<use xlink:href="#m33c4ce201d" x="549.980395" y="19.584" style="stroke: #000000; stroke-width: 0.8"/>
</g>
</g>
</g>
</g>
<g id="LineCollection_1"/>
<g id="patch_23">
<path d="M 529.951304 420.165818 
L 539.96585 420.165818 
L 549.980395 420.165818 
L 549.980395 19.584 
L 539.96585 19.584 
L 529.951304 19.584 
L 529.951304 420.165818 
z
" style="fill: none; stroke: #000000; stroke-width: 0.8; stroke-linejoin: miter; stroke-linecap: square"/>
</g>
</g>
<g id="axes_6">
<g id="patch_24">
<path d="M 1181.895652 420.165818 
L 1201.924743 420.165818 
L 1201.924743 19.584 
L 1181.895652 19.584 
z
" style="fill: #ffffff"/>
</g>
<rect x="1181.8957" y="19.584" width="20.0291" height="400.5818" fill="url(#cbg)"/>
<g id="matplotlib.axis_11"/>
<g id="matplotlib.axis_12">
<g id="ytick_37">
<g id="line2d_133">
<g>
<use xlink:href="#m33c4ce201d" x="1201.924743" y="221.836556" style="stroke: #000000; stroke-width: 0.8"/>
</g>
</g>
</g>
<g id="ytick_38">
<g id="line2d_134">
<g>
<use xlink:href="#m33c4ce201d" x="1201.924743" y="19.584" style="stroke: #000000; stroke-width: 0.8"/>
</g>
</g>
</g>
</g>
<g id="LineCollection_2"/>
<g id="patch_25">
<path d="M 1181.895652 420.165818 
L 1191.910198 420.165818 
L 1201.924743 420.165818 
L 1201.924743 19.584 
L 1191.910198 19.584 
L 1181.895652 19.584 
L 1181.895652 420.165818 
z
" style="fill: none; stroke: #000000; stroke-width: 0.8; stroke-linejoin: miter; stroke-linecap: square"/>
</g>
</g>
<g id="axes_7">
<g id="patch_26">
<path d="M 529.951304 900.864 
L 549.980395 900.864 
L 549.980395 500.282182 
L 529.951304 500.282182 
z
" style="fill: #ffffff"/>
</g>
<rect x="529.9513" y="500.2822" width="20.0291" height="400.5818" fill="url(#cbg)"/>
<g id="matplotlib.axis_13"/>
<g id="matplotlib.axis_14">
<g id="ytick_39">
<g id="line2d_135">
<g>
<use xlink:href="#m33c4ce201d" x="549.980395" y="702.534738" style="stroke: #000000; stroke-width: 0.8"/>
</g>
</g>
</g>
<g id="ytick_40">
<g id="line2d_136">
<g>
<use xlink:href="#m33c4ce201d" x="549.980395" y="500.282182" style="stroke: #000000; stroke-width: 0.8"/>
</g>
</g>
</g>
</g>
<g id="LineCollection_3"/>
<g id="patch_27">
<path d="M 529.951304 900.864 
L 539.96585 900.864 
L 549.980395 900.864 
L 549.980395 500.282182 
L 539.96585 500.282182 
L 529.951304 500.282182 
L 529.951304 900.864 
z
" style="fill: none; stroke: #000000; stroke-width: 0.8; stroke-linejoin: miter; stroke-linecap: square"/>
</g>
</g>
<g id="axes_8">
<g id="patch_28">
<path d="M 1181.895652 900.864 
L 1201.924743 900.864 
L 1201.924743 500.282182 
L 1181.895652 500.282182 
z
" style="fill: #ffffff"/>
</g>
<rect x="1181.8957" y="500.2822" width="20.0291" height="400.5818" fill="url(#cbg)"/>
<g id="matplotlib.axis_15"/>
<g id="matplotlib.axis_16">
<g id="ytick_41">
<g id="line2d_137">
<g>
<use xlink:href="#m33c4ce201d" x="1201.924743" y="702.534738" style="stroke: #000000; stroke-width: 0.8"/>
</g>
</g>
</g>
<g id="ytick_42">
<g id="line2d_138">
<g>
<use xlink:href="#m33c4ce201d" x="1201.924743" y="500.282182" style="stroke: #000000; stroke-width: 0.8"/>
</g>
</g>
</g>
</g>
<g id="LineCollection_4"/>
<g id="patch_29">
<path d="M 1181.895652 900.864 
L 1191.910198 900.864 
L 1201.924743 900.864 
L 1201.924743 500.282182 
L 1191.910198 500.282182 
L 1181.895652 500.282182 
L 1181.895652 900.864 
z
" style="fill: none; stroke: #000000; stroke-width: 0.8; stroke-linejoin: miter; stroke-linecap: square"/>
</g>
</g>
</g>
<defs>
<clipPath id="pd6aecbfa7d">
<rect x="103.68" y="19.584" width="423.763826" height="400.581818"/>
</clipPath>
<clipPath id="p91a6668fea">
<rect x="755.624348" y="19.584" width="423.763826" height="400.581818"/>
</clipPath>
<clipPath id="pbb51925d36">
<rect x="103.68" y="500.282182" width="423.763826" height="400.581818"/>
</clipPath>
<clipPath id="p9573fd72ad">
<rect x="755.624348" y="500.282182" width="423.763826" height="400.581818"/>
</clipPath>
</defs>
<g transform="scale(0.45)" style="font-family:'Liberation Sans',sans-serif;font-kerning:none;fill:#000;stroke:#000;stroke-width:0.3;stroke-linejoin:miter;opacity:0.999"><text transform="matrix(1.2069 0 0 1.0718 157.49 995.23)" style="font-size:58.89px">−</text><text transform="matrix(0.9431 0 0 0.9754 203.21 991.23)" style="font-size:58.89px">1</text><text transform="matrix(0.9319 0 0 0.9804 238.53 991.44)" style="font-size:58.89px">5</text><text transform="matrix(0.9874 0 0 0.9834 272.93 991.43)" style="font-size:58.89px">0</text><text transform="matrix(1.2069 0 0 1.0718 314.49 995.23)" style="font-size:58.89px">−</text><text transform="matrix(0.9431 0 0 0.9754 360.21 991.23)" style="font-size:58.89px">1</text><text transform="matrix(0.9874 0 0 0.9834 394.84 991.43)" style="font-size:58.89px">0</text><text transform="matrix(0.9874 0 0 0.9834 429.93 991.43)" style="font-size:58.89px">0</text><text transform="matrix(1.1967 0 0 1.0718 489.52 995.23)" style="font-size:58.89px">−</text><text transform="matrix(0.924 0 0 0.9804 535.07 991.44)" style="font-size:58.89px">5</text><text transform="matrix(0.9791 0 0 0.9834 569.19 991.43)" style="font-size:58.89px">0</text><text transform="matrix(0.9947 0 0 0.9834 685.71 991.43)" style="font-size:58.89px">0</text><text transform="matrix(0.9278 0 0 0.9804 824.81 991.44)" style="font-size:58.89px">5</text><text transform="matrix(0.9831 0 0 0.9834 859.06 991.43)" style="font-size:58.89px">0</text><text transform="matrix(0.9375 0 0 0.9754 963.79 991.23)" style="font-size:58.89px">1</text><text transform="matrix(0.9816 0 0 0.9834 998.22 991.43)" style="font-size:58.89px">0</text><text transform="matrix(0.9816 0 0 0.9834 1033.11 991.43)" style="font-size:58.89px">0</text><text transform="matrix(0.9375 0 0 0.9754 1120.79 991.23)" style="font-size:58.89px">1</text><text transform="matrix(0.9264 0 0 0.9804 1155.91 991.44)" style="font-size:58.89px">5</text><text transform="matrix(0.9816 0 0 0.9834 1190.11 991.43)" style="font-size:58.89px">0</text><text transform="matrix(1.026 0 0 0.9808 589.22 1056.39)" style="font-size:58.89px;font-style:italic">x</text><text transform="matrix(1.0083 0 0 0.9063 662.07 1052.67)" style="font-size:58.89px">[</text><text transform="matrix(1.0323 0 0 0.9931 688.38 1056.78)" style="font-size:58.89px;font-style:italic">μ</text><text transform="matrix(1.0607 0 0 0.9871 742.06 1056.39)" style="font-size:58.89px;font-style:italic">m</text><text transform="matrix(1.0083 0 0 0.9063 803.64 1052.67)" style="font-size:58.89px">]</text><text transform="matrix(1.2069 0 0 1.0718 65.49 959.23)" style="font-size:58.89px">−</text><text transform="matrix(0.9431 0 0 0.9754 111.21 955.23)" style="font-size:58.89px">1</text><text transform="matrix(0.9319 0 0 0.9804 146.53 955.44)" style="font-size:58.89px">5</text><text transform="matrix(0.9874 0 0 0.9834 180.93 955.43)" style="font-size:58.89px">0</text><text transform="matrix(1.2069 0 0 1.0718 65.49 811.23)" style="font-size:58.89px">−</text><text transform="matrix(0.9431 0 0 0.9754 111.21 807.23)" style="font-size:58.89px">1</text><text transform="matrix(0.9874 0 0 0.9834 145.84 807.43)" style="font-size:58.89px">0</text><text transform="matrix(0.9874 0 0 0.9834 180.93 807.43)" style="font-size:58.89px">0</text><text transform="matrix(1.1967 0 0 1.0718 101.52 662.23)" style="font-size:58.89px">−</text><text transform="matrix(0.924 0 0 0.9804 147.07 658.44)" style="font-size:58.89px">5</text><text transform="matrix(0.9791 0 0 0.9834 181.19 658.43)" style="font-size:58.89px">0</text><text transform="matrix(0.9947 0 0 0.9834 181.71 510.43)" style="font-size:58.89px">0</text><text transform="matrix(0.9278 0 0 0.9804 146.81 361.44)" style="font-size:58.89px">5</text><text transform="matrix(0.9831 0 0 0.9834 181.06 361.43)" style="font-size:58.89px">0</text><text transform="matrix(0.9375 0 0 0.9754 110.79 213.23)" style="font-size:58.89px">1</text><text transform="matrix(0.9816 0 0 0.9834 145.22 213.43)" style="font-size:58.89px">0</text><text transform="matrix(0.9816 0 0 0.9834 180.11 213.43)" style="font-size:58.89px">0</text><text transform="matrix(0.9375 0 0 0.9754 110.79 65.23)" style="font-size:58.89px">1</text><text transform="matrix(0.9264 0 0 0.9804 145.91 65.44)" style="font-size:58.89px">5</text><text transform="matrix(0.9816 0 0 0.9834 180.11 65.43)" style="font-size:58.89px">0</text><text transform="matrix(0 -0.982 0.9678 0 39.17 601.42)" style="font-size:58.89px;font-style:italic">y</text><text transform="matrix(0 -0.957 0.9024 0 35.74 528.22)" style="font-size:58.89px">[</text><text transform="matrix(0 -1.0353 0.9888 0 39.83 502.72)" style="font-size:58.89px;font-style:italic">μ</text><text transform="matrix(0 -1.0629 0.9828 0 39.44 448.84)" style="font-size:58.89px;font-style:italic">m</text><text transform="matrix(0 -1.0126 0.9024 0 35.74 387.17)" style="font-size:58.89px">]</text><text transform="matrix(1.2029 0 0 1.0718 1597.51 995.23)" style="font-size:58.89px">−</text><text transform="matrix(0.9399 0 0 0.9754 1643.06 991.23)" style="font-size:58.89px">1</text><text transform="matrix(1.0102 0 0 1.0676 1676.67 991.23)" style="font-size:58.89px">.</text><text transform="matrix(0.9841 0 0 0.9834 1695.05 991.43)" style="font-size:58.89px">0</text><text transform="matrix(0.9841 0 0 0.9834 1730.03 991.43)" style="font-size:58.89px">0</text><text transform="matrix(1.204 0 0 1.0718 1715.5 995.23)" style="font-size:58.89px">−</text><text transform="matrix(0.9851 0 0 0.9834 1760.64 991.43)" style="font-size:58.89px">0</text><text transform="matrix(1.0112 0 0 1.0676 1794.74 991.23)" style="font-size:58.89px">.</text><text transform="matrix(0.9636 0 0 0.9754 1813.39 991.23)" style="font-size:58.89px">7</text><text transform="matrix(0.9297 0 0 0.9804 1848.85 991.44)" style="font-size:58.89px">5</text><text transform="matrix(1.2029 0 0 1.0718 1832.51 995.23)" style="font-size:58.89px">−</text><text transform="matrix(0.9841 0 0 0.9834 1877.6 991.43)" style="font-size:58.89px">0</text><text transform="matrix(1.0102 0 0 1.0676 1911.67 991.23)" style="font-size:58.89px">.</text><text transform="matrix(0.9288 0 0 0.9804 1930.75 991.44)" style="font-size:58.89px">5</text><text transform="matrix(0.9841 0 0 0.9834 1965.03 991.43)" style="font-size:58.89px">0</text><text transform="matrix(1.204 0 0 1.0718 1950.5 995.23)" style="font-size:58.89px">−</text><text transform="matrix(0.9851 0 0 0.9834 1995.64 991.43)" style="font-size:58.89px">0</text><text transform="matrix(1.0112 0 0 1.0676 2029.74 991.23)" style="font-size:58.89px">.</text><text transform="matrix(0.9495 0 0 0.9784 2048 991.23)" style="font-size:58.89px">2</text><text transform="matrix(0.9297 0 0 0.9804 2083.85 991.44)" style="font-size:58.89px">5</text><text transform="matrix(0.983 0 0 0.9834 2090.74 991.43)" style="font-size:58.89px">0</text><text transform="matrix(1.009 0 0 1.0676 2124.76 991.23)" style="font-size:58.89px">.</text><text transform="matrix(0.983 0 0 0.9834 2143.13 991.43)" style="font-size:58.89px">0</text><text transform="matrix(0.983 0 0 0.9834 2178.07 991.43)" style="font-size:58.89px">0</text><text transform="matrix(0.9843 0 0 0.9834 2208.74 991.43)" style="font-size:58.89px">0</text><text transform="matrix(1.0103 0 0 1.0676 2242.81 991.23)" style="font-size:58.89px">.</text><text transform="matrix(0.9487 0 0 0.9784 2261.06 991.23)" style="font-size:58.89px">2</text><text transform="matrix(0.9289 0 0 0.9804 2296.87 991.44)" style="font-size:58.89px">5</text><text transform="matrix(0.983 0 0 0.9834 2325.74 991.43)" style="font-size:58.89px">0</text><text transform="matrix(1.009 0 0 1.0676 2359.76 991.23)" style="font-size:58.89px">.</text><text transform="matrix(0.9277 0 0 0.9804 2378.82 991.44)" style="font-size:58.89px">5</text><text transform="matrix(0.983 0 0 0.9834 2413.07 991.43)" style="font-size:58.89px">0</text><text transform="matrix(0.9843 0 0 0.9834 2443.74 991.43)" style="font-size:58.89px">0</text><text transform="matrix(1.0103 0 0 1.0676 2477.81 991.23)" style="font-size:58.89px">.</text><text transform="matrix(0.9628 0 0 0.9754 2496.44 991.23)" style="font-size:58.89px">7</text><text transform="matrix(0.9289 0 0 0.9804 2531.87 991.44)" style="font-size:58.89px">5</text><text transform="matrix(0.9423 0 0 0.9754 2560.77 991.23)" style="font-size:58.89px">1</text><text transform="matrix(1.0127 0 0 1.0676 2594.46 991.23)" style="font-size:58.89px">.</text><text transform="matrix(0.9866 0 0 0.9834 2612.89 991.43)" style="font-size:58.89px">0</text><text transform="matrix(0.9866 0 0 0.9834 2647.96 991.43)" style="font-size:58.89px">0</text><text transform="matrix(1.0147 0 0 0.969 2078.73 1054.88)" style="font-size:58.89px;font-style:italic">v</text><text transform="matrix(1.0338 0 0 0.969 2111.46 1064)" style="font-size:41.22px;font-style:italic">x</text><text transform="matrix(0.9795 0 0 0.8954 2153.81 1051.21)" style="font-size:58.89px">[</text><text transform="matrix(1.0107 0 0 0.9812 2175.34 1055.1)" style="font-size:58.89px;font-style:italic">c</text><text transform="matrix(0.9795 0 0 0.8954 2210.09 1051.21)" style="font-size:58.89px">]</text><text transform="matrix(1.2029 0 0 1.0718 1497.51 959.23)" style="font-size:58.89px">−</text><text transform="matrix(0.9399 0 0 0.9754 1543.06 955.23)" style="font-size:58.89px">1</text><text transform="matrix(1.0102 0 0 1.0676 1576.67 955.23)" style="font-size:58.89px">.</text><text transform="matrix(0.9841 0 0 0.9834 1595.05 955.43)" style="font-size:58.89px">0</text><text transform="matrix(0.9841 0 0 0.9834 1630.03 955.43)" style="font-size:58.89px">0</text><text transform="matrix(1.204 0 0 1.0718 1497.5 848.23)" style="font-size:58.89px">−</text><text transform="matrix(0.9851 0 0 0.9834 1542.64 844.43)" style="font-size:58.89px">0</text><text transform="matrix(1.0112 0 0 1.0676 1576.74 844.23)" style="font-size:58.89px">.</text><text transform="matrix(0.9636 0 0 0.9754 1595.39 844.23)" style="font-size:58.89px">7</text><text transform="matrix(0.9297 0 0 0.9804 1630.85 844.44)" style="font-size:58.89px">5</text><text transform="matrix(1.2029 0 0 1.0718 1497.51 736.23)" style="font-size:58.89px">−</text><text transform="matrix(0.9841 0 0 0.9834 1542.6 732.43)" style="font-size:58.89px">0</text><text transform="matrix(1.0102 0 0 1.0676 1576.67 732.23)" style="font-size:58.89px">.</text><text transform="matrix(0.9288 0 0 0.9804 1595.75 732.44)" style="font-size:58.89px">5</text><text transform="matrix(0.9841 0 0 0.9834 1630.03 732.43)" style="font-size:58.89px">0</text><text transform="matrix(1.204 0 0 1.0718 1496.5 625.23)" style="font-size:58.89px">−</text><text transform="matrix(0.9851 0 0 0.9834 1541.64 621.43)" style="font-size:58.89px">0</text><text transform="matrix(1.0112 0 0 1.0676 1575.74 621.23)" style="font-size:58.89px">.</text><text transform="matrix(0.9495 0 0 0.9784 1594 621.23)" style="font-size:58.89px">2</text><text transform="matrix(0.9297 0 0 0.9804 1629.85 621.44)" style="font-size:58.89px">5</text><text transform="matrix(0.983 0 0 0.9834 1542.74 510.43)" style="font-size:58.89px">0</text><text transform="matrix(1.009 0 0 1.0676 1576.76 510.23)" style="font-size:58.89px">.</text><text transform="matrix(0.983 0 0 0.9834 1595.13 510.43)" style="font-size:58.89px">0</text><text transform="matrix(0.983 0 0 0.9834 1630.07 510.43)" style="font-size:58.89px">0</text><text transform="matrix(0.9843 0 0 0.9834 1542.74 399.43)" style="font-size:58.89px">0</text><text transform="matrix(1.0103 0 0 1.0676 1576.81 399.23)" style="font-size:58.89px">.</text><text transform="matrix(0.9487 0 0 0.9784 1595.06 399.23)" style="font-size:58.89px">2</text><text transform="matrix(0.9289 0 0 0.9804 1630.87 399.44)" style="font-size:58.89px">5</text><text transform="matrix(0.983 0 0 0.9834 1542.74 287.43)" style="font-size:58.89px">0</text><text transform="matrix(1.009 0 0 1.0676 1576.76 287.23)" style="font-size:58.89px">.</text><text transform="matrix(0.9277 0 0 0.9804 1595.82 287.44)" style="font-size:58.89px">5</text><text transform="matrix(0.983 0 0 0.9834 1630.07 287.43)" style="font-size:58.89px">0</text><text transform="matrix(0.9843 0 0 0.9834 1542.74 176.43)" style="font-size:58.89px">0</text><text transform="matrix(1.0103 0 0 1.0676 1576.81 176.23)" style="font-size:58.89px">.</text><text transform="matrix(0.9628 0 0 0.9754 1595.44 176.23)" style="font-size:58.89px">7</text><text transform="matrix(0.9289 0 0 0.9804 1630.87 176.44)" style="font-size:58.89px">5</text><text transform="matrix(0.9423 0 0 0.9754 1541.77 65.23)" style="font-size:58.89px">1</text><text transform="matrix(1.0127 0 0 1.0676 1575.46 65.23)" style="font-size:58.89px">.</text><text transform="matrix(0.9866 0 0 0.9834 1593.89 65.43)" style="font-size:58.89px">0</text><text transform="matrix(0.9866 0 0 0.9834 1628.96 65.43)" style="font-size:58.89px">0</text><text transform="matrix(0 -1.0147 0.9686 0 1463.86 561.27)" style="font-size:58.89px;font-style:italic">v</text><text transform="matrix(0 -0.9728 0.9599 0 1472.79 527.93)" style="font-size:41.22px;font-style:italic">y</text><text transform="matrix(0 -0.9795 0.895 0 1460.19 486.19)" style="font-size:58.89px">[</text><text transform="matrix(0 -1.0107 0.9807 0 1464.08 464.66)" style="font-size:58.89px;font-style:italic">c</text><text transform="matrix(0 -0.9795 0.895 0 1460.19 429.91)" style="font-size:58.89px">]</text><text transform="matrix(0.9947 0 0 0.9834 214.71 2060.43)" style="font-size:58.89px">0</text><text transform="matrix(0.9443 0 0 0.9784 322.2 2060.23)" style="font-size:58.89px">2</text><text transform="matrix(0.9797 0 0 0.9834 357.17 2060.43)" style="font-size:58.89px">0</text><text transform="matrix(0.9746 0 0 0.9754 448.68 2060.23)" style="font-size:58.89px">4</text><text transform="matrix(0.9745 0 0 0.9834 483.33 2060.43)" style="font-size:58.89px">0</text><text transform="matrix(1.0109 0 0 0.9834 573.98 2060.43)" style="font-size:58.89px">6</text><text transform="matrix(0.9768 0 0 0.9834 609.26 2060.43)" style="font-size:58.89px">0</text><text transform="matrix(0.9856 0 0 0.9834 699.48 2060.43)" style="font-size:58.89px">8</text><text transform="matrix(0.9751 0 0 0.9834 734.31 2060.43)" style="font-size:58.89px">0</text><text transform="matrix(0.9375 0 0 0.9754 806.79 2060.23)" style="font-size:58.89px">1</text><text transform="matrix(0.9816 0 0 0.9834 841.22 2060.43)" style="font-size:58.89px">0</text><text transform="matrix(0.9816 0 0 0.9834 876.11 2060.43)" style="font-size:58.89px">0</text><text transform="matrix(0.9375 0 0 0.9754 932.79 2060.23)" style="font-size:58.89px">1</text><text transform="matrix(0.9462 0 0 0.9784 967.08 2060.23)" style="font-size:58.89px">2</text><text transform="matrix(0.9816 0 0 0.9834 1002.11 2060.43)" style="font-size:58.89px">0</text><text transform="matrix(0.9375 0 0 0.9754 1057.79 2060.23)" style="font-size:58.89px">1</text><text transform="matrix(0.9817 0 0 0.9754 1092.21 2060.23)" style="font-size:58.89px">4</text><text transform="matrix(0.9816 0 0 0.9834 1127.11 2060.43)" style="font-size:58.89px">0</text><text transform="matrix(1.147 0 0 0.9862 617.88 2124.39)" style="font-size:58.89px;font-style:italic">r</text><text transform="matrix(0.978 0 0 0.9063 658.34 2120.67)" style="font-size:58.89px">[</text><text transform="matrix(1.0275 0 0 0.9931 679.79 2124.78)" style="font-size:58.89px;font-style:italic">μ</text><text transform="matrix(1.0614 0 0 0.9871 715.29 2124.39)" style="font-size:58.89px;font-style:italic">m</text><text transform="matrix(0.978 0 0 0.9063 773.1 2120.67)" style="font-size:58.89px">]</text><text transform="matrix(1.2029 0 0 1.0718 48.51 2027.23)" style="font-size:58.89px">−</text><text transform="matrix(0.9399 0 0 0.9754 94.06 2023.23)" style="font-size:58.89px">1</text><text transform="matrix(1.0102 0 0 1.0676 127.67 2023.23)" style="font-size:58.89px">.</text><text transform="matrix(0.9841 0 0 0.9834 146.05 2023.43)" style="font-size:58.89px">0</text><text transform="matrix(0.9841 0 0 0.9834 181.03 2023.43)" style="font-size:58.89px">0</text><text transform="matrix(1.204 0 0 1.0718 48.5 1916.23)" style="font-size:58.89px">−</text><text transform="matrix(0.9851 0 0 0.9834 93.64 1912.43)" style="font-size:58.89px">0</text><text transform="matrix(1.0112 0 0 1.0676 127.74 1912.23)" style="font-size:58.89px">.</text><text transform="matrix(0.9636 0 0 0.9754 146.39 1912.23)" style="font-size:58.89px">7</text><text transform="matrix(0.9297 0 0 0.9804 181.85 1912.44)" style="font-size:58.89px">5</text><text transform="matrix(1.2029 0 0 1.0718 48.51 1805.23)" style="font-size:58.89px">−</text><text transform="matrix(0.9841 0 0 0.9834 93.6 1801.43)" style="font-size:58.89px">0</text><text transform="matrix(1.0102 0 0 1.0676 127.67 1801.23)" style="font-size:58.89px">.</text><text transform="matrix(0.9288 0 0 0.9804 146.75 1801.44)" style="font-size:58.89px">5</text><text transform="matrix(0.9841 0 0 0.9834 181.03 1801.43)" style="font-size:58.89px">0</text><text transform="matrix(1.204 0 0 1.0718 48.5 1693.23)" style="font-size:58.89px">−</text><text transform="matrix(0.9851 0 0 0.9834 93.64 1689.43)" style="font-size:58.89px">0</text><text transform="matrix(1.0112 0 0 1.0676 127.74 1689.23)" style="font-size:58.89px">.</text><text transform="matrix(0.9495 0 0 0.9784 146 1689.23)" style="font-size:58.89px">2</text><text transform="matrix(0.9297 0 0 0.9804 181.85 1689.44)" style="font-size:58.89px">5</text><text transform="matrix(0.983 0 0 0.9834 93.74 1578.43)" style="font-size:58.89px">0</text><text transform="matrix(1.009 0 0 1.0676 127.76 1578.23)" style="font-size:58.89px">.</text><text transform="matrix(0.983 0 0 0.9834 146.13 1578.43)" style="font-size:58.89px">0</text><text transform="matrix(0.983 0 0 0.9834 181.07 1578.43)" style="font-size:58.89px">0</text><text transform="matrix(0.9843 0 0 0.9834 93.74 1467.43)" style="font-size:58.89px">0</text><text transform="matrix(1.0103 0 0 1.0676 127.81 1467.23)" style="font-size:58.89px">.</text><text transform="matrix(0.9487 0 0 0.9784 146.06 1467.23)" style="font-size:58.89px">2</text><text transform="matrix(0.9289 0 0 0.9804 181.87 1467.44)" style="font-size:58.89px">5</text><text transform="matrix(0.983 0 0 0.9834 93.74 1356.43)" style="font-size:58.89px">0</text><text transform="matrix(1.009 0 0 1.0676 127.76 1356.23)" style="font-size:58.89px">.</text><text transform="matrix(0.9277 0 0 0.9804 146.82 1356.44)" style="font-size:58.89px">5</text><text transform="matrix(0.983 0 0 0.9834 181.07 1356.43)" style="font-size:58.89px">0</text><text transform="matrix(0.9843 0 0 0.9834 93.74 1244.43)" style="font-size:58.89px">0</text><text transform="matrix(1.0103 0 0 1.0676 127.81 1244.23)" style="font-size:58.89px">.</text><text transform="matrix(0.9628 0 0 0.9754 146.44 1244.23)" style="font-size:58.89px">7</text><text transform="matrix(0.9289 0 0 0.9804 181.87 1244.44)" style="font-size:58.89px">5</text><text transform="matrix(0.9423 0 0 0.9754 93.77 1133.23)" style="font-size:58.89px">1</text><text transform="matrix(1.0127 0 0 1.0676 127.46 1133.23)" style="font-size:58.89px">.</text><text transform="matrix(0.9866 0 0 0.9834 145.89 1133.43)" style="font-size:58.89px">0</text><text transform="matrix(0.9866 0 0 0.9834 180.96 1133.43)" style="font-size:58.89px">0</text><text transform="matrix(0 -1.0071 0.9765 0 22.81 1625.24)" style="font-size:58.89px;font-style:italic">v</text><text transform="matrix(0 -1.1401 0.9819 0 32 1592.88)" style="font-size:41.22px;font-style:italic">r</text><text transform="matrix(0 -0.9721 0.9024 0 19.11 1557.68)" style="font-size:58.89px">[</text><text transform="matrix(0 -1.0031 0.9888 0 23.03 1536.31)" style="font-size:58.89px;font-style:italic">c</text><text transform="matrix(0 -0.9721 0.9024 0 19.11 1501.82)" style="font-size:58.89px">]</text><text transform="matrix(0.9947 0 0 0.9834 1663.71 2060.43)" style="font-size:58.89px">0</text><text transform="matrix(0.9278 0 0 0.9804 1802.81 2060.44)" style="font-size:58.89px">5</text><text transform="matrix(0.9831 0 0 0.9834 1837.06 2060.43)" style="font-size:58.89px">0</text><text transform="matrix(0.9375 0 0 0.9754 1941.79 2060.23)" style="font-size:58.89px">1</text><text transform="matrix(0.9816 0 0 0.9834 1976.22 2060.43)" style="font-size:58.89px">0</text><text transform="matrix(0.9816 0 0 0.9834 2011.11 2060.43)" style="font-size:58.89px">0</text><text transform="matrix(0.9375 0 0 0.9754 2098.79 2060.23)" style="font-size:58.89px">1</text><text transform="matrix(0.9264 0 0 0.9804 2133.91 2060.44)" style="font-size:58.89px">5</text><text transform="matrix(0.9816 0 0 0.9834 2168.11 2060.43)" style="font-size:58.89px">0</text><text transform="matrix(0.9461 0 0 0.9784 2255.2 2060.23)" style="font-size:58.89px">2</text><text transform="matrix(0.9815 0 0 0.9834 2290.23 2060.43)" style="font-size:58.89px">0</text><text transform="matrix(0.9815 0 0 0.9834 2325.11 2060.43)" style="font-size:58.89px">0</text><text transform="matrix(0.9461 0 0 0.9784 2412.2 2060.23)" style="font-size:58.89px">2</text><text transform="matrix(0.9263 0 0 0.9804 2447.92 2060.44)" style="font-size:58.89px">5</text><text transform="matrix(0.9815 0 0 0.9834 2482.11 2060.43)" style="font-size:58.89px">0</text><text transform="matrix(0.9442 0 0 0.9834 2569.88 2060.43)" style="font-size:58.89px">3</text><text transform="matrix(0.9831 0 0 0.9834 2604.12 2060.43)" style="font-size:58.89px">0</text><text transform="matrix(0.9831 0 0 0.9834 2639.06 2060.43)" style="font-size:58.89px">0</text><text transform="matrix(1.2589 0 0 0.991 2081.63 2121.87)" style="font-size:58.89px;font-style:italic">t</text><text transform="matrix(0.976 0 0 0.8859 2121.62 2118.8)" style="font-size:58.89px">[</text><text transform="matrix(1.0221 0 0 0.9814 2139.44 2122.44)" style="font-size:58.89px;font-style:italic">T</text><text transform="matrix(0.9876 0 0 0.9894 2177.1 2131.6)" style="font-size:41.22px">0</text><text transform="matrix(0.976 0 0 0.8859 2207.13 2118.8)" style="font-size:58.89px">]</text><text transform="matrix(1.2029 0 0 1.0718 1497.51 2019.23)" style="font-size:58.89px">−</text><text transform="matrix(0.9841 0 0 0.9834 1542.6 2015.43)" style="font-size:58.89px">0</text><text transform="matrix(1.0102 0 0 1.0676 1576.67 2015.23)" style="font-size:58.89px">.</text><text transform="matrix(0.9486 0 0 0.9784 1594.91 2015.23)" style="font-size:58.89px">2</text><text transform="matrix(0.9841 0 0 0.9834 1630.03 2015.43)" style="font-size:58.89px">0</text><text transform="matrix(1.204 0 0 1.0718 1497.5 1915.23)" style="font-size:58.89px">−</text><text transform="matrix(0.9851 0 0 0.9834 1542.64 1911.43)" style="font-size:58.89px">0</text><text transform="matrix(1.0112 0 0 1.0676 1576.74 1911.23)" style="font-size:58.89px">.</text><text transform="matrix(0.9408 0 0 0.9754 1595.61 1911.23)" style="font-size:58.89px">1</text><text transform="matrix(0.9297 0 0 0.9804 1630.85 1911.44)" style="font-size:58.89px">5</text><text transform="matrix(1.2029 0 0 1.0718 1497.51 1811.23)" style="font-size:58.89px">−</text><text transform="matrix(0.9841 0 0 0.9834 1542.6 1807.43)" style="font-size:58.89px">0</text><text transform="matrix(1.0102 0 0 1.0676 1576.67 1807.23)" style="font-size:58.89px">.</text><text transform="matrix(0.9399 0 0 0.9754 1595.52 1807.23)" style="font-size:58.89px">1</text><text transform="matrix(0.9841 0 0 0.9834 1630.03 1807.43)" style="font-size:58.89px">0</text><text transform="matrix(1.204 0 0 1.0718 1497.5 1708.23)" style="font-size:58.89px">−</text><text transform="matrix(0.9851 0 0 0.9834 1542.64 1704.43)" style="font-size:58.89px">0</text><text transform="matrix(1.0112 0 0 1.0676 1576.74 1704.23)" style="font-size:58.89px">.</text><text transform="matrix(0.9851 0 0 0.9834 1595.15 1704.43)" style="font-size:58.89px">0</text><text transform="matrix(0.9297 0 0 0.9804 1630.85 1704.44)" style="font-size:58.89px">5</text><text transform="matrix(0.983 0 0 0.9834 1542.74 1600.43)" style="font-size:58.89px">0</text><text transform="matrix(1.009 0 0 1.0676 1576.76 1600.23)" style="font-size:58.89px">.</text><text transform="matrix(0.983 0 0 0.9834 1595.13 1600.43)" style="font-size:58.89px">0</text><text transform="matrix(0.983 0 0 0.9834 1630.07 1600.43)" style="font-size:58.89px">0</text><text transform="matrix(0.9843 0 0 0.9834 1542.74 1496.43)" style="font-size:58.89px">0</text><text transform="matrix(1.0103 0 0 1.0676 1576.81 1496.23)" style="font-size:58.89px">.</text><text transform="matrix(0.9843 0 0 0.9834 1595.2 1496.43)" style="font-size:58.89px">0</text><text transform="matrix(0.9289 0 0 0.9804 1630.87 1496.44)" style="font-size:58.89px">5</text><text transform="matrix(0.983 0 0 0.9834 1542.74 1392.43)" style="font-size:58.89px">0</text><text transform="matrix(1.009 0 0 1.0676 1576.76 1392.23)" style="font-size:58.89px">.</text><text transform="matrix(0.9388 0 0 0.9754 1595.59 1392.23)" style="font-size:58.89px">1</text><text transform="matrix(0.983 0 0 0.9834 1630.07 1392.43)" style="font-size:58.89px">0</text><text transform="matrix(0.9843 0 0 0.9834 1542.74 1288.43)" style="font-size:58.89px">0</text><text transform="matrix(1.0103 0 0 1.0676 1576.81 1288.23)" style="font-size:58.89px">.</text><text transform="matrix(0.9401 0 0 0.9754 1595.66 1288.23)" style="font-size:58.89px">1</text><text transform="matrix(0.9289 0 0 0.9804 1630.87 1288.44)" style="font-size:58.89px">5</text><text transform="matrix(0.983 0 0 0.9834 1542.74 1184.43)" style="font-size:58.89px">0</text><text transform="matrix(1.009 0 0 1.0676 1576.76 1184.23)" style="font-size:58.89px">.</text><text transform="matrix(0.9475 0 0 0.9784 1594.99 1184.23)" style="font-size:58.89px">2</text><text transform="matrix(0.983 0 0 0.9834 1630.07 1184.43)" style="font-size:58.89px">0</text><text transform="matrix(0 -0.8785 0.9823 0 1471.43 1725.59)" style="font-size:58.89px;font-style:italic">E</text><text transform="matrix(0 -1.0322 0.9721 0 1471.43 1689.59)" style="font-size:58.89px;font-style:italic">k</text><text transform="matrix(0 -0.9282 0.9823 0 1471.43 1639.92)" style="font-size:58.89px;font-style:italic">W</text><text transform="matrix(0 -0.9797 0.8868 0 1467.79 1567.21)" style="font-size:58.89px">[</text><text transform="matrix(0 -1.0633 0.9658 0 1471.43 1545.37)" style="font-size:58.89px;font-style:italic">m</text><text transform="matrix(0 -1.0171 0.9717 0 1480.61 1492.01)" style="font-size:41.22px;font-style:italic">e</text><text transform="matrix(0 -1.0109 0.9717 0 1471.64 1466.43)" style="font-size:58.89px;font-style:italic">c</text><text transform="matrix(0 -0.9556 0.9854 0 1450.36 1433.15)" style="font-size:41.22px">2</text><text transform="matrix(0 -0.9797 0.8868 0 1467.79 1402.92)" style="font-size:58.89px">]</text><text transform="matrix(0.9443 0 0 0.9912 1238.95 507.44)" style="font-size:42.4px">1</text><text transform="matrix(0.9888 0 0 0.9912 1263.91 507.44)" style="font-size:42.4px">4</text><text transform="matrix(1.0212 0 0 0.9993 1288.71 507.59)" style="font-size:42.4px">9</text><text transform="matrix(1.0149 0 0 1.085 1313.86 507.44)" style="font-size:42.4px">.</text><text transform="matrix(0.9331 0 0 0.9964 1327.66 507.59)" style="font-size:42.4px">5</text><text transform="matrix(0.9504 0 0 0.9944 1239.97 58.44)" style="font-size:42.4px">2</text><text transform="matrix(1.0184 0 0 0.9993 1264.8 58.59)" style="font-size:42.4px">9</text><text transform="matrix(1.0184 0 0 0.9993 1290.04 58.59)" style="font-size:42.4px">9</text><text transform="matrix(1.0121 0 0 1.085 1315.12 58.44)" style="font-size:42.4px">.</text><text transform="matrix(0.986 0 0 0.9993 1328.38 58.59)" style="font-size:42.4px">0</text><text transform="matrix(0 -1.2589 0.991 0 1401.87 558.37)" style="font-size:58.89px;font-style:italic">t</text><text transform="matrix(0 -0.976 0.8859 0 1398.8 518.38)" style="font-size:58.89px">[</text><text transform="matrix(0 -1.0221 0.9814 0 1402.44 500.56)" style="font-size:58.89px;font-style:italic">T</text><text transform="matrix(0 -0.9876 0.9894 0 1411.6 462.9)" style="font-size:41.22px">0</text><text transform="matrix(0 -0.976 0.8859 0 1398.8 432.87)" style="font-size:58.89px">]</text><text transform="matrix(0.9443 0 0 0.9912 2687.95 507.44)" style="font-size:42.4px">1</text><text transform="matrix(0.9888 0 0 0.9912 2712.91 507.44)" style="font-size:42.4px">4</text><text transform="matrix(1.0212 0 0 0.9993 2737.71 507.59)" style="font-size:42.4px">9</text><text transform="matrix(1.0149 0 0 1.085 2762.86 507.44)" style="font-size:42.4px">.</text><text transform="matrix(0.9331 0 0 0.9964 2776.66 507.59)" style="font-size:42.4px">5</text><text transform="matrix(0.9504 0 0 0.9944 2687.97 58.44)" style="font-size:42.4px">2</text><text transform="matrix(1.0184 0 0 0.9993 2712.8 58.59)" style="font-size:42.4px">9</text><text transform="matrix(1.0184 0 0 0.9993 2738.04 58.59)" style="font-size:42.4px">9</text><text transform="matrix(1.0121 0 0 1.085 2763.12 58.44)" style="font-size:42.4px">.</text><text transform="matrix(0.986 0 0 0.9993 2776.38 58.59)" style="font-size:42.4px">0</text><text transform="matrix(0 -1.2589 0.991 0 2850.87 558.37)" style="font-size:58.89px;font-style:italic">t</text><text transform="matrix(0 -0.976 0.8859 0 2847.8 518.38)" style="font-size:58.89px">[</text><text transform="matrix(0 -1.0221 0.9814 0 2851.44 500.56)" style="font-size:58.89px;font-style:italic">T</text><text transform="matrix(0 -0.9876 0.9894 0 2860.6 462.9)" style="font-size:41.22px">0</text><text transform="matrix(0 -0.976 0.8859 0 2847.8 432.87)" style="font-size:58.89px">]</text><text transform="matrix(0.9443 0 0 0.9912 1238.95 1575.44)" style="font-size:42.4px">1</text><text transform="matrix(0.9888 0 0 0.9912 1263.91 1575.44)" style="font-size:42.4px">4</text><text transform="matrix(1.0212 0 0 0.9993 1288.71 1575.59)" style="font-size:42.4px">9</text><text transform="matrix(1.0149 0 0 1.085 1313.86 1575.44)" style="font-size:42.4px">.</text><text transform="matrix(0.9331 0 0 0.9964 1327.66 1575.59)" style="font-size:42.4px">5</text><text transform="matrix(0.9504 0 0 0.9944 1239.97 1126.44)" style="font-size:42.4px">2</text><text transform="matrix(1.0184 0 0 0.9993 1264.8 1126.59)" style="font-size:42.4px">9</text><text transform="matrix(1.0184 0 0 0.9993 1290.04 1126.59)" style="font-size:42.4px">9</text><text transform="matrix(1.0121 0 0 1.085 1315.12 1126.44)" style="font-size:42.4px">.</text><text transform="matrix(0.986 0 0 0.9993 1328.38 1126.59)" style="font-size:42.4px">0</text><text transform="matrix(0 -1.2589 0.991 0 1401.87 1626.37)" style="font-size:58.89px;font-style:italic">t</text><text transform="matrix(0 -0.976 0.8859 0 1398.8 1586.38)" style="font-size:58.89px">[</text><text transform="matrix(0 -1.0221 0.9814 0 1402.44 1568.56)" style="font-size:58.89px;font-style:italic">T</text><text transform="matrix(0 -0.9876 0.9894 0 1411.6 1530.9)" style="font-size:41.22px">0</text><text transform="matrix(0 -0.976 0.8859 0 1398.8 1500.87)" style="font-size:58.89px">]</text><text transform="matrix(0.9443 0 0 0.9912 2687.95 1575.44)" style="font-size:42.4px">1</text><text transform="matrix(0.9888 0 0 0.9912 2712.91 1575.44)" style="font-size:42.4px">4</text><text transform="matrix(1.0212 0 0 0.9993 2737.71 1575.59)" style="font-size:42.4px">9</text><text transform="matrix(1.0149 0 0 1.085 2762.86 1575.44)" style="font-size:42.4px">.</text><text transform="matrix(0.9331 0 0 0.9964 2776.66 1575.59)" style="font-size:42.4px">5</text><text transform="matrix(0.9504 0 0 0.9944 2687.97 1126.44)" style="font-size:42.4px">2</text><text transform="matrix(1.0184 0 0 0.9993 2712.8 1126.59)" style="font-size:42.4px">9</text><text transform="matrix(1.0184 0 0 0.9993 2738.04 1126.59)" style="font-size:42.4px">9</text><text transform="matrix(1.0121 0 0 1.085 2763.12 1126.44)" style="font-size:42.4px">.</text><text transform="matrix(0.986 0 0 0.9993 2776.38 1126.59)" style="font-size:42.4px">0</text><text transform="matrix(0 -1.2589 0.991 0 2850.87 1626.37)" style="font-size:58.89px;font-style:italic">t</text><text transform="matrix(0 -0.976 0.8859 0 2847.8 1586.38)" style="font-size:58.89px">[</text><text transform="matrix(0 -1.0221 0.9814 0 2851.44 1568.56)" style="font-size:58.89px;font-style:italic">T</text><text transform="matrix(0 -0.9876 0.9894 0 2860.6 1530.9)" style="font-size:41.22px">0</text><text transform="matrix(0 -0.976 0.8859 0 2847.8 1500.87)" style="font-size:58.89px">]</text></g></svg>

</body></html>
